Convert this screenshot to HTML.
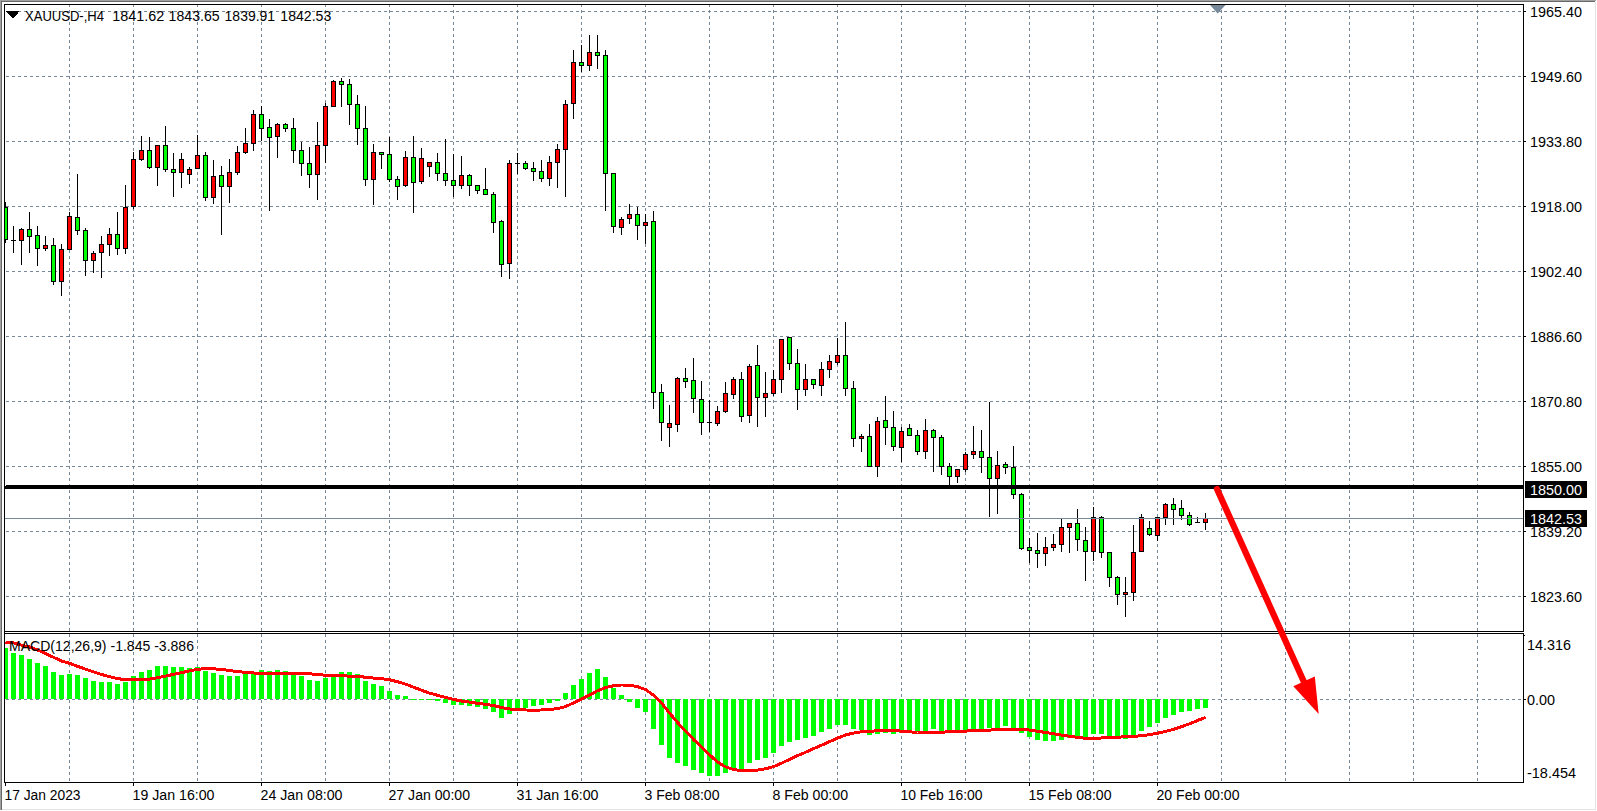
<!DOCTYPE html>
<html><head><meta charset="utf-8"><title>XAUUSD H4</title>
<style>html,body{margin:0;padding:0;background:#fff;width:1597px;height:811px;overflow:hidden}svg{display:block}text{shape-rendering:auto}</style>
</head><body><svg width="1597" height="811" viewBox="0 0 1597 811" shape-rendering="crispEdges"><rect x="0" y="0" width="1597" height="811" fill="#ffffff"/><rect x="0" y="0" width="1596" height="1" fill="#a0a0a0"/><rect x="0" y="1" width="1595" height="1" fill="#696969"/><rect x="0" y="0" width="1" height="810" fill="#a0a0a0"/><rect x="1" y="1" width="1" height="809" fill="#696969"/><rect x="1595" y="2" width="1" height="808" fill="#e3e3e3"/><rect x="2" y="809" width="1594" height="1" fill="#e3e3e3"/><path d="M6 11h3v1h-3zM12 11h3v1h-3zM18 11h3v1h-3zM24 11h3v1h-3zM30 11h3v1h-3zM36 11h3v1h-3zM42 11h3v1h-3zM48 11h3v1h-3zM54 11h3v1h-3zM60 11h3v1h-3zM66 11h3v1h-3zM72 11h3v1h-3zM78 11h3v1h-3zM84 11h3v1h-3zM90 11h3v1h-3zM96 11h3v1h-3zM102 11h3v1h-3zM108 11h3v1h-3zM114 11h3v1h-3zM120 11h3v1h-3zM126 11h3v1h-3zM132 11h3v1h-3zM138 11h3v1h-3zM144 11h3v1h-3zM150 11h3v1h-3zM156 11h3v1h-3zM162 11h3v1h-3zM168 11h3v1h-3zM174 11h3v1h-3zM180 11h3v1h-3zM186 11h3v1h-3zM192 11h3v1h-3zM198 11h3v1h-3zM204 11h3v1h-3zM210 11h3v1h-3zM216 11h3v1h-3zM222 11h3v1h-3zM228 11h3v1h-3zM234 11h3v1h-3zM240 11h3v1h-3zM246 11h3v1h-3zM252 11h3v1h-3zM258 11h3v1h-3zM264 11h3v1h-3zM270 11h3v1h-3zM276 11h3v1h-3zM282 11h3v1h-3zM288 11h3v1h-3zM294 11h3v1h-3zM300 11h3v1h-3zM306 11h3v1h-3zM312 11h3v1h-3zM318 11h3v1h-3zM324 11h3v1h-3zM330 11h3v1h-3zM336 11h3v1h-3zM342 11h3v1h-3zM348 11h3v1h-3zM354 11h3v1h-3zM360 11h3v1h-3zM366 11h3v1h-3zM372 11h3v1h-3zM378 11h3v1h-3zM384 11h3v1h-3zM390 11h3v1h-3zM396 11h3v1h-3zM402 11h3v1h-3zM408 11h3v1h-3zM414 11h3v1h-3zM420 11h3v1h-3zM426 11h3v1h-3zM432 11h3v1h-3zM438 11h3v1h-3zM444 11h3v1h-3zM450 11h3v1h-3zM456 11h3v1h-3zM462 11h3v1h-3zM468 11h3v1h-3zM474 11h3v1h-3zM480 11h3v1h-3zM486 11h3v1h-3zM492 11h3v1h-3zM498 11h3v1h-3zM504 11h3v1h-3zM510 11h3v1h-3zM516 11h3v1h-3zM522 11h3v1h-3zM528 11h3v1h-3zM534 11h3v1h-3zM540 11h3v1h-3zM546 11h3v1h-3zM552 11h3v1h-3zM558 11h3v1h-3zM564 11h3v1h-3zM570 11h3v1h-3zM576 11h3v1h-3zM582 11h3v1h-3zM588 11h3v1h-3zM594 11h3v1h-3zM600 11h3v1h-3zM606 11h3v1h-3zM612 11h3v1h-3zM618 11h3v1h-3zM624 11h3v1h-3zM630 11h3v1h-3zM636 11h3v1h-3zM642 11h3v1h-3zM648 11h3v1h-3zM654 11h3v1h-3zM660 11h3v1h-3zM666 11h3v1h-3zM672 11h3v1h-3zM678 11h3v1h-3zM684 11h3v1h-3zM690 11h3v1h-3zM696 11h3v1h-3zM702 11h3v1h-3zM708 11h3v1h-3zM714 11h3v1h-3zM720 11h3v1h-3zM726 11h3v1h-3zM732 11h3v1h-3zM738 11h3v1h-3zM744 11h3v1h-3zM750 11h3v1h-3zM756 11h3v1h-3zM762 11h3v1h-3zM768 11h3v1h-3zM774 11h3v1h-3zM780 11h3v1h-3zM786 11h3v1h-3zM792 11h3v1h-3zM798 11h3v1h-3zM804 11h3v1h-3zM810 11h3v1h-3zM816 11h3v1h-3zM822 11h3v1h-3zM828 11h3v1h-3zM834 11h3v1h-3zM840 11h3v1h-3zM846 11h3v1h-3zM852 11h3v1h-3zM858 11h3v1h-3zM864 11h3v1h-3zM870 11h3v1h-3zM876 11h3v1h-3zM882 11h3v1h-3zM888 11h3v1h-3zM894 11h3v1h-3zM900 11h3v1h-3zM906 11h3v1h-3zM912 11h3v1h-3zM918 11h3v1h-3zM924 11h3v1h-3zM930 11h3v1h-3zM936 11h3v1h-3zM942 11h3v1h-3zM948 11h3v1h-3zM954 11h3v1h-3zM960 11h3v1h-3zM966 11h3v1h-3zM972 11h3v1h-3zM978 11h3v1h-3zM984 11h3v1h-3zM990 11h3v1h-3zM996 11h3v1h-3zM1002 11h3v1h-3zM1008 11h3v1h-3zM1014 11h3v1h-3zM1020 11h3v1h-3zM1026 11h3v1h-3zM1032 11h3v1h-3zM1038 11h3v1h-3zM1044 11h3v1h-3zM1050 11h3v1h-3zM1056 11h3v1h-3zM1062 11h3v1h-3zM1068 11h3v1h-3zM1074 11h3v1h-3zM1080 11h3v1h-3zM1086 11h3v1h-3zM1092 11h3v1h-3zM1098 11h3v1h-3zM1104 11h3v1h-3zM1110 11h3v1h-3zM1116 11h3v1h-3zM1122 11h3v1h-3zM1128 11h3v1h-3zM1134 11h3v1h-3zM1140 11h3v1h-3zM1146 11h3v1h-3zM1152 11h3v1h-3zM1158 11h3v1h-3zM1164 11h3v1h-3zM1170 11h3v1h-3zM1176 11h3v1h-3zM1182 11h3v1h-3zM1188 11h3v1h-3zM1194 11h3v1h-3zM1200 11h3v1h-3zM1206 11h3v1h-3zM1212 11h3v1h-3zM1218 11h3v1h-3zM1224 11h3v1h-3zM1230 11h3v1h-3zM1236 11h3v1h-3zM1242 11h3v1h-3zM1248 11h3v1h-3zM1254 11h3v1h-3zM1260 11h3v1h-3zM1266 11h3v1h-3zM1272 11h3v1h-3zM1278 11h3v1h-3zM1284 11h3v1h-3zM1290 11h3v1h-3zM1296 11h3v1h-3zM1302 11h3v1h-3zM1308 11h3v1h-3zM1314 11h3v1h-3zM1320 11h3v1h-3zM1326 11h3v1h-3zM1332 11h3v1h-3zM1338 11h3v1h-3zM1344 11h3v1h-3zM1350 11h3v1h-3zM1356 11h3v1h-3zM1362 11h3v1h-3zM1368 11h3v1h-3zM1374 11h3v1h-3zM1380 11h3v1h-3zM1386 11h3v1h-3zM1392 11h3v1h-3zM1398 11h3v1h-3zM1404 11h3v1h-3zM1410 11h3v1h-3zM1416 11h3v1h-3zM1422 11h3v1h-3zM1428 11h3v1h-3zM1434 11h3v1h-3zM1440 11h3v1h-3zM1446 11h3v1h-3zM1452 11h3v1h-3zM1458 11h3v1h-3zM1464 11h3v1h-3zM1470 11h3v1h-3zM1476 11h3v1h-3zM1482 11h3v1h-3zM1488 11h3v1h-3zM1494 11h3v1h-3zM1500 11h3v1h-3zM1506 11h3v1h-3zM1512 11h3v1h-3zM1518 11h3v1h-3zM6 76h3v1h-3zM12 76h3v1h-3zM18 76h3v1h-3zM24 76h3v1h-3zM30 76h3v1h-3zM36 76h3v1h-3zM42 76h3v1h-3zM48 76h3v1h-3zM54 76h3v1h-3zM60 76h3v1h-3zM66 76h3v1h-3zM72 76h3v1h-3zM78 76h3v1h-3zM84 76h3v1h-3zM90 76h3v1h-3zM96 76h3v1h-3zM102 76h3v1h-3zM108 76h3v1h-3zM114 76h3v1h-3zM120 76h3v1h-3zM126 76h3v1h-3zM132 76h3v1h-3zM138 76h3v1h-3zM144 76h3v1h-3zM150 76h3v1h-3zM156 76h3v1h-3zM162 76h3v1h-3zM168 76h3v1h-3zM174 76h3v1h-3zM180 76h3v1h-3zM186 76h3v1h-3zM192 76h3v1h-3zM198 76h3v1h-3zM204 76h3v1h-3zM210 76h3v1h-3zM216 76h3v1h-3zM222 76h3v1h-3zM228 76h3v1h-3zM234 76h3v1h-3zM240 76h3v1h-3zM246 76h3v1h-3zM252 76h3v1h-3zM258 76h3v1h-3zM264 76h3v1h-3zM270 76h3v1h-3zM276 76h3v1h-3zM282 76h3v1h-3zM288 76h3v1h-3zM294 76h3v1h-3zM300 76h3v1h-3zM306 76h3v1h-3zM312 76h3v1h-3zM318 76h3v1h-3zM324 76h3v1h-3zM330 76h3v1h-3zM336 76h3v1h-3zM342 76h3v1h-3zM348 76h3v1h-3zM354 76h3v1h-3zM360 76h3v1h-3zM366 76h3v1h-3zM372 76h3v1h-3zM378 76h3v1h-3zM384 76h3v1h-3zM390 76h3v1h-3zM396 76h3v1h-3zM402 76h3v1h-3zM408 76h3v1h-3zM414 76h3v1h-3zM420 76h3v1h-3zM426 76h3v1h-3zM432 76h3v1h-3zM438 76h3v1h-3zM444 76h3v1h-3zM450 76h3v1h-3zM456 76h3v1h-3zM462 76h3v1h-3zM468 76h3v1h-3zM474 76h3v1h-3zM480 76h3v1h-3zM486 76h3v1h-3zM492 76h3v1h-3zM498 76h3v1h-3zM504 76h3v1h-3zM510 76h3v1h-3zM516 76h3v1h-3zM522 76h3v1h-3zM528 76h3v1h-3zM534 76h3v1h-3zM540 76h3v1h-3zM546 76h3v1h-3zM552 76h3v1h-3zM558 76h3v1h-3zM564 76h3v1h-3zM570 76h3v1h-3zM576 76h3v1h-3zM582 76h3v1h-3zM588 76h3v1h-3zM594 76h3v1h-3zM600 76h3v1h-3zM606 76h3v1h-3zM612 76h3v1h-3zM618 76h3v1h-3zM624 76h3v1h-3zM630 76h3v1h-3zM636 76h3v1h-3zM642 76h3v1h-3zM648 76h3v1h-3zM654 76h3v1h-3zM660 76h3v1h-3zM666 76h3v1h-3zM672 76h3v1h-3zM678 76h3v1h-3zM684 76h3v1h-3zM690 76h3v1h-3zM696 76h3v1h-3zM702 76h3v1h-3zM708 76h3v1h-3zM714 76h3v1h-3zM720 76h3v1h-3zM726 76h3v1h-3zM732 76h3v1h-3zM738 76h3v1h-3zM744 76h3v1h-3zM750 76h3v1h-3zM756 76h3v1h-3zM762 76h3v1h-3zM768 76h3v1h-3zM774 76h3v1h-3zM780 76h3v1h-3zM786 76h3v1h-3zM792 76h3v1h-3zM798 76h3v1h-3zM804 76h3v1h-3zM810 76h3v1h-3zM816 76h3v1h-3zM822 76h3v1h-3zM828 76h3v1h-3zM834 76h3v1h-3zM840 76h3v1h-3zM846 76h3v1h-3zM852 76h3v1h-3zM858 76h3v1h-3zM864 76h3v1h-3zM870 76h3v1h-3zM876 76h3v1h-3zM882 76h3v1h-3zM888 76h3v1h-3zM894 76h3v1h-3zM900 76h3v1h-3zM906 76h3v1h-3zM912 76h3v1h-3zM918 76h3v1h-3zM924 76h3v1h-3zM930 76h3v1h-3zM936 76h3v1h-3zM942 76h3v1h-3zM948 76h3v1h-3zM954 76h3v1h-3zM960 76h3v1h-3zM966 76h3v1h-3zM972 76h3v1h-3zM978 76h3v1h-3zM984 76h3v1h-3zM990 76h3v1h-3zM996 76h3v1h-3zM1002 76h3v1h-3zM1008 76h3v1h-3zM1014 76h3v1h-3zM1020 76h3v1h-3zM1026 76h3v1h-3zM1032 76h3v1h-3zM1038 76h3v1h-3zM1044 76h3v1h-3zM1050 76h3v1h-3zM1056 76h3v1h-3zM1062 76h3v1h-3zM1068 76h3v1h-3zM1074 76h3v1h-3zM1080 76h3v1h-3zM1086 76h3v1h-3zM1092 76h3v1h-3zM1098 76h3v1h-3zM1104 76h3v1h-3zM1110 76h3v1h-3zM1116 76h3v1h-3zM1122 76h3v1h-3zM1128 76h3v1h-3zM1134 76h3v1h-3zM1140 76h3v1h-3zM1146 76h3v1h-3zM1152 76h3v1h-3zM1158 76h3v1h-3zM1164 76h3v1h-3zM1170 76h3v1h-3zM1176 76h3v1h-3zM1182 76h3v1h-3zM1188 76h3v1h-3zM1194 76h3v1h-3zM1200 76h3v1h-3zM1206 76h3v1h-3zM1212 76h3v1h-3zM1218 76h3v1h-3zM1224 76h3v1h-3zM1230 76h3v1h-3zM1236 76h3v1h-3zM1242 76h3v1h-3zM1248 76h3v1h-3zM1254 76h3v1h-3zM1260 76h3v1h-3zM1266 76h3v1h-3zM1272 76h3v1h-3zM1278 76h3v1h-3zM1284 76h3v1h-3zM1290 76h3v1h-3zM1296 76h3v1h-3zM1302 76h3v1h-3zM1308 76h3v1h-3zM1314 76h3v1h-3zM1320 76h3v1h-3zM1326 76h3v1h-3zM1332 76h3v1h-3zM1338 76h3v1h-3zM1344 76h3v1h-3zM1350 76h3v1h-3zM1356 76h3v1h-3zM1362 76h3v1h-3zM1368 76h3v1h-3zM1374 76h3v1h-3zM1380 76h3v1h-3zM1386 76h3v1h-3zM1392 76h3v1h-3zM1398 76h3v1h-3zM1404 76h3v1h-3zM1410 76h3v1h-3zM1416 76h3v1h-3zM1422 76h3v1h-3zM1428 76h3v1h-3zM1434 76h3v1h-3zM1440 76h3v1h-3zM1446 76h3v1h-3zM1452 76h3v1h-3zM1458 76h3v1h-3zM1464 76h3v1h-3zM1470 76h3v1h-3zM1476 76h3v1h-3zM1482 76h3v1h-3zM1488 76h3v1h-3zM1494 76h3v1h-3zM1500 76h3v1h-3zM1506 76h3v1h-3zM1512 76h3v1h-3zM1518 76h3v1h-3zM6 141h3v1h-3zM12 141h3v1h-3zM18 141h3v1h-3zM24 141h3v1h-3zM30 141h3v1h-3zM36 141h3v1h-3zM42 141h3v1h-3zM48 141h3v1h-3zM54 141h3v1h-3zM60 141h3v1h-3zM66 141h3v1h-3zM72 141h3v1h-3zM78 141h3v1h-3zM84 141h3v1h-3zM90 141h3v1h-3zM96 141h3v1h-3zM102 141h3v1h-3zM108 141h3v1h-3zM114 141h3v1h-3zM120 141h3v1h-3zM126 141h3v1h-3zM132 141h3v1h-3zM138 141h3v1h-3zM144 141h3v1h-3zM150 141h3v1h-3zM156 141h3v1h-3zM162 141h3v1h-3zM168 141h3v1h-3zM174 141h3v1h-3zM180 141h3v1h-3zM186 141h3v1h-3zM192 141h3v1h-3zM198 141h3v1h-3zM204 141h3v1h-3zM210 141h3v1h-3zM216 141h3v1h-3zM222 141h3v1h-3zM228 141h3v1h-3zM234 141h3v1h-3zM240 141h3v1h-3zM246 141h3v1h-3zM252 141h3v1h-3zM258 141h3v1h-3zM264 141h3v1h-3zM270 141h3v1h-3zM276 141h3v1h-3zM282 141h3v1h-3zM288 141h3v1h-3zM294 141h3v1h-3zM300 141h3v1h-3zM306 141h3v1h-3zM312 141h3v1h-3zM318 141h3v1h-3zM324 141h3v1h-3zM330 141h3v1h-3zM336 141h3v1h-3zM342 141h3v1h-3zM348 141h3v1h-3zM354 141h3v1h-3zM360 141h3v1h-3zM366 141h3v1h-3zM372 141h3v1h-3zM378 141h3v1h-3zM384 141h3v1h-3zM390 141h3v1h-3zM396 141h3v1h-3zM402 141h3v1h-3zM408 141h3v1h-3zM414 141h3v1h-3zM420 141h3v1h-3zM426 141h3v1h-3zM432 141h3v1h-3zM438 141h3v1h-3zM444 141h3v1h-3zM450 141h3v1h-3zM456 141h3v1h-3zM462 141h3v1h-3zM468 141h3v1h-3zM474 141h3v1h-3zM480 141h3v1h-3zM486 141h3v1h-3zM492 141h3v1h-3zM498 141h3v1h-3zM504 141h3v1h-3zM510 141h3v1h-3zM516 141h3v1h-3zM522 141h3v1h-3zM528 141h3v1h-3zM534 141h3v1h-3zM540 141h3v1h-3zM546 141h3v1h-3zM552 141h3v1h-3zM558 141h3v1h-3zM564 141h3v1h-3zM570 141h3v1h-3zM576 141h3v1h-3zM582 141h3v1h-3zM588 141h3v1h-3zM594 141h3v1h-3zM600 141h3v1h-3zM606 141h3v1h-3zM612 141h3v1h-3zM618 141h3v1h-3zM624 141h3v1h-3zM630 141h3v1h-3zM636 141h3v1h-3zM642 141h3v1h-3zM648 141h3v1h-3zM654 141h3v1h-3zM660 141h3v1h-3zM666 141h3v1h-3zM672 141h3v1h-3zM678 141h3v1h-3zM684 141h3v1h-3zM690 141h3v1h-3zM696 141h3v1h-3zM702 141h3v1h-3zM708 141h3v1h-3zM714 141h3v1h-3zM720 141h3v1h-3zM726 141h3v1h-3zM732 141h3v1h-3zM738 141h3v1h-3zM744 141h3v1h-3zM750 141h3v1h-3zM756 141h3v1h-3zM762 141h3v1h-3zM768 141h3v1h-3zM774 141h3v1h-3zM780 141h3v1h-3zM786 141h3v1h-3zM792 141h3v1h-3zM798 141h3v1h-3zM804 141h3v1h-3zM810 141h3v1h-3zM816 141h3v1h-3zM822 141h3v1h-3zM828 141h3v1h-3zM834 141h3v1h-3zM840 141h3v1h-3zM846 141h3v1h-3zM852 141h3v1h-3zM858 141h3v1h-3zM864 141h3v1h-3zM870 141h3v1h-3zM876 141h3v1h-3zM882 141h3v1h-3zM888 141h3v1h-3zM894 141h3v1h-3zM900 141h3v1h-3zM906 141h3v1h-3zM912 141h3v1h-3zM918 141h3v1h-3zM924 141h3v1h-3zM930 141h3v1h-3zM936 141h3v1h-3zM942 141h3v1h-3zM948 141h3v1h-3zM954 141h3v1h-3zM960 141h3v1h-3zM966 141h3v1h-3zM972 141h3v1h-3zM978 141h3v1h-3zM984 141h3v1h-3zM990 141h3v1h-3zM996 141h3v1h-3zM1002 141h3v1h-3zM1008 141h3v1h-3zM1014 141h3v1h-3zM1020 141h3v1h-3zM1026 141h3v1h-3zM1032 141h3v1h-3zM1038 141h3v1h-3zM1044 141h3v1h-3zM1050 141h3v1h-3zM1056 141h3v1h-3zM1062 141h3v1h-3zM1068 141h3v1h-3zM1074 141h3v1h-3zM1080 141h3v1h-3zM1086 141h3v1h-3zM1092 141h3v1h-3zM1098 141h3v1h-3zM1104 141h3v1h-3zM1110 141h3v1h-3zM1116 141h3v1h-3zM1122 141h3v1h-3zM1128 141h3v1h-3zM1134 141h3v1h-3zM1140 141h3v1h-3zM1146 141h3v1h-3zM1152 141h3v1h-3zM1158 141h3v1h-3zM1164 141h3v1h-3zM1170 141h3v1h-3zM1176 141h3v1h-3zM1182 141h3v1h-3zM1188 141h3v1h-3zM1194 141h3v1h-3zM1200 141h3v1h-3zM1206 141h3v1h-3zM1212 141h3v1h-3zM1218 141h3v1h-3zM1224 141h3v1h-3zM1230 141h3v1h-3zM1236 141h3v1h-3zM1242 141h3v1h-3zM1248 141h3v1h-3zM1254 141h3v1h-3zM1260 141h3v1h-3zM1266 141h3v1h-3zM1272 141h3v1h-3zM1278 141h3v1h-3zM1284 141h3v1h-3zM1290 141h3v1h-3zM1296 141h3v1h-3zM1302 141h3v1h-3zM1308 141h3v1h-3zM1314 141h3v1h-3zM1320 141h3v1h-3zM1326 141h3v1h-3zM1332 141h3v1h-3zM1338 141h3v1h-3zM1344 141h3v1h-3zM1350 141h3v1h-3zM1356 141h3v1h-3zM1362 141h3v1h-3zM1368 141h3v1h-3zM1374 141h3v1h-3zM1380 141h3v1h-3zM1386 141h3v1h-3zM1392 141h3v1h-3zM1398 141h3v1h-3zM1404 141h3v1h-3zM1410 141h3v1h-3zM1416 141h3v1h-3zM1422 141h3v1h-3zM1428 141h3v1h-3zM1434 141h3v1h-3zM1440 141h3v1h-3zM1446 141h3v1h-3zM1452 141h3v1h-3zM1458 141h3v1h-3zM1464 141h3v1h-3zM1470 141h3v1h-3zM1476 141h3v1h-3zM1482 141h3v1h-3zM1488 141h3v1h-3zM1494 141h3v1h-3zM1500 141h3v1h-3zM1506 141h3v1h-3zM1512 141h3v1h-3zM1518 141h3v1h-3zM6 206h3v1h-3zM12 206h3v1h-3zM18 206h3v1h-3zM24 206h3v1h-3zM30 206h3v1h-3zM36 206h3v1h-3zM42 206h3v1h-3zM48 206h3v1h-3zM54 206h3v1h-3zM60 206h3v1h-3zM66 206h3v1h-3zM72 206h3v1h-3zM78 206h3v1h-3zM84 206h3v1h-3zM90 206h3v1h-3zM96 206h3v1h-3zM102 206h3v1h-3zM108 206h3v1h-3zM114 206h3v1h-3zM120 206h3v1h-3zM126 206h3v1h-3zM132 206h3v1h-3zM138 206h3v1h-3zM144 206h3v1h-3zM150 206h3v1h-3zM156 206h3v1h-3zM162 206h3v1h-3zM168 206h3v1h-3zM174 206h3v1h-3zM180 206h3v1h-3zM186 206h3v1h-3zM192 206h3v1h-3zM198 206h3v1h-3zM204 206h3v1h-3zM210 206h3v1h-3zM216 206h3v1h-3zM222 206h3v1h-3zM228 206h3v1h-3zM234 206h3v1h-3zM240 206h3v1h-3zM246 206h3v1h-3zM252 206h3v1h-3zM258 206h3v1h-3zM264 206h3v1h-3zM270 206h3v1h-3zM276 206h3v1h-3zM282 206h3v1h-3zM288 206h3v1h-3zM294 206h3v1h-3zM300 206h3v1h-3zM306 206h3v1h-3zM312 206h3v1h-3zM318 206h3v1h-3zM324 206h3v1h-3zM330 206h3v1h-3zM336 206h3v1h-3zM342 206h3v1h-3zM348 206h3v1h-3zM354 206h3v1h-3zM360 206h3v1h-3zM366 206h3v1h-3zM372 206h3v1h-3zM378 206h3v1h-3zM384 206h3v1h-3zM390 206h3v1h-3zM396 206h3v1h-3zM402 206h3v1h-3zM408 206h3v1h-3zM414 206h3v1h-3zM420 206h3v1h-3zM426 206h3v1h-3zM432 206h3v1h-3zM438 206h3v1h-3zM444 206h3v1h-3zM450 206h3v1h-3zM456 206h3v1h-3zM462 206h3v1h-3zM468 206h3v1h-3zM474 206h3v1h-3zM480 206h3v1h-3zM486 206h3v1h-3zM492 206h3v1h-3zM498 206h3v1h-3zM504 206h3v1h-3zM510 206h3v1h-3zM516 206h3v1h-3zM522 206h3v1h-3zM528 206h3v1h-3zM534 206h3v1h-3zM540 206h3v1h-3zM546 206h3v1h-3zM552 206h3v1h-3zM558 206h3v1h-3zM564 206h3v1h-3zM570 206h3v1h-3zM576 206h3v1h-3zM582 206h3v1h-3zM588 206h3v1h-3zM594 206h3v1h-3zM600 206h3v1h-3zM606 206h3v1h-3zM612 206h3v1h-3zM618 206h3v1h-3zM624 206h3v1h-3zM630 206h3v1h-3zM636 206h3v1h-3zM642 206h3v1h-3zM648 206h3v1h-3zM654 206h3v1h-3zM660 206h3v1h-3zM666 206h3v1h-3zM672 206h3v1h-3zM678 206h3v1h-3zM684 206h3v1h-3zM690 206h3v1h-3zM696 206h3v1h-3zM702 206h3v1h-3zM708 206h3v1h-3zM714 206h3v1h-3zM720 206h3v1h-3zM726 206h3v1h-3zM732 206h3v1h-3zM738 206h3v1h-3zM744 206h3v1h-3zM750 206h3v1h-3zM756 206h3v1h-3zM762 206h3v1h-3zM768 206h3v1h-3zM774 206h3v1h-3zM780 206h3v1h-3zM786 206h3v1h-3zM792 206h3v1h-3zM798 206h3v1h-3zM804 206h3v1h-3zM810 206h3v1h-3zM816 206h3v1h-3zM822 206h3v1h-3zM828 206h3v1h-3zM834 206h3v1h-3zM840 206h3v1h-3zM846 206h3v1h-3zM852 206h3v1h-3zM858 206h3v1h-3zM864 206h3v1h-3zM870 206h3v1h-3zM876 206h3v1h-3zM882 206h3v1h-3zM888 206h3v1h-3zM894 206h3v1h-3zM900 206h3v1h-3zM906 206h3v1h-3zM912 206h3v1h-3zM918 206h3v1h-3zM924 206h3v1h-3zM930 206h3v1h-3zM936 206h3v1h-3zM942 206h3v1h-3zM948 206h3v1h-3zM954 206h3v1h-3zM960 206h3v1h-3zM966 206h3v1h-3zM972 206h3v1h-3zM978 206h3v1h-3zM984 206h3v1h-3zM990 206h3v1h-3zM996 206h3v1h-3zM1002 206h3v1h-3zM1008 206h3v1h-3zM1014 206h3v1h-3zM1020 206h3v1h-3zM1026 206h3v1h-3zM1032 206h3v1h-3zM1038 206h3v1h-3zM1044 206h3v1h-3zM1050 206h3v1h-3zM1056 206h3v1h-3zM1062 206h3v1h-3zM1068 206h3v1h-3zM1074 206h3v1h-3zM1080 206h3v1h-3zM1086 206h3v1h-3zM1092 206h3v1h-3zM1098 206h3v1h-3zM1104 206h3v1h-3zM1110 206h3v1h-3zM1116 206h3v1h-3zM1122 206h3v1h-3zM1128 206h3v1h-3zM1134 206h3v1h-3zM1140 206h3v1h-3zM1146 206h3v1h-3zM1152 206h3v1h-3zM1158 206h3v1h-3zM1164 206h3v1h-3zM1170 206h3v1h-3zM1176 206h3v1h-3zM1182 206h3v1h-3zM1188 206h3v1h-3zM1194 206h3v1h-3zM1200 206h3v1h-3zM1206 206h3v1h-3zM1212 206h3v1h-3zM1218 206h3v1h-3zM1224 206h3v1h-3zM1230 206h3v1h-3zM1236 206h3v1h-3zM1242 206h3v1h-3zM1248 206h3v1h-3zM1254 206h3v1h-3zM1260 206h3v1h-3zM1266 206h3v1h-3zM1272 206h3v1h-3zM1278 206h3v1h-3zM1284 206h3v1h-3zM1290 206h3v1h-3zM1296 206h3v1h-3zM1302 206h3v1h-3zM1308 206h3v1h-3zM1314 206h3v1h-3zM1320 206h3v1h-3zM1326 206h3v1h-3zM1332 206h3v1h-3zM1338 206h3v1h-3zM1344 206h3v1h-3zM1350 206h3v1h-3zM1356 206h3v1h-3zM1362 206h3v1h-3zM1368 206h3v1h-3zM1374 206h3v1h-3zM1380 206h3v1h-3zM1386 206h3v1h-3zM1392 206h3v1h-3zM1398 206h3v1h-3zM1404 206h3v1h-3zM1410 206h3v1h-3zM1416 206h3v1h-3zM1422 206h3v1h-3zM1428 206h3v1h-3zM1434 206h3v1h-3zM1440 206h3v1h-3zM1446 206h3v1h-3zM1452 206h3v1h-3zM1458 206h3v1h-3zM1464 206h3v1h-3zM1470 206h3v1h-3zM1476 206h3v1h-3zM1482 206h3v1h-3zM1488 206h3v1h-3zM1494 206h3v1h-3zM1500 206h3v1h-3zM1506 206h3v1h-3zM1512 206h3v1h-3zM1518 206h3v1h-3zM6 271h3v1h-3zM12 271h3v1h-3zM18 271h3v1h-3zM24 271h3v1h-3zM30 271h3v1h-3zM36 271h3v1h-3zM42 271h3v1h-3zM48 271h3v1h-3zM54 271h3v1h-3zM60 271h3v1h-3zM66 271h3v1h-3zM72 271h3v1h-3zM78 271h3v1h-3zM84 271h3v1h-3zM90 271h3v1h-3zM96 271h3v1h-3zM102 271h3v1h-3zM108 271h3v1h-3zM114 271h3v1h-3zM120 271h3v1h-3zM126 271h3v1h-3zM132 271h3v1h-3zM138 271h3v1h-3zM144 271h3v1h-3zM150 271h3v1h-3zM156 271h3v1h-3zM162 271h3v1h-3zM168 271h3v1h-3zM174 271h3v1h-3zM180 271h3v1h-3zM186 271h3v1h-3zM192 271h3v1h-3zM198 271h3v1h-3zM204 271h3v1h-3zM210 271h3v1h-3zM216 271h3v1h-3zM222 271h3v1h-3zM228 271h3v1h-3zM234 271h3v1h-3zM240 271h3v1h-3zM246 271h3v1h-3zM252 271h3v1h-3zM258 271h3v1h-3zM264 271h3v1h-3zM270 271h3v1h-3zM276 271h3v1h-3zM282 271h3v1h-3zM288 271h3v1h-3zM294 271h3v1h-3zM300 271h3v1h-3zM306 271h3v1h-3zM312 271h3v1h-3zM318 271h3v1h-3zM324 271h3v1h-3zM330 271h3v1h-3zM336 271h3v1h-3zM342 271h3v1h-3zM348 271h3v1h-3zM354 271h3v1h-3zM360 271h3v1h-3zM366 271h3v1h-3zM372 271h3v1h-3zM378 271h3v1h-3zM384 271h3v1h-3zM390 271h3v1h-3zM396 271h3v1h-3zM402 271h3v1h-3zM408 271h3v1h-3zM414 271h3v1h-3zM420 271h3v1h-3zM426 271h3v1h-3zM432 271h3v1h-3zM438 271h3v1h-3zM444 271h3v1h-3zM450 271h3v1h-3zM456 271h3v1h-3zM462 271h3v1h-3zM468 271h3v1h-3zM474 271h3v1h-3zM480 271h3v1h-3zM486 271h3v1h-3zM492 271h3v1h-3zM498 271h3v1h-3zM504 271h3v1h-3zM510 271h3v1h-3zM516 271h3v1h-3zM522 271h3v1h-3zM528 271h3v1h-3zM534 271h3v1h-3zM540 271h3v1h-3zM546 271h3v1h-3zM552 271h3v1h-3zM558 271h3v1h-3zM564 271h3v1h-3zM570 271h3v1h-3zM576 271h3v1h-3zM582 271h3v1h-3zM588 271h3v1h-3zM594 271h3v1h-3zM600 271h3v1h-3zM606 271h3v1h-3zM612 271h3v1h-3zM618 271h3v1h-3zM624 271h3v1h-3zM630 271h3v1h-3zM636 271h3v1h-3zM642 271h3v1h-3zM648 271h3v1h-3zM654 271h3v1h-3zM660 271h3v1h-3zM666 271h3v1h-3zM672 271h3v1h-3zM678 271h3v1h-3zM684 271h3v1h-3zM690 271h3v1h-3zM696 271h3v1h-3zM702 271h3v1h-3zM708 271h3v1h-3zM714 271h3v1h-3zM720 271h3v1h-3zM726 271h3v1h-3zM732 271h3v1h-3zM738 271h3v1h-3zM744 271h3v1h-3zM750 271h3v1h-3zM756 271h3v1h-3zM762 271h3v1h-3zM768 271h3v1h-3zM774 271h3v1h-3zM780 271h3v1h-3zM786 271h3v1h-3zM792 271h3v1h-3zM798 271h3v1h-3zM804 271h3v1h-3zM810 271h3v1h-3zM816 271h3v1h-3zM822 271h3v1h-3zM828 271h3v1h-3zM834 271h3v1h-3zM840 271h3v1h-3zM846 271h3v1h-3zM852 271h3v1h-3zM858 271h3v1h-3zM864 271h3v1h-3zM870 271h3v1h-3zM876 271h3v1h-3zM882 271h3v1h-3zM888 271h3v1h-3zM894 271h3v1h-3zM900 271h3v1h-3zM906 271h3v1h-3zM912 271h3v1h-3zM918 271h3v1h-3zM924 271h3v1h-3zM930 271h3v1h-3zM936 271h3v1h-3zM942 271h3v1h-3zM948 271h3v1h-3zM954 271h3v1h-3zM960 271h3v1h-3zM966 271h3v1h-3zM972 271h3v1h-3zM978 271h3v1h-3zM984 271h3v1h-3zM990 271h3v1h-3zM996 271h3v1h-3zM1002 271h3v1h-3zM1008 271h3v1h-3zM1014 271h3v1h-3zM1020 271h3v1h-3zM1026 271h3v1h-3zM1032 271h3v1h-3zM1038 271h3v1h-3zM1044 271h3v1h-3zM1050 271h3v1h-3zM1056 271h3v1h-3zM1062 271h3v1h-3zM1068 271h3v1h-3zM1074 271h3v1h-3zM1080 271h3v1h-3zM1086 271h3v1h-3zM1092 271h3v1h-3zM1098 271h3v1h-3zM1104 271h3v1h-3zM1110 271h3v1h-3zM1116 271h3v1h-3zM1122 271h3v1h-3zM1128 271h3v1h-3zM1134 271h3v1h-3zM1140 271h3v1h-3zM1146 271h3v1h-3zM1152 271h3v1h-3zM1158 271h3v1h-3zM1164 271h3v1h-3zM1170 271h3v1h-3zM1176 271h3v1h-3zM1182 271h3v1h-3zM1188 271h3v1h-3zM1194 271h3v1h-3zM1200 271h3v1h-3zM1206 271h3v1h-3zM1212 271h3v1h-3zM1218 271h3v1h-3zM1224 271h3v1h-3zM1230 271h3v1h-3zM1236 271h3v1h-3zM1242 271h3v1h-3zM1248 271h3v1h-3zM1254 271h3v1h-3zM1260 271h3v1h-3zM1266 271h3v1h-3zM1272 271h3v1h-3zM1278 271h3v1h-3zM1284 271h3v1h-3zM1290 271h3v1h-3zM1296 271h3v1h-3zM1302 271h3v1h-3zM1308 271h3v1h-3zM1314 271h3v1h-3zM1320 271h3v1h-3zM1326 271h3v1h-3zM1332 271h3v1h-3zM1338 271h3v1h-3zM1344 271h3v1h-3zM1350 271h3v1h-3zM1356 271h3v1h-3zM1362 271h3v1h-3zM1368 271h3v1h-3zM1374 271h3v1h-3zM1380 271h3v1h-3zM1386 271h3v1h-3zM1392 271h3v1h-3zM1398 271h3v1h-3zM1404 271h3v1h-3zM1410 271h3v1h-3zM1416 271h3v1h-3zM1422 271h3v1h-3zM1428 271h3v1h-3zM1434 271h3v1h-3zM1440 271h3v1h-3zM1446 271h3v1h-3zM1452 271h3v1h-3zM1458 271h3v1h-3zM1464 271h3v1h-3zM1470 271h3v1h-3zM1476 271h3v1h-3zM1482 271h3v1h-3zM1488 271h3v1h-3zM1494 271h3v1h-3zM1500 271h3v1h-3zM1506 271h3v1h-3zM1512 271h3v1h-3zM1518 271h3v1h-3zM6 336h3v1h-3zM12 336h3v1h-3zM18 336h3v1h-3zM24 336h3v1h-3zM30 336h3v1h-3zM36 336h3v1h-3zM42 336h3v1h-3zM48 336h3v1h-3zM54 336h3v1h-3zM60 336h3v1h-3zM66 336h3v1h-3zM72 336h3v1h-3zM78 336h3v1h-3zM84 336h3v1h-3zM90 336h3v1h-3zM96 336h3v1h-3zM102 336h3v1h-3zM108 336h3v1h-3zM114 336h3v1h-3zM120 336h3v1h-3zM126 336h3v1h-3zM132 336h3v1h-3zM138 336h3v1h-3zM144 336h3v1h-3zM150 336h3v1h-3zM156 336h3v1h-3zM162 336h3v1h-3zM168 336h3v1h-3zM174 336h3v1h-3zM180 336h3v1h-3zM186 336h3v1h-3zM192 336h3v1h-3zM198 336h3v1h-3zM204 336h3v1h-3zM210 336h3v1h-3zM216 336h3v1h-3zM222 336h3v1h-3zM228 336h3v1h-3zM234 336h3v1h-3zM240 336h3v1h-3zM246 336h3v1h-3zM252 336h3v1h-3zM258 336h3v1h-3zM264 336h3v1h-3zM270 336h3v1h-3zM276 336h3v1h-3zM282 336h3v1h-3zM288 336h3v1h-3zM294 336h3v1h-3zM300 336h3v1h-3zM306 336h3v1h-3zM312 336h3v1h-3zM318 336h3v1h-3zM324 336h3v1h-3zM330 336h3v1h-3zM336 336h3v1h-3zM342 336h3v1h-3zM348 336h3v1h-3zM354 336h3v1h-3zM360 336h3v1h-3zM366 336h3v1h-3zM372 336h3v1h-3zM378 336h3v1h-3zM384 336h3v1h-3zM390 336h3v1h-3zM396 336h3v1h-3zM402 336h3v1h-3zM408 336h3v1h-3zM414 336h3v1h-3zM420 336h3v1h-3zM426 336h3v1h-3zM432 336h3v1h-3zM438 336h3v1h-3zM444 336h3v1h-3zM450 336h3v1h-3zM456 336h3v1h-3zM462 336h3v1h-3zM468 336h3v1h-3zM474 336h3v1h-3zM480 336h3v1h-3zM486 336h3v1h-3zM492 336h3v1h-3zM498 336h3v1h-3zM504 336h3v1h-3zM510 336h3v1h-3zM516 336h3v1h-3zM522 336h3v1h-3zM528 336h3v1h-3zM534 336h3v1h-3zM540 336h3v1h-3zM546 336h3v1h-3zM552 336h3v1h-3zM558 336h3v1h-3zM564 336h3v1h-3zM570 336h3v1h-3zM576 336h3v1h-3zM582 336h3v1h-3zM588 336h3v1h-3zM594 336h3v1h-3zM600 336h3v1h-3zM606 336h3v1h-3zM612 336h3v1h-3zM618 336h3v1h-3zM624 336h3v1h-3zM630 336h3v1h-3zM636 336h3v1h-3zM642 336h3v1h-3zM648 336h3v1h-3zM654 336h3v1h-3zM660 336h3v1h-3zM666 336h3v1h-3zM672 336h3v1h-3zM678 336h3v1h-3zM684 336h3v1h-3zM690 336h3v1h-3zM696 336h3v1h-3zM702 336h3v1h-3zM708 336h3v1h-3zM714 336h3v1h-3zM720 336h3v1h-3zM726 336h3v1h-3zM732 336h3v1h-3zM738 336h3v1h-3zM744 336h3v1h-3zM750 336h3v1h-3zM756 336h3v1h-3zM762 336h3v1h-3zM768 336h3v1h-3zM774 336h3v1h-3zM780 336h3v1h-3zM786 336h3v1h-3zM792 336h3v1h-3zM798 336h3v1h-3zM804 336h3v1h-3zM810 336h3v1h-3zM816 336h3v1h-3zM822 336h3v1h-3zM828 336h3v1h-3zM834 336h3v1h-3zM840 336h3v1h-3zM846 336h3v1h-3zM852 336h3v1h-3zM858 336h3v1h-3zM864 336h3v1h-3zM870 336h3v1h-3zM876 336h3v1h-3zM882 336h3v1h-3zM888 336h3v1h-3zM894 336h3v1h-3zM900 336h3v1h-3zM906 336h3v1h-3zM912 336h3v1h-3zM918 336h3v1h-3zM924 336h3v1h-3zM930 336h3v1h-3zM936 336h3v1h-3zM942 336h3v1h-3zM948 336h3v1h-3zM954 336h3v1h-3zM960 336h3v1h-3zM966 336h3v1h-3zM972 336h3v1h-3zM978 336h3v1h-3zM984 336h3v1h-3zM990 336h3v1h-3zM996 336h3v1h-3zM1002 336h3v1h-3zM1008 336h3v1h-3zM1014 336h3v1h-3zM1020 336h3v1h-3zM1026 336h3v1h-3zM1032 336h3v1h-3zM1038 336h3v1h-3zM1044 336h3v1h-3zM1050 336h3v1h-3zM1056 336h3v1h-3zM1062 336h3v1h-3zM1068 336h3v1h-3zM1074 336h3v1h-3zM1080 336h3v1h-3zM1086 336h3v1h-3zM1092 336h3v1h-3zM1098 336h3v1h-3zM1104 336h3v1h-3zM1110 336h3v1h-3zM1116 336h3v1h-3zM1122 336h3v1h-3zM1128 336h3v1h-3zM1134 336h3v1h-3zM1140 336h3v1h-3zM1146 336h3v1h-3zM1152 336h3v1h-3zM1158 336h3v1h-3zM1164 336h3v1h-3zM1170 336h3v1h-3zM1176 336h3v1h-3zM1182 336h3v1h-3zM1188 336h3v1h-3zM1194 336h3v1h-3zM1200 336h3v1h-3zM1206 336h3v1h-3zM1212 336h3v1h-3zM1218 336h3v1h-3zM1224 336h3v1h-3zM1230 336h3v1h-3zM1236 336h3v1h-3zM1242 336h3v1h-3zM1248 336h3v1h-3zM1254 336h3v1h-3zM1260 336h3v1h-3zM1266 336h3v1h-3zM1272 336h3v1h-3zM1278 336h3v1h-3zM1284 336h3v1h-3zM1290 336h3v1h-3zM1296 336h3v1h-3zM1302 336h3v1h-3zM1308 336h3v1h-3zM1314 336h3v1h-3zM1320 336h3v1h-3zM1326 336h3v1h-3zM1332 336h3v1h-3zM1338 336h3v1h-3zM1344 336h3v1h-3zM1350 336h3v1h-3zM1356 336h3v1h-3zM1362 336h3v1h-3zM1368 336h3v1h-3zM1374 336h3v1h-3zM1380 336h3v1h-3zM1386 336h3v1h-3zM1392 336h3v1h-3zM1398 336h3v1h-3zM1404 336h3v1h-3zM1410 336h3v1h-3zM1416 336h3v1h-3zM1422 336h3v1h-3zM1428 336h3v1h-3zM1434 336h3v1h-3zM1440 336h3v1h-3zM1446 336h3v1h-3zM1452 336h3v1h-3zM1458 336h3v1h-3zM1464 336h3v1h-3zM1470 336h3v1h-3zM1476 336h3v1h-3zM1482 336h3v1h-3zM1488 336h3v1h-3zM1494 336h3v1h-3zM1500 336h3v1h-3zM1506 336h3v1h-3zM1512 336h3v1h-3zM1518 336h3v1h-3zM6 401h3v1h-3zM12 401h3v1h-3zM18 401h3v1h-3zM24 401h3v1h-3zM30 401h3v1h-3zM36 401h3v1h-3zM42 401h3v1h-3zM48 401h3v1h-3zM54 401h3v1h-3zM60 401h3v1h-3zM66 401h3v1h-3zM72 401h3v1h-3zM78 401h3v1h-3zM84 401h3v1h-3zM90 401h3v1h-3zM96 401h3v1h-3zM102 401h3v1h-3zM108 401h3v1h-3zM114 401h3v1h-3zM120 401h3v1h-3zM126 401h3v1h-3zM132 401h3v1h-3zM138 401h3v1h-3zM144 401h3v1h-3zM150 401h3v1h-3zM156 401h3v1h-3zM162 401h3v1h-3zM168 401h3v1h-3zM174 401h3v1h-3zM180 401h3v1h-3zM186 401h3v1h-3zM192 401h3v1h-3zM198 401h3v1h-3zM204 401h3v1h-3zM210 401h3v1h-3zM216 401h3v1h-3zM222 401h3v1h-3zM228 401h3v1h-3zM234 401h3v1h-3zM240 401h3v1h-3zM246 401h3v1h-3zM252 401h3v1h-3zM258 401h3v1h-3zM264 401h3v1h-3zM270 401h3v1h-3zM276 401h3v1h-3zM282 401h3v1h-3zM288 401h3v1h-3zM294 401h3v1h-3zM300 401h3v1h-3zM306 401h3v1h-3zM312 401h3v1h-3zM318 401h3v1h-3zM324 401h3v1h-3zM330 401h3v1h-3zM336 401h3v1h-3zM342 401h3v1h-3zM348 401h3v1h-3zM354 401h3v1h-3zM360 401h3v1h-3zM366 401h3v1h-3zM372 401h3v1h-3zM378 401h3v1h-3zM384 401h3v1h-3zM390 401h3v1h-3zM396 401h3v1h-3zM402 401h3v1h-3zM408 401h3v1h-3zM414 401h3v1h-3zM420 401h3v1h-3zM426 401h3v1h-3zM432 401h3v1h-3zM438 401h3v1h-3zM444 401h3v1h-3zM450 401h3v1h-3zM456 401h3v1h-3zM462 401h3v1h-3zM468 401h3v1h-3zM474 401h3v1h-3zM480 401h3v1h-3zM486 401h3v1h-3zM492 401h3v1h-3zM498 401h3v1h-3zM504 401h3v1h-3zM510 401h3v1h-3zM516 401h3v1h-3zM522 401h3v1h-3zM528 401h3v1h-3zM534 401h3v1h-3zM540 401h3v1h-3zM546 401h3v1h-3zM552 401h3v1h-3zM558 401h3v1h-3zM564 401h3v1h-3zM570 401h3v1h-3zM576 401h3v1h-3zM582 401h3v1h-3zM588 401h3v1h-3zM594 401h3v1h-3zM600 401h3v1h-3zM606 401h3v1h-3zM612 401h3v1h-3zM618 401h3v1h-3zM624 401h3v1h-3zM630 401h3v1h-3zM636 401h3v1h-3zM642 401h3v1h-3zM648 401h3v1h-3zM654 401h3v1h-3zM660 401h3v1h-3zM666 401h3v1h-3zM672 401h3v1h-3zM678 401h3v1h-3zM684 401h3v1h-3zM690 401h3v1h-3zM696 401h3v1h-3zM702 401h3v1h-3zM708 401h3v1h-3zM714 401h3v1h-3zM720 401h3v1h-3zM726 401h3v1h-3zM732 401h3v1h-3zM738 401h3v1h-3zM744 401h3v1h-3zM750 401h3v1h-3zM756 401h3v1h-3zM762 401h3v1h-3zM768 401h3v1h-3zM774 401h3v1h-3zM780 401h3v1h-3zM786 401h3v1h-3zM792 401h3v1h-3zM798 401h3v1h-3zM804 401h3v1h-3zM810 401h3v1h-3zM816 401h3v1h-3zM822 401h3v1h-3zM828 401h3v1h-3zM834 401h3v1h-3zM840 401h3v1h-3zM846 401h3v1h-3zM852 401h3v1h-3zM858 401h3v1h-3zM864 401h3v1h-3zM870 401h3v1h-3zM876 401h3v1h-3zM882 401h3v1h-3zM888 401h3v1h-3zM894 401h3v1h-3zM900 401h3v1h-3zM906 401h3v1h-3zM912 401h3v1h-3zM918 401h3v1h-3zM924 401h3v1h-3zM930 401h3v1h-3zM936 401h3v1h-3zM942 401h3v1h-3zM948 401h3v1h-3zM954 401h3v1h-3zM960 401h3v1h-3zM966 401h3v1h-3zM972 401h3v1h-3zM978 401h3v1h-3zM984 401h3v1h-3zM990 401h3v1h-3zM996 401h3v1h-3zM1002 401h3v1h-3zM1008 401h3v1h-3zM1014 401h3v1h-3zM1020 401h3v1h-3zM1026 401h3v1h-3zM1032 401h3v1h-3zM1038 401h3v1h-3zM1044 401h3v1h-3zM1050 401h3v1h-3zM1056 401h3v1h-3zM1062 401h3v1h-3zM1068 401h3v1h-3zM1074 401h3v1h-3zM1080 401h3v1h-3zM1086 401h3v1h-3zM1092 401h3v1h-3zM1098 401h3v1h-3zM1104 401h3v1h-3zM1110 401h3v1h-3zM1116 401h3v1h-3zM1122 401h3v1h-3zM1128 401h3v1h-3zM1134 401h3v1h-3zM1140 401h3v1h-3zM1146 401h3v1h-3zM1152 401h3v1h-3zM1158 401h3v1h-3zM1164 401h3v1h-3zM1170 401h3v1h-3zM1176 401h3v1h-3zM1182 401h3v1h-3zM1188 401h3v1h-3zM1194 401h3v1h-3zM1200 401h3v1h-3zM1206 401h3v1h-3zM1212 401h3v1h-3zM1218 401h3v1h-3zM1224 401h3v1h-3zM1230 401h3v1h-3zM1236 401h3v1h-3zM1242 401h3v1h-3zM1248 401h3v1h-3zM1254 401h3v1h-3zM1260 401h3v1h-3zM1266 401h3v1h-3zM1272 401h3v1h-3zM1278 401h3v1h-3zM1284 401h3v1h-3zM1290 401h3v1h-3zM1296 401h3v1h-3zM1302 401h3v1h-3zM1308 401h3v1h-3zM1314 401h3v1h-3zM1320 401h3v1h-3zM1326 401h3v1h-3zM1332 401h3v1h-3zM1338 401h3v1h-3zM1344 401h3v1h-3zM1350 401h3v1h-3zM1356 401h3v1h-3zM1362 401h3v1h-3zM1368 401h3v1h-3zM1374 401h3v1h-3zM1380 401h3v1h-3zM1386 401h3v1h-3zM1392 401h3v1h-3zM1398 401h3v1h-3zM1404 401h3v1h-3zM1410 401h3v1h-3zM1416 401h3v1h-3zM1422 401h3v1h-3zM1428 401h3v1h-3zM1434 401h3v1h-3zM1440 401h3v1h-3zM1446 401h3v1h-3zM1452 401h3v1h-3zM1458 401h3v1h-3zM1464 401h3v1h-3zM1470 401h3v1h-3zM1476 401h3v1h-3zM1482 401h3v1h-3zM1488 401h3v1h-3zM1494 401h3v1h-3zM1500 401h3v1h-3zM1506 401h3v1h-3zM1512 401h3v1h-3zM1518 401h3v1h-3zM6 466h3v1h-3zM12 466h3v1h-3zM18 466h3v1h-3zM24 466h3v1h-3zM30 466h3v1h-3zM36 466h3v1h-3zM42 466h3v1h-3zM48 466h3v1h-3zM54 466h3v1h-3zM60 466h3v1h-3zM66 466h3v1h-3zM72 466h3v1h-3zM78 466h3v1h-3zM84 466h3v1h-3zM90 466h3v1h-3zM96 466h3v1h-3zM102 466h3v1h-3zM108 466h3v1h-3zM114 466h3v1h-3zM120 466h3v1h-3zM126 466h3v1h-3zM132 466h3v1h-3zM138 466h3v1h-3zM144 466h3v1h-3zM150 466h3v1h-3zM156 466h3v1h-3zM162 466h3v1h-3zM168 466h3v1h-3zM174 466h3v1h-3zM180 466h3v1h-3zM186 466h3v1h-3zM192 466h3v1h-3zM198 466h3v1h-3zM204 466h3v1h-3zM210 466h3v1h-3zM216 466h3v1h-3zM222 466h3v1h-3zM228 466h3v1h-3zM234 466h3v1h-3zM240 466h3v1h-3zM246 466h3v1h-3zM252 466h3v1h-3zM258 466h3v1h-3zM264 466h3v1h-3zM270 466h3v1h-3zM276 466h3v1h-3zM282 466h3v1h-3zM288 466h3v1h-3zM294 466h3v1h-3zM300 466h3v1h-3zM306 466h3v1h-3zM312 466h3v1h-3zM318 466h3v1h-3zM324 466h3v1h-3zM330 466h3v1h-3zM336 466h3v1h-3zM342 466h3v1h-3zM348 466h3v1h-3zM354 466h3v1h-3zM360 466h3v1h-3zM366 466h3v1h-3zM372 466h3v1h-3zM378 466h3v1h-3zM384 466h3v1h-3zM390 466h3v1h-3zM396 466h3v1h-3zM402 466h3v1h-3zM408 466h3v1h-3zM414 466h3v1h-3zM420 466h3v1h-3zM426 466h3v1h-3zM432 466h3v1h-3zM438 466h3v1h-3zM444 466h3v1h-3zM450 466h3v1h-3zM456 466h3v1h-3zM462 466h3v1h-3zM468 466h3v1h-3zM474 466h3v1h-3zM480 466h3v1h-3zM486 466h3v1h-3zM492 466h3v1h-3zM498 466h3v1h-3zM504 466h3v1h-3zM510 466h3v1h-3zM516 466h3v1h-3zM522 466h3v1h-3zM528 466h3v1h-3zM534 466h3v1h-3zM540 466h3v1h-3zM546 466h3v1h-3zM552 466h3v1h-3zM558 466h3v1h-3zM564 466h3v1h-3zM570 466h3v1h-3zM576 466h3v1h-3zM582 466h3v1h-3zM588 466h3v1h-3zM594 466h3v1h-3zM600 466h3v1h-3zM606 466h3v1h-3zM612 466h3v1h-3zM618 466h3v1h-3zM624 466h3v1h-3zM630 466h3v1h-3zM636 466h3v1h-3zM642 466h3v1h-3zM648 466h3v1h-3zM654 466h3v1h-3zM660 466h3v1h-3zM666 466h3v1h-3zM672 466h3v1h-3zM678 466h3v1h-3zM684 466h3v1h-3zM690 466h3v1h-3zM696 466h3v1h-3zM702 466h3v1h-3zM708 466h3v1h-3zM714 466h3v1h-3zM720 466h3v1h-3zM726 466h3v1h-3zM732 466h3v1h-3zM738 466h3v1h-3zM744 466h3v1h-3zM750 466h3v1h-3zM756 466h3v1h-3zM762 466h3v1h-3zM768 466h3v1h-3zM774 466h3v1h-3zM780 466h3v1h-3zM786 466h3v1h-3zM792 466h3v1h-3zM798 466h3v1h-3zM804 466h3v1h-3zM810 466h3v1h-3zM816 466h3v1h-3zM822 466h3v1h-3zM828 466h3v1h-3zM834 466h3v1h-3zM840 466h3v1h-3zM846 466h3v1h-3zM852 466h3v1h-3zM858 466h3v1h-3zM864 466h3v1h-3zM870 466h3v1h-3zM876 466h3v1h-3zM882 466h3v1h-3zM888 466h3v1h-3zM894 466h3v1h-3zM900 466h3v1h-3zM906 466h3v1h-3zM912 466h3v1h-3zM918 466h3v1h-3zM924 466h3v1h-3zM930 466h3v1h-3zM936 466h3v1h-3zM942 466h3v1h-3zM948 466h3v1h-3zM954 466h3v1h-3zM960 466h3v1h-3zM966 466h3v1h-3zM972 466h3v1h-3zM978 466h3v1h-3zM984 466h3v1h-3zM990 466h3v1h-3zM996 466h3v1h-3zM1002 466h3v1h-3zM1008 466h3v1h-3zM1014 466h3v1h-3zM1020 466h3v1h-3zM1026 466h3v1h-3zM1032 466h3v1h-3zM1038 466h3v1h-3zM1044 466h3v1h-3zM1050 466h3v1h-3zM1056 466h3v1h-3zM1062 466h3v1h-3zM1068 466h3v1h-3zM1074 466h3v1h-3zM1080 466h3v1h-3zM1086 466h3v1h-3zM1092 466h3v1h-3zM1098 466h3v1h-3zM1104 466h3v1h-3zM1110 466h3v1h-3zM1116 466h3v1h-3zM1122 466h3v1h-3zM1128 466h3v1h-3zM1134 466h3v1h-3zM1140 466h3v1h-3zM1146 466h3v1h-3zM1152 466h3v1h-3zM1158 466h3v1h-3zM1164 466h3v1h-3zM1170 466h3v1h-3zM1176 466h3v1h-3zM1182 466h3v1h-3zM1188 466h3v1h-3zM1194 466h3v1h-3zM1200 466h3v1h-3zM1206 466h3v1h-3zM1212 466h3v1h-3zM1218 466h3v1h-3zM1224 466h3v1h-3zM1230 466h3v1h-3zM1236 466h3v1h-3zM1242 466h3v1h-3zM1248 466h3v1h-3zM1254 466h3v1h-3zM1260 466h3v1h-3zM1266 466h3v1h-3zM1272 466h3v1h-3zM1278 466h3v1h-3zM1284 466h3v1h-3zM1290 466h3v1h-3zM1296 466h3v1h-3zM1302 466h3v1h-3zM1308 466h3v1h-3zM1314 466h3v1h-3zM1320 466h3v1h-3zM1326 466h3v1h-3zM1332 466h3v1h-3zM1338 466h3v1h-3zM1344 466h3v1h-3zM1350 466h3v1h-3zM1356 466h3v1h-3zM1362 466h3v1h-3zM1368 466h3v1h-3zM1374 466h3v1h-3zM1380 466h3v1h-3zM1386 466h3v1h-3zM1392 466h3v1h-3zM1398 466h3v1h-3zM1404 466h3v1h-3zM1410 466h3v1h-3zM1416 466h3v1h-3zM1422 466h3v1h-3zM1428 466h3v1h-3zM1434 466h3v1h-3zM1440 466h3v1h-3zM1446 466h3v1h-3zM1452 466h3v1h-3zM1458 466h3v1h-3zM1464 466h3v1h-3zM1470 466h3v1h-3zM1476 466h3v1h-3zM1482 466h3v1h-3zM1488 466h3v1h-3zM1494 466h3v1h-3zM1500 466h3v1h-3zM1506 466h3v1h-3zM1512 466h3v1h-3zM1518 466h3v1h-3zM6 531h3v1h-3zM12 531h3v1h-3zM18 531h3v1h-3zM24 531h3v1h-3zM30 531h3v1h-3zM36 531h3v1h-3zM42 531h3v1h-3zM48 531h3v1h-3zM54 531h3v1h-3zM60 531h3v1h-3zM66 531h3v1h-3zM72 531h3v1h-3zM78 531h3v1h-3zM84 531h3v1h-3zM90 531h3v1h-3zM96 531h3v1h-3zM102 531h3v1h-3zM108 531h3v1h-3zM114 531h3v1h-3zM120 531h3v1h-3zM126 531h3v1h-3zM132 531h3v1h-3zM138 531h3v1h-3zM144 531h3v1h-3zM150 531h3v1h-3zM156 531h3v1h-3zM162 531h3v1h-3zM168 531h3v1h-3zM174 531h3v1h-3zM180 531h3v1h-3zM186 531h3v1h-3zM192 531h3v1h-3zM198 531h3v1h-3zM204 531h3v1h-3zM210 531h3v1h-3zM216 531h3v1h-3zM222 531h3v1h-3zM228 531h3v1h-3zM234 531h3v1h-3zM240 531h3v1h-3zM246 531h3v1h-3zM252 531h3v1h-3zM258 531h3v1h-3zM264 531h3v1h-3zM270 531h3v1h-3zM276 531h3v1h-3zM282 531h3v1h-3zM288 531h3v1h-3zM294 531h3v1h-3zM300 531h3v1h-3zM306 531h3v1h-3zM312 531h3v1h-3zM318 531h3v1h-3zM324 531h3v1h-3zM330 531h3v1h-3zM336 531h3v1h-3zM342 531h3v1h-3zM348 531h3v1h-3zM354 531h3v1h-3zM360 531h3v1h-3zM366 531h3v1h-3zM372 531h3v1h-3zM378 531h3v1h-3zM384 531h3v1h-3zM390 531h3v1h-3zM396 531h3v1h-3zM402 531h3v1h-3zM408 531h3v1h-3zM414 531h3v1h-3zM420 531h3v1h-3zM426 531h3v1h-3zM432 531h3v1h-3zM438 531h3v1h-3zM444 531h3v1h-3zM450 531h3v1h-3zM456 531h3v1h-3zM462 531h3v1h-3zM468 531h3v1h-3zM474 531h3v1h-3zM480 531h3v1h-3zM486 531h3v1h-3zM492 531h3v1h-3zM498 531h3v1h-3zM504 531h3v1h-3zM510 531h3v1h-3zM516 531h3v1h-3zM522 531h3v1h-3zM528 531h3v1h-3zM534 531h3v1h-3zM540 531h3v1h-3zM546 531h3v1h-3zM552 531h3v1h-3zM558 531h3v1h-3zM564 531h3v1h-3zM570 531h3v1h-3zM576 531h3v1h-3zM582 531h3v1h-3zM588 531h3v1h-3zM594 531h3v1h-3zM600 531h3v1h-3zM606 531h3v1h-3zM612 531h3v1h-3zM618 531h3v1h-3zM624 531h3v1h-3zM630 531h3v1h-3zM636 531h3v1h-3zM642 531h3v1h-3zM648 531h3v1h-3zM654 531h3v1h-3zM660 531h3v1h-3zM666 531h3v1h-3zM672 531h3v1h-3zM678 531h3v1h-3zM684 531h3v1h-3zM690 531h3v1h-3zM696 531h3v1h-3zM702 531h3v1h-3zM708 531h3v1h-3zM714 531h3v1h-3zM720 531h3v1h-3zM726 531h3v1h-3zM732 531h3v1h-3zM738 531h3v1h-3zM744 531h3v1h-3zM750 531h3v1h-3zM756 531h3v1h-3zM762 531h3v1h-3zM768 531h3v1h-3zM774 531h3v1h-3zM780 531h3v1h-3zM786 531h3v1h-3zM792 531h3v1h-3zM798 531h3v1h-3zM804 531h3v1h-3zM810 531h3v1h-3zM816 531h3v1h-3zM822 531h3v1h-3zM828 531h3v1h-3zM834 531h3v1h-3zM840 531h3v1h-3zM846 531h3v1h-3zM852 531h3v1h-3zM858 531h3v1h-3zM864 531h3v1h-3zM870 531h3v1h-3zM876 531h3v1h-3zM882 531h3v1h-3zM888 531h3v1h-3zM894 531h3v1h-3zM900 531h3v1h-3zM906 531h3v1h-3zM912 531h3v1h-3zM918 531h3v1h-3zM924 531h3v1h-3zM930 531h3v1h-3zM936 531h3v1h-3zM942 531h3v1h-3zM948 531h3v1h-3zM954 531h3v1h-3zM960 531h3v1h-3zM966 531h3v1h-3zM972 531h3v1h-3zM978 531h3v1h-3zM984 531h3v1h-3zM990 531h3v1h-3zM996 531h3v1h-3zM1002 531h3v1h-3zM1008 531h3v1h-3zM1014 531h3v1h-3zM1020 531h3v1h-3zM1026 531h3v1h-3zM1032 531h3v1h-3zM1038 531h3v1h-3zM1044 531h3v1h-3zM1050 531h3v1h-3zM1056 531h3v1h-3zM1062 531h3v1h-3zM1068 531h3v1h-3zM1074 531h3v1h-3zM1080 531h3v1h-3zM1086 531h3v1h-3zM1092 531h3v1h-3zM1098 531h3v1h-3zM1104 531h3v1h-3zM1110 531h3v1h-3zM1116 531h3v1h-3zM1122 531h3v1h-3zM1128 531h3v1h-3zM1134 531h3v1h-3zM1140 531h3v1h-3zM1146 531h3v1h-3zM1152 531h3v1h-3zM1158 531h3v1h-3zM1164 531h3v1h-3zM1170 531h3v1h-3zM1176 531h3v1h-3zM1182 531h3v1h-3zM1188 531h3v1h-3zM1194 531h3v1h-3zM1200 531h3v1h-3zM1206 531h3v1h-3zM1212 531h3v1h-3zM1218 531h3v1h-3zM1224 531h3v1h-3zM1230 531h3v1h-3zM1236 531h3v1h-3zM1242 531h3v1h-3zM1248 531h3v1h-3zM1254 531h3v1h-3zM1260 531h3v1h-3zM1266 531h3v1h-3zM1272 531h3v1h-3zM1278 531h3v1h-3zM1284 531h3v1h-3zM1290 531h3v1h-3zM1296 531h3v1h-3zM1302 531h3v1h-3zM1308 531h3v1h-3zM1314 531h3v1h-3zM1320 531h3v1h-3zM1326 531h3v1h-3zM1332 531h3v1h-3zM1338 531h3v1h-3zM1344 531h3v1h-3zM1350 531h3v1h-3zM1356 531h3v1h-3zM1362 531h3v1h-3zM1368 531h3v1h-3zM1374 531h3v1h-3zM1380 531h3v1h-3zM1386 531h3v1h-3zM1392 531h3v1h-3zM1398 531h3v1h-3zM1404 531h3v1h-3zM1410 531h3v1h-3zM1416 531h3v1h-3zM1422 531h3v1h-3zM1428 531h3v1h-3zM1434 531h3v1h-3zM1440 531h3v1h-3zM1446 531h3v1h-3zM1452 531h3v1h-3zM1458 531h3v1h-3zM1464 531h3v1h-3zM1470 531h3v1h-3zM1476 531h3v1h-3zM1482 531h3v1h-3zM1488 531h3v1h-3zM1494 531h3v1h-3zM1500 531h3v1h-3zM1506 531h3v1h-3zM1512 531h3v1h-3zM1518 531h3v1h-3zM6 596h3v1h-3zM12 596h3v1h-3zM18 596h3v1h-3zM24 596h3v1h-3zM30 596h3v1h-3zM36 596h3v1h-3zM42 596h3v1h-3zM48 596h3v1h-3zM54 596h3v1h-3zM60 596h3v1h-3zM66 596h3v1h-3zM72 596h3v1h-3zM78 596h3v1h-3zM84 596h3v1h-3zM90 596h3v1h-3zM96 596h3v1h-3zM102 596h3v1h-3zM108 596h3v1h-3zM114 596h3v1h-3zM120 596h3v1h-3zM126 596h3v1h-3zM132 596h3v1h-3zM138 596h3v1h-3zM144 596h3v1h-3zM150 596h3v1h-3zM156 596h3v1h-3zM162 596h3v1h-3zM168 596h3v1h-3zM174 596h3v1h-3zM180 596h3v1h-3zM186 596h3v1h-3zM192 596h3v1h-3zM198 596h3v1h-3zM204 596h3v1h-3zM210 596h3v1h-3zM216 596h3v1h-3zM222 596h3v1h-3zM228 596h3v1h-3zM234 596h3v1h-3zM240 596h3v1h-3zM246 596h3v1h-3zM252 596h3v1h-3zM258 596h3v1h-3zM264 596h3v1h-3zM270 596h3v1h-3zM276 596h3v1h-3zM282 596h3v1h-3zM288 596h3v1h-3zM294 596h3v1h-3zM300 596h3v1h-3zM306 596h3v1h-3zM312 596h3v1h-3zM318 596h3v1h-3zM324 596h3v1h-3zM330 596h3v1h-3zM336 596h3v1h-3zM342 596h3v1h-3zM348 596h3v1h-3zM354 596h3v1h-3zM360 596h3v1h-3zM366 596h3v1h-3zM372 596h3v1h-3zM378 596h3v1h-3zM384 596h3v1h-3zM390 596h3v1h-3zM396 596h3v1h-3zM402 596h3v1h-3zM408 596h3v1h-3zM414 596h3v1h-3zM420 596h3v1h-3zM426 596h3v1h-3zM432 596h3v1h-3zM438 596h3v1h-3zM444 596h3v1h-3zM450 596h3v1h-3zM456 596h3v1h-3zM462 596h3v1h-3zM468 596h3v1h-3zM474 596h3v1h-3zM480 596h3v1h-3zM486 596h3v1h-3zM492 596h3v1h-3zM498 596h3v1h-3zM504 596h3v1h-3zM510 596h3v1h-3zM516 596h3v1h-3zM522 596h3v1h-3zM528 596h3v1h-3zM534 596h3v1h-3zM540 596h3v1h-3zM546 596h3v1h-3zM552 596h3v1h-3zM558 596h3v1h-3zM564 596h3v1h-3zM570 596h3v1h-3zM576 596h3v1h-3zM582 596h3v1h-3zM588 596h3v1h-3zM594 596h3v1h-3zM600 596h3v1h-3zM606 596h3v1h-3zM612 596h3v1h-3zM618 596h3v1h-3zM624 596h3v1h-3zM630 596h3v1h-3zM636 596h3v1h-3zM642 596h3v1h-3zM648 596h3v1h-3zM654 596h3v1h-3zM660 596h3v1h-3zM666 596h3v1h-3zM672 596h3v1h-3zM678 596h3v1h-3zM684 596h3v1h-3zM690 596h3v1h-3zM696 596h3v1h-3zM702 596h3v1h-3zM708 596h3v1h-3zM714 596h3v1h-3zM720 596h3v1h-3zM726 596h3v1h-3zM732 596h3v1h-3zM738 596h3v1h-3zM744 596h3v1h-3zM750 596h3v1h-3zM756 596h3v1h-3zM762 596h3v1h-3zM768 596h3v1h-3zM774 596h3v1h-3zM780 596h3v1h-3zM786 596h3v1h-3zM792 596h3v1h-3zM798 596h3v1h-3zM804 596h3v1h-3zM810 596h3v1h-3zM816 596h3v1h-3zM822 596h3v1h-3zM828 596h3v1h-3zM834 596h3v1h-3zM840 596h3v1h-3zM846 596h3v1h-3zM852 596h3v1h-3zM858 596h3v1h-3zM864 596h3v1h-3zM870 596h3v1h-3zM876 596h3v1h-3zM882 596h3v1h-3zM888 596h3v1h-3zM894 596h3v1h-3zM900 596h3v1h-3zM906 596h3v1h-3zM912 596h3v1h-3zM918 596h3v1h-3zM924 596h3v1h-3zM930 596h3v1h-3zM936 596h3v1h-3zM942 596h3v1h-3zM948 596h3v1h-3zM954 596h3v1h-3zM960 596h3v1h-3zM966 596h3v1h-3zM972 596h3v1h-3zM978 596h3v1h-3zM984 596h3v1h-3zM990 596h3v1h-3zM996 596h3v1h-3zM1002 596h3v1h-3zM1008 596h3v1h-3zM1014 596h3v1h-3zM1020 596h3v1h-3zM1026 596h3v1h-3zM1032 596h3v1h-3zM1038 596h3v1h-3zM1044 596h3v1h-3zM1050 596h3v1h-3zM1056 596h3v1h-3zM1062 596h3v1h-3zM1068 596h3v1h-3zM1074 596h3v1h-3zM1080 596h3v1h-3zM1086 596h3v1h-3zM1092 596h3v1h-3zM1098 596h3v1h-3zM1104 596h3v1h-3zM1110 596h3v1h-3zM1116 596h3v1h-3zM1122 596h3v1h-3zM1128 596h3v1h-3zM1134 596h3v1h-3zM1140 596h3v1h-3zM1146 596h3v1h-3zM1152 596h3v1h-3zM1158 596h3v1h-3zM1164 596h3v1h-3zM1170 596h3v1h-3zM1176 596h3v1h-3zM1182 596h3v1h-3zM1188 596h3v1h-3zM1194 596h3v1h-3zM1200 596h3v1h-3zM1206 596h3v1h-3zM1212 596h3v1h-3zM1218 596h3v1h-3zM1224 596h3v1h-3zM1230 596h3v1h-3zM1236 596h3v1h-3zM1242 596h3v1h-3zM1248 596h3v1h-3zM1254 596h3v1h-3zM1260 596h3v1h-3zM1266 596h3v1h-3zM1272 596h3v1h-3zM1278 596h3v1h-3zM1284 596h3v1h-3zM1290 596h3v1h-3zM1296 596h3v1h-3zM1302 596h3v1h-3zM1308 596h3v1h-3zM1314 596h3v1h-3zM1320 596h3v1h-3zM1326 596h3v1h-3zM1332 596h3v1h-3zM1338 596h3v1h-3zM1344 596h3v1h-3zM1350 596h3v1h-3zM1356 596h3v1h-3zM1362 596h3v1h-3zM1368 596h3v1h-3zM1374 596h3v1h-3zM1380 596h3v1h-3zM1386 596h3v1h-3zM1392 596h3v1h-3zM1398 596h3v1h-3zM1404 596h3v1h-3zM1410 596h3v1h-3zM1416 596h3v1h-3zM1422 596h3v1h-3zM1428 596h3v1h-3zM1434 596h3v1h-3zM1440 596h3v1h-3zM1446 596h3v1h-3zM1452 596h3v1h-3zM1458 596h3v1h-3zM1464 596h3v1h-3zM1470 596h3v1h-3zM1476 596h3v1h-3zM1482 596h3v1h-3zM1488 596h3v1h-3zM1494 596h3v1h-3zM1500 596h3v1h-3zM1506 596h3v1h-3zM1512 596h3v1h-3zM1518 596h3v1h-3zM6 699h3v1h-3zM12 699h3v1h-3zM18 699h3v1h-3zM24 699h3v1h-3zM30 699h3v1h-3zM36 699h3v1h-3zM42 699h3v1h-3zM48 699h3v1h-3zM54 699h3v1h-3zM60 699h3v1h-3zM66 699h3v1h-3zM72 699h3v1h-3zM78 699h3v1h-3zM84 699h3v1h-3zM90 699h3v1h-3zM96 699h3v1h-3zM102 699h3v1h-3zM108 699h3v1h-3zM114 699h3v1h-3zM120 699h3v1h-3zM126 699h3v1h-3zM132 699h3v1h-3zM138 699h3v1h-3zM144 699h3v1h-3zM150 699h3v1h-3zM156 699h3v1h-3zM162 699h3v1h-3zM168 699h3v1h-3zM174 699h3v1h-3zM180 699h3v1h-3zM186 699h3v1h-3zM192 699h3v1h-3zM198 699h3v1h-3zM204 699h3v1h-3zM210 699h3v1h-3zM216 699h3v1h-3zM222 699h3v1h-3zM228 699h3v1h-3zM234 699h3v1h-3zM240 699h3v1h-3zM246 699h3v1h-3zM252 699h3v1h-3zM258 699h3v1h-3zM264 699h3v1h-3zM270 699h3v1h-3zM276 699h3v1h-3zM282 699h3v1h-3zM288 699h3v1h-3zM294 699h3v1h-3zM300 699h3v1h-3zM306 699h3v1h-3zM312 699h3v1h-3zM318 699h3v1h-3zM324 699h3v1h-3zM330 699h3v1h-3zM336 699h3v1h-3zM342 699h3v1h-3zM348 699h3v1h-3zM354 699h3v1h-3zM360 699h3v1h-3zM366 699h3v1h-3zM372 699h3v1h-3zM378 699h3v1h-3zM384 699h3v1h-3zM390 699h3v1h-3zM396 699h3v1h-3zM402 699h3v1h-3zM408 699h3v1h-3zM414 699h3v1h-3zM420 699h3v1h-3zM426 699h3v1h-3zM432 699h3v1h-3zM438 699h3v1h-3zM444 699h3v1h-3zM450 699h3v1h-3zM456 699h3v1h-3zM462 699h3v1h-3zM468 699h3v1h-3zM474 699h3v1h-3zM480 699h3v1h-3zM486 699h3v1h-3zM492 699h3v1h-3zM498 699h3v1h-3zM504 699h3v1h-3zM510 699h3v1h-3zM516 699h3v1h-3zM522 699h3v1h-3zM528 699h3v1h-3zM534 699h3v1h-3zM540 699h3v1h-3zM546 699h3v1h-3zM552 699h3v1h-3zM558 699h3v1h-3zM564 699h3v1h-3zM570 699h3v1h-3zM576 699h3v1h-3zM582 699h3v1h-3zM588 699h3v1h-3zM594 699h3v1h-3zM600 699h3v1h-3zM606 699h3v1h-3zM612 699h3v1h-3zM618 699h3v1h-3zM624 699h3v1h-3zM630 699h3v1h-3zM636 699h3v1h-3zM642 699h3v1h-3zM648 699h3v1h-3zM654 699h3v1h-3zM660 699h3v1h-3zM666 699h3v1h-3zM672 699h3v1h-3zM678 699h3v1h-3zM684 699h3v1h-3zM690 699h3v1h-3zM696 699h3v1h-3zM702 699h3v1h-3zM708 699h3v1h-3zM714 699h3v1h-3zM720 699h3v1h-3zM726 699h3v1h-3zM732 699h3v1h-3zM738 699h3v1h-3zM744 699h3v1h-3zM750 699h3v1h-3zM756 699h3v1h-3zM762 699h3v1h-3zM768 699h3v1h-3zM774 699h3v1h-3zM780 699h3v1h-3zM786 699h3v1h-3zM792 699h3v1h-3zM798 699h3v1h-3zM804 699h3v1h-3zM810 699h3v1h-3zM816 699h3v1h-3zM822 699h3v1h-3zM828 699h3v1h-3zM834 699h3v1h-3zM840 699h3v1h-3zM846 699h3v1h-3zM852 699h3v1h-3zM858 699h3v1h-3zM864 699h3v1h-3zM870 699h3v1h-3zM876 699h3v1h-3zM882 699h3v1h-3zM888 699h3v1h-3zM894 699h3v1h-3zM900 699h3v1h-3zM906 699h3v1h-3zM912 699h3v1h-3zM918 699h3v1h-3zM924 699h3v1h-3zM930 699h3v1h-3zM936 699h3v1h-3zM942 699h3v1h-3zM948 699h3v1h-3zM954 699h3v1h-3zM960 699h3v1h-3zM966 699h3v1h-3zM972 699h3v1h-3zM978 699h3v1h-3zM984 699h3v1h-3zM990 699h3v1h-3zM996 699h3v1h-3zM1002 699h3v1h-3zM1008 699h3v1h-3zM1014 699h3v1h-3zM1020 699h3v1h-3zM1026 699h3v1h-3zM1032 699h3v1h-3zM1038 699h3v1h-3zM1044 699h3v1h-3zM1050 699h3v1h-3zM1056 699h3v1h-3zM1062 699h3v1h-3zM1068 699h3v1h-3zM1074 699h3v1h-3zM1080 699h3v1h-3zM1086 699h3v1h-3zM1092 699h3v1h-3zM1098 699h3v1h-3zM1104 699h3v1h-3zM1110 699h3v1h-3zM1116 699h3v1h-3zM1122 699h3v1h-3zM1128 699h3v1h-3zM1134 699h3v1h-3zM1140 699h3v1h-3zM1146 699h3v1h-3zM1152 699h3v1h-3zM1158 699h3v1h-3zM1164 699h3v1h-3zM1170 699h3v1h-3zM1176 699h3v1h-3zM1182 699h3v1h-3zM1188 699h3v1h-3zM1194 699h3v1h-3zM1200 699h3v1h-3zM1206 699h3v1h-3zM1212 699h3v1h-3zM1218 699h3v1h-3zM1224 699h3v1h-3zM1230 699h3v1h-3zM1236 699h3v1h-3zM1242 699h3v1h-3zM1248 699h3v1h-3zM1254 699h3v1h-3zM1260 699h3v1h-3zM1266 699h3v1h-3zM1272 699h3v1h-3zM1278 699h3v1h-3zM1284 699h3v1h-3zM1290 699h3v1h-3zM1296 699h3v1h-3zM1302 699h3v1h-3zM1308 699h3v1h-3zM1314 699h3v1h-3zM1320 699h3v1h-3zM1326 699h3v1h-3zM1332 699h3v1h-3zM1338 699h3v1h-3zM1344 699h3v1h-3zM1350 699h3v1h-3zM1356 699h3v1h-3zM1362 699h3v1h-3zM1368 699h3v1h-3zM1374 699h3v1h-3zM1380 699h3v1h-3zM1386 699h3v1h-3zM1392 699h3v1h-3zM1398 699h3v1h-3zM1404 699h3v1h-3zM1410 699h3v1h-3zM1416 699h3v1h-3zM1422 699h3v1h-3zM1428 699h3v1h-3zM1434 699h3v1h-3zM1440 699h3v1h-3zM1446 699h3v1h-3zM1452 699h3v1h-3zM1458 699h3v1h-3zM1464 699h3v1h-3zM1470 699h3v1h-3zM1476 699h3v1h-3zM1482 699h3v1h-3zM1488 699h3v1h-3zM1494 699h3v1h-3zM1500 699h3v1h-3zM1506 699h3v1h-3zM1512 699h3v1h-3zM1518 699h3v1h-3zM69 5h1v2h-1zM69 10h1v3h-1zM69 16h1v3h-1zM69 22h1v3h-1zM69 28h1v3h-1zM69 34h1v3h-1zM69 40h1v3h-1zM69 46h1v3h-1zM69 52h1v3h-1zM69 58h1v3h-1zM69 64h1v3h-1zM69 70h1v3h-1zM69 76h1v3h-1zM69 82h1v3h-1zM69 88h1v3h-1zM69 94h1v3h-1zM69 100h1v3h-1zM69 106h1v3h-1zM69 112h1v3h-1zM69 118h1v3h-1zM69 124h1v3h-1zM69 130h1v3h-1zM69 136h1v3h-1zM69 142h1v3h-1zM69 148h1v3h-1zM69 154h1v3h-1zM69 160h1v3h-1zM69 166h1v3h-1zM69 172h1v3h-1zM69 178h1v3h-1zM69 184h1v3h-1zM69 190h1v3h-1zM69 196h1v3h-1zM69 202h1v3h-1zM69 208h1v3h-1zM69 214h1v3h-1zM69 220h1v3h-1zM69 226h1v3h-1zM69 232h1v3h-1zM69 238h1v3h-1zM69 244h1v3h-1zM69 250h1v3h-1zM69 256h1v3h-1zM69 262h1v3h-1zM69 268h1v3h-1zM69 274h1v3h-1zM69 280h1v3h-1zM69 286h1v3h-1zM69 292h1v3h-1zM69 298h1v3h-1zM69 304h1v3h-1zM69 310h1v3h-1zM69 316h1v3h-1zM69 322h1v3h-1zM69 328h1v3h-1zM69 334h1v3h-1zM69 340h1v3h-1zM69 346h1v3h-1zM69 352h1v3h-1zM69 358h1v3h-1zM69 364h1v3h-1zM69 370h1v3h-1zM69 376h1v3h-1zM69 382h1v3h-1zM69 388h1v3h-1zM69 394h1v3h-1zM69 400h1v3h-1zM69 406h1v3h-1zM69 412h1v3h-1zM69 418h1v3h-1zM69 424h1v3h-1zM69 430h1v3h-1zM69 436h1v3h-1zM69 442h1v3h-1zM69 448h1v3h-1zM69 454h1v3h-1zM69 460h1v3h-1zM69 466h1v3h-1zM69 472h1v3h-1zM69 478h1v3h-1zM69 484h1v3h-1zM69 490h1v3h-1zM69 496h1v3h-1zM69 502h1v3h-1zM69 508h1v3h-1zM69 514h1v3h-1zM69 520h1v3h-1zM69 526h1v3h-1zM69 532h1v3h-1zM69 538h1v3h-1zM69 544h1v3h-1zM69 550h1v3h-1zM69 556h1v3h-1zM69 562h1v3h-1zM69 568h1v3h-1zM69 574h1v3h-1zM69 580h1v3h-1zM69 586h1v3h-1zM69 592h1v3h-1zM69 598h1v3h-1zM69 604h1v3h-1zM69 610h1v3h-1zM69 616h1v3h-1zM69 622h1v3h-1zM69 628h1v3h-1zM69 634h1v3h-1zM69 640h1v3h-1zM69 646h1v3h-1zM69 652h1v3h-1zM69 658h1v3h-1zM69 664h1v3h-1zM69 670h1v3h-1zM69 676h1v3h-1zM69 682h1v3h-1zM69 688h1v3h-1zM69 694h1v3h-1zM69 700h1v3h-1zM69 706h1v3h-1zM69 712h1v3h-1zM69 718h1v3h-1zM69 724h1v3h-1zM69 730h1v3h-1zM69 736h1v3h-1zM69 742h1v3h-1zM69 748h1v3h-1zM69 754h1v3h-1zM69 760h1v3h-1zM69 766h1v3h-1zM69 772h1v3h-1zM69 778h1v3h-1zM133 5h1v2h-1zM133 10h1v3h-1zM133 16h1v3h-1zM133 22h1v3h-1zM133 28h1v3h-1zM133 34h1v3h-1zM133 40h1v3h-1zM133 46h1v3h-1zM133 52h1v3h-1zM133 58h1v3h-1zM133 64h1v3h-1zM133 70h1v3h-1zM133 76h1v3h-1zM133 82h1v3h-1zM133 88h1v3h-1zM133 94h1v3h-1zM133 100h1v3h-1zM133 106h1v3h-1zM133 112h1v3h-1zM133 118h1v3h-1zM133 124h1v3h-1zM133 130h1v3h-1zM133 136h1v3h-1zM133 142h1v3h-1zM133 148h1v3h-1zM133 154h1v3h-1zM133 160h1v3h-1zM133 166h1v3h-1zM133 172h1v3h-1zM133 178h1v3h-1zM133 184h1v3h-1zM133 190h1v3h-1zM133 196h1v3h-1zM133 202h1v3h-1zM133 208h1v3h-1zM133 214h1v3h-1zM133 220h1v3h-1zM133 226h1v3h-1zM133 232h1v3h-1zM133 238h1v3h-1zM133 244h1v3h-1zM133 250h1v3h-1zM133 256h1v3h-1zM133 262h1v3h-1zM133 268h1v3h-1zM133 274h1v3h-1zM133 280h1v3h-1zM133 286h1v3h-1zM133 292h1v3h-1zM133 298h1v3h-1zM133 304h1v3h-1zM133 310h1v3h-1zM133 316h1v3h-1zM133 322h1v3h-1zM133 328h1v3h-1zM133 334h1v3h-1zM133 340h1v3h-1zM133 346h1v3h-1zM133 352h1v3h-1zM133 358h1v3h-1zM133 364h1v3h-1zM133 370h1v3h-1zM133 376h1v3h-1zM133 382h1v3h-1zM133 388h1v3h-1zM133 394h1v3h-1zM133 400h1v3h-1zM133 406h1v3h-1zM133 412h1v3h-1zM133 418h1v3h-1zM133 424h1v3h-1zM133 430h1v3h-1zM133 436h1v3h-1zM133 442h1v3h-1zM133 448h1v3h-1zM133 454h1v3h-1zM133 460h1v3h-1zM133 466h1v3h-1zM133 472h1v3h-1zM133 478h1v3h-1zM133 484h1v3h-1zM133 490h1v3h-1zM133 496h1v3h-1zM133 502h1v3h-1zM133 508h1v3h-1zM133 514h1v3h-1zM133 520h1v3h-1zM133 526h1v3h-1zM133 532h1v3h-1zM133 538h1v3h-1zM133 544h1v3h-1zM133 550h1v3h-1zM133 556h1v3h-1zM133 562h1v3h-1zM133 568h1v3h-1zM133 574h1v3h-1zM133 580h1v3h-1zM133 586h1v3h-1zM133 592h1v3h-1zM133 598h1v3h-1zM133 604h1v3h-1zM133 610h1v3h-1zM133 616h1v3h-1zM133 622h1v3h-1zM133 628h1v3h-1zM133 634h1v3h-1zM133 640h1v3h-1zM133 646h1v3h-1zM133 652h1v3h-1zM133 658h1v3h-1zM133 664h1v3h-1zM133 670h1v3h-1zM133 676h1v3h-1zM133 682h1v3h-1zM133 688h1v3h-1zM133 694h1v3h-1zM133 700h1v3h-1zM133 706h1v3h-1zM133 712h1v3h-1zM133 718h1v3h-1zM133 724h1v3h-1zM133 730h1v3h-1zM133 736h1v3h-1zM133 742h1v3h-1zM133 748h1v3h-1zM133 754h1v3h-1zM133 760h1v3h-1zM133 766h1v3h-1zM133 772h1v3h-1zM133 778h1v3h-1zM197 5h1v2h-1zM197 10h1v3h-1zM197 16h1v3h-1zM197 22h1v3h-1zM197 28h1v3h-1zM197 34h1v3h-1zM197 40h1v3h-1zM197 46h1v3h-1zM197 52h1v3h-1zM197 58h1v3h-1zM197 64h1v3h-1zM197 70h1v3h-1zM197 76h1v3h-1zM197 82h1v3h-1zM197 88h1v3h-1zM197 94h1v3h-1zM197 100h1v3h-1zM197 106h1v3h-1zM197 112h1v3h-1zM197 118h1v3h-1zM197 124h1v3h-1zM197 130h1v3h-1zM197 136h1v3h-1zM197 142h1v3h-1zM197 148h1v3h-1zM197 154h1v3h-1zM197 160h1v3h-1zM197 166h1v3h-1zM197 172h1v3h-1zM197 178h1v3h-1zM197 184h1v3h-1zM197 190h1v3h-1zM197 196h1v3h-1zM197 202h1v3h-1zM197 208h1v3h-1zM197 214h1v3h-1zM197 220h1v3h-1zM197 226h1v3h-1zM197 232h1v3h-1zM197 238h1v3h-1zM197 244h1v3h-1zM197 250h1v3h-1zM197 256h1v3h-1zM197 262h1v3h-1zM197 268h1v3h-1zM197 274h1v3h-1zM197 280h1v3h-1zM197 286h1v3h-1zM197 292h1v3h-1zM197 298h1v3h-1zM197 304h1v3h-1zM197 310h1v3h-1zM197 316h1v3h-1zM197 322h1v3h-1zM197 328h1v3h-1zM197 334h1v3h-1zM197 340h1v3h-1zM197 346h1v3h-1zM197 352h1v3h-1zM197 358h1v3h-1zM197 364h1v3h-1zM197 370h1v3h-1zM197 376h1v3h-1zM197 382h1v3h-1zM197 388h1v3h-1zM197 394h1v3h-1zM197 400h1v3h-1zM197 406h1v3h-1zM197 412h1v3h-1zM197 418h1v3h-1zM197 424h1v3h-1zM197 430h1v3h-1zM197 436h1v3h-1zM197 442h1v3h-1zM197 448h1v3h-1zM197 454h1v3h-1zM197 460h1v3h-1zM197 466h1v3h-1zM197 472h1v3h-1zM197 478h1v3h-1zM197 484h1v3h-1zM197 490h1v3h-1zM197 496h1v3h-1zM197 502h1v3h-1zM197 508h1v3h-1zM197 514h1v3h-1zM197 520h1v3h-1zM197 526h1v3h-1zM197 532h1v3h-1zM197 538h1v3h-1zM197 544h1v3h-1zM197 550h1v3h-1zM197 556h1v3h-1zM197 562h1v3h-1zM197 568h1v3h-1zM197 574h1v3h-1zM197 580h1v3h-1zM197 586h1v3h-1zM197 592h1v3h-1zM197 598h1v3h-1zM197 604h1v3h-1zM197 610h1v3h-1zM197 616h1v3h-1zM197 622h1v3h-1zM197 628h1v3h-1zM197 634h1v3h-1zM197 640h1v3h-1zM197 646h1v3h-1zM197 652h1v3h-1zM197 658h1v3h-1zM197 664h1v3h-1zM197 670h1v3h-1zM197 676h1v3h-1zM197 682h1v3h-1zM197 688h1v3h-1zM197 694h1v3h-1zM197 700h1v3h-1zM197 706h1v3h-1zM197 712h1v3h-1zM197 718h1v3h-1zM197 724h1v3h-1zM197 730h1v3h-1zM197 736h1v3h-1zM197 742h1v3h-1zM197 748h1v3h-1zM197 754h1v3h-1zM197 760h1v3h-1zM197 766h1v3h-1zM197 772h1v3h-1zM197 778h1v3h-1zM261 5h1v2h-1zM261 10h1v3h-1zM261 16h1v3h-1zM261 22h1v3h-1zM261 28h1v3h-1zM261 34h1v3h-1zM261 40h1v3h-1zM261 46h1v3h-1zM261 52h1v3h-1zM261 58h1v3h-1zM261 64h1v3h-1zM261 70h1v3h-1zM261 76h1v3h-1zM261 82h1v3h-1zM261 88h1v3h-1zM261 94h1v3h-1zM261 100h1v3h-1zM261 106h1v3h-1zM261 112h1v3h-1zM261 118h1v3h-1zM261 124h1v3h-1zM261 130h1v3h-1zM261 136h1v3h-1zM261 142h1v3h-1zM261 148h1v3h-1zM261 154h1v3h-1zM261 160h1v3h-1zM261 166h1v3h-1zM261 172h1v3h-1zM261 178h1v3h-1zM261 184h1v3h-1zM261 190h1v3h-1zM261 196h1v3h-1zM261 202h1v3h-1zM261 208h1v3h-1zM261 214h1v3h-1zM261 220h1v3h-1zM261 226h1v3h-1zM261 232h1v3h-1zM261 238h1v3h-1zM261 244h1v3h-1zM261 250h1v3h-1zM261 256h1v3h-1zM261 262h1v3h-1zM261 268h1v3h-1zM261 274h1v3h-1zM261 280h1v3h-1zM261 286h1v3h-1zM261 292h1v3h-1zM261 298h1v3h-1zM261 304h1v3h-1zM261 310h1v3h-1zM261 316h1v3h-1zM261 322h1v3h-1zM261 328h1v3h-1zM261 334h1v3h-1zM261 340h1v3h-1zM261 346h1v3h-1zM261 352h1v3h-1zM261 358h1v3h-1zM261 364h1v3h-1zM261 370h1v3h-1zM261 376h1v3h-1zM261 382h1v3h-1zM261 388h1v3h-1zM261 394h1v3h-1zM261 400h1v3h-1zM261 406h1v3h-1zM261 412h1v3h-1zM261 418h1v3h-1zM261 424h1v3h-1zM261 430h1v3h-1zM261 436h1v3h-1zM261 442h1v3h-1zM261 448h1v3h-1zM261 454h1v3h-1zM261 460h1v3h-1zM261 466h1v3h-1zM261 472h1v3h-1zM261 478h1v3h-1zM261 484h1v3h-1zM261 490h1v3h-1zM261 496h1v3h-1zM261 502h1v3h-1zM261 508h1v3h-1zM261 514h1v3h-1zM261 520h1v3h-1zM261 526h1v3h-1zM261 532h1v3h-1zM261 538h1v3h-1zM261 544h1v3h-1zM261 550h1v3h-1zM261 556h1v3h-1zM261 562h1v3h-1zM261 568h1v3h-1zM261 574h1v3h-1zM261 580h1v3h-1zM261 586h1v3h-1zM261 592h1v3h-1zM261 598h1v3h-1zM261 604h1v3h-1zM261 610h1v3h-1zM261 616h1v3h-1zM261 622h1v3h-1zM261 628h1v3h-1zM261 634h1v3h-1zM261 640h1v3h-1zM261 646h1v3h-1zM261 652h1v3h-1zM261 658h1v3h-1zM261 664h1v3h-1zM261 670h1v3h-1zM261 676h1v3h-1zM261 682h1v3h-1zM261 688h1v3h-1zM261 694h1v3h-1zM261 700h1v3h-1zM261 706h1v3h-1zM261 712h1v3h-1zM261 718h1v3h-1zM261 724h1v3h-1zM261 730h1v3h-1zM261 736h1v3h-1zM261 742h1v3h-1zM261 748h1v3h-1zM261 754h1v3h-1zM261 760h1v3h-1zM261 766h1v3h-1zM261 772h1v3h-1zM261 778h1v3h-1zM325 5h1v2h-1zM325 10h1v3h-1zM325 16h1v3h-1zM325 22h1v3h-1zM325 28h1v3h-1zM325 34h1v3h-1zM325 40h1v3h-1zM325 46h1v3h-1zM325 52h1v3h-1zM325 58h1v3h-1zM325 64h1v3h-1zM325 70h1v3h-1zM325 76h1v3h-1zM325 82h1v3h-1zM325 88h1v3h-1zM325 94h1v3h-1zM325 100h1v3h-1zM325 106h1v3h-1zM325 112h1v3h-1zM325 118h1v3h-1zM325 124h1v3h-1zM325 130h1v3h-1zM325 136h1v3h-1zM325 142h1v3h-1zM325 148h1v3h-1zM325 154h1v3h-1zM325 160h1v3h-1zM325 166h1v3h-1zM325 172h1v3h-1zM325 178h1v3h-1zM325 184h1v3h-1zM325 190h1v3h-1zM325 196h1v3h-1zM325 202h1v3h-1zM325 208h1v3h-1zM325 214h1v3h-1zM325 220h1v3h-1zM325 226h1v3h-1zM325 232h1v3h-1zM325 238h1v3h-1zM325 244h1v3h-1zM325 250h1v3h-1zM325 256h1v3h-1zM325 262h1v3h-1zM325 268h1v3h-1zM325 274h1v3h-1zM325 280h1v3h-1zM325 286h1v3h-1zM325 292h1v3h-1zM325 298h1v3h-1zM325 304h1v3h-1zM325 310h1v3h-1zM325 316h1v3h-1zM325 322h1v3h-1zM325 328h1v3h-1zM325 334h1v3h-1zM325 340h1v3h-1zM325 346h1v3h-1zM325 352h1v3h-1zM325 358h1v3h-1zM325 364h1v3h-1zM325 370h1v3h-1zM325 376h1v3h-1zM325 382h1v3h-1zM325 388h1v3h-1zM325 394h1v3h-1zM325 400h1v3h-1zM325 406h1v3h-1zM325 412h1v3h-1zM325 418h1v3h-1zM325 424h1v3h-1zM325 430h1v3h-1zM325 436h1v3h-1zM325 442h1v3h-1zM325 448h1v3h-1zM325 454h1v3h-1zM325 460h1v3h-1zM325 466h1v3h-1zM325 472h1v3h-1zM325 478h1v3h-1zM325 484h1v3h-1zM325 490h1v3h-1zM325 496h1v3h-1zM325 502h1v3h-1zM325 508h1v3h-1zM325 514h1v3h-1zM325 520h1v3h-1zM325 526h1v3h-1zM325 532h1v3h-1zM325 538h1v3h-1zM325 544h1v3h-1zM325 550h1v3h-1zM325 556h1v3h-1zM325 562h1v3h-1zM325 568h1v3h-1zM325 574h1v3h-1zM325 580h1v3h-1zM325 586h1v3h-1zM325 592h1v3h-1zM325 598h1v3h-1zM325 604h1v3h-1zM325 610h1v3h-1zM325 616h1v3h-1zM325 622h1v3h-1zM325 628h1v3h-1zM325 634h1v3h-1zM325 640h1v3h-1zM325 646h1v3h-1zM325 652h1v3h-1zM325 658h1v3h-1zM325 664h1v3h-1zM325 670h1v3h-1zM325 676h1v3h-1zM325 682h1v3h-1zM325 688h1v3h-1zM325 694h1v3h-1zM325 700h1v3h-1zM325 706h1v3h-1zM325 712h1v3h-1zM325 718h1v3h-1zM325 724h1v3h-1zM325 730h1v3h-1zM325 736h1v3h-1zM325 742h1v3h-1zM325 748h1v3h-1zM325 754h1v3h-1zM325 760h1v3h-1zM325 766h1v3h-1zM325 772h1v3h-1zM325 778h1v3h-1zM389 5h1v2h-1zM389 10h1v3h-1zM389 16h1v3h-1zM389 22h1v3h-1zM389 28h1v3h-1zM389 34h1v3h-1zM389 40h1v3h-1zM389 46h1v3h-1zM389 52h1v3h-1zM389 58h1v3h-1zM389 64h1v3h-1zM389 70h1v3h-1zM389 76h1v3h-1zM389 82h1v3h-1zM389 88h1v3h-1zM389 94h1v3h-1zM389 100h1v3h-1zM389 106h1v3h-1zM389 112h1v3h-1zM389 118h1v3h-1zM389 124h1v3h-1zM389 130h1v3h-1zM389 136h1v3h-1zM389 142h1v3h-1zM389 148h1v3h-1zM389 154h1v3h-1zM389 160h1v3h-1zM389 166h1v3h-1zM389 172h1v3h-1zM389 178h1v3h-1zM389 184h1v3h-1zM389 190h1v3h-1zM389 196h1v3h-1zM389 202h1v3h-1zM389 208h1v3h-1zM389 214h1v3h-1zM389 220h1v3h-1zM389 226h1v3h-1zM389 232h1v3h-1zM389 238h1v3h-1zM389 244h1v3h-1zM389 250h1v3h-1zM389 256h1v3h-1zM389 262h1v3h-1zM389 268h1v3h-1zM389 274h1v3h-1zM389 280h1v3h-1zM389 286h1v3h-1zM389 292h1v3h-1zM389 298h1v3h-1zM389 304h1v3h-1zM389 310h1v3h-1zM389 316h1v3h-1zM389 322h1v3h-1zM389 328h1v3h-1zM389 334h1v3h-1zM389 340h1v3h-1zM389 346h1v3h-1zM389 352h1v3h-1zM389 358h1v3h-1zM389 364h1v3h-1zM389 370h1v3h-1zM389 376h1v3h-1zM389 382h1v3h-1zM389 388h1v3h-1zM389 394h1v3h-1zM389 400h1v3h-1zM389 406h1v3h-1zM389 412h1v3h-1zM389 418h1v3h-1zM389 424h1v3h-1zM389 430h1v3h-1zM389 436h1v3h-1zM389 442h1v3h-1zM389 448h1v3h-1zM389 454h1v3h-1zM389 460h1v3h-1zM389 466h1v3h-1zM389 472h1v3h-1zM389 478h1v3h-1zM389 484h1v3h-1zM389 490h1v3h-1zM389 496h1v3h-1zM389 502h1v3h-1zM389 508h1v3h-1zM389 514h1v3h-1zM389 520h1v3h-1zM389 526h1v3h-1zM389 532h1v3h-1zM389 538h1v3h-1zM389 544h1v3h-1zM389 550h1v3h-1zM389 556h1v3h-1zM389 562h1v3h-1zM389 568h1v3h-1zM389 574h1v3h-1zM389 580h1v3h-1zM389 586h1v3h-1zM389 592h1v3h-1zM389 598h1v3h-1zM389 604h1v3h-1zM389 610h1v3h-1zM389 616h1v3h-1zM389 622h1v3h-1zM389 628h1v3h-1zM389 634h1v3h-1zM389 640h1v3h-1zM389 646h1v3h-1zM389 652h1v3h-1zM389 658h1v3h-1zM389 664h1v3h-1zM389 670h1v3h-1zM389 676h1v3h-1zM389 682h1v3h-1zM389 688h1v3h-1zM389 694h1v3h-1zM389 700h1v3h-1zM389 706h1v3h-1zM389 712h1v3h-1zM389 718h1v3h-1zM389 724h1v3h-1zM389 730h1v3h-1zM389 736h1v3h-1zM389 742h1v3h-1zM389 748h1v3h-1zM389 754h1v3h-1zM389 760h1v3h-1zM389 766h1v3h-1zM389 772h1v3h-1zM389 778h1v3h-1zM453 5h1v2h-1zM453 10h1v3h-1zM453 16h1v3h-1zM453 22h1v3h-1zM453 28h1v3h-1zM453 34h1v3h-1zM453 40h1v3h-1zM453 46h1v3h-1zM453 52h1v3h-1zM453 58h1v3h-1zM453 64h1v3h-1zM453 70h1v3h-1zM453 76h1v3h-1zM453 82h1v3h-1zM453 88h1v3h-1zM453 94h1v3h-1zM453 100h1v3h-1zM453 106h1v3h-1zM453 112h1v3h-1zM453 118h1v3h-1zM453 124h1v3h-1zM453 130h1v3h-1zM453 136h1v3h-1zM453 142h1v3h-1zM453 148h1v3h-1zM453 154h1v3h-1zM453 160h1v3h-1zM453 166h1v3h-1zM453 172h1v3h-1zM453 178h1v3h-1zM453 184h1v3h-1zM453 190h1v3h-1zM453 196h1v3h-1zM453 202h1v3h-1zM453 208h1v3h-1zM453 214h1v3h-1zM453 220h1v3h-1zM453 226h1v3h-1zM453 232h1v3h-1zM453 238h1v3h-1zM453 244h1v3h-1zM453 250h1v3h-1zM453 256h1v3h-1zM453 262h1v3h-1zM453 268h1v3h-1zM453 274h1v3h-1zM453 280h1v3h-1zM453 286h1v3h-1zM453 292h1v3h-1zM453 298h1v3h-1zM453 304h1v3h-1zM453 310h1v3h-1zM453 316h1v3h-1zM453 322h1v3h-1zM453 328h1v3h-1zM453 334h1v3h-1zM453 340h1v3h-1zM453 346h1v3h-1zM453 352h1v3h-1zM453 358h1v3h-1zM453 364h1v3h-1zM453 370h1v3h-1zM453 376h1v3h-1zM453 382h1v3h-1zM453 388h1v3h-1zM453 394h1v3h-1zM453 400h1v3h-1zM453 406h1v3h-1zM453 412h1v3h-1zM453 418h1v3h-1zM453 424h1v3h-1zM453 430h1v3h-1zM453 436h1v3h-1zM453 442h1v3h-1zM453 448h1v3h-1zM453 454h1v3h-1zM453 460h1v3h-1zM453 466h1v3h-1zM453 472h1v3h-1zM453 478h1v3h-1zM453 484h1v3h-1zM453 490h1v3h-1zM453 496h1v3h-1zM453 502h1v3h-1zM453 508h1v3h-1zM453 514h1v3h-1zM453 520h1v3h-1zM453 526h1v3h-1zM453 532h1v3h-1zM453 538h1v3h-1zM453 544h1v3h-1zM453 550h1v3h-1zM453 556h1v3h-1zM453 562h1v3h-1zM453 568h1v3h-1zM453 574h1v3h-1zM453 580h1v3h-1zM453 586h1v3h-1zM453 592h1v3h-1zM453 598h1v3h-1zM453 604h1v3h-1zM453 610h1v3h-1zM453 616h1v3h-1zM453 622h1v3h-1zM453 628h1v3h-1zM453 634h1v3h-1zM453 640h1v3h-1zM453 646h1v3h-1zM453 652h1v3h-1zM453 658h1v3h-1zM453 664h1v3h-1zM453 670h1v3h-1zM453 676h1v3h-1zM453 682h1v3h-1zM453 688h1v3h-1zM453 694h1v3h-1zM453 700h1v3h-1zM453 706h1v3h-1zM453 712h1v3h-1zM453 718h1v3h-1zM453 724h1v3h-1zM453 730h1v3h-1zM453 736h1v3h-1zM453 742h1v3h-1zM453 748h1v3h-1zM453 754h1v3h-1zM453 760h1v3h-1zM453 766h1v3h-1zM453 772h1v3h-1zM453 778h1v3h-1zM517 5h1v2h-1zM517 10h1v3h-1zM517 16h1v3h-1zM517 22h1v3h-1zM517 28h1v3h-1zM517 34h1v3h-1zM517 40h1v3h-1zM517 46h1v3h-1zM517 52h1v3h-1zM517 58h1v3h-1zM517 64h1v3h-1zM517 70h1v3h-1zM517 76h1v3h-1zM517 82h1v3h-1zM517 88h1v3h-1zM517 94h1v3h-1zM517 100h1v3h-1zM517 106h1v3h-1zM517 112h1v3h-1zM517 118h1v3h-1zM517 124h1v3h-1zM517 130h1v3h-1zM517 136h1v3h-1zM517 142h1v3h-1zM517 148h1v3h-1zM517 154h1v3h-1zM517 160h1v3h-1zM517 166h1v3h-1zM517 172h1v3h-1zM517 178h1v3h-1zM517 184h1v3h-1zM517 190h1v3h-1zM517 196h1v3h-1zM517 202h1v3h-1zM517 208h1v3h-1zM517 214h1v3h-1zM517 220h1v3h-1zM517 226h1v3h-1zM517 232h1v3h-1zM517 238h1v3h-1zM517 244h1v3h-1zM517 250h1v3h-1zM517 256h1v3h-1zM517 262h1v3h-1zM517 268h1v3h-1zM517 274h1v3h-1zM517 280h1v3h-1zM517 286h1v3h-1zM517 292h1v3h-1zM517 298h1v3h-1zM517 304h1v3h-1zM517 310h1v3h-1zM517 316h1v3h-1zM517 322h1v3h-1zM517 328h1v3h-1zM517 334h1v3h-1zM517 340h1v3h-1zM517 346h1v3h-1zM517 352h1v3h-1zM517 358h1v3h-1zM517 364h1v3h-1zM517 370h1v3h-1zM517 376h1v3h-1zM517 382h1v3h-1zM517 388h1v3h-1zM517 394h1v3h-1zM517 400h1v3h-1zM517 406h1v3h-1zM517 412h1v3h-1zM517 418h1v3h-1zM517 424h1v3h-1zM517 430h1v3h-1zM517 436h1v3h-1zM517 442h1v3h-1zM517 448h1v3h-1zM517 454h1v3h-1zM517 460h1v3h-1zM517 466h1v3h-1zM517 472h1v3h-1zM517 478h1v3h-1zM517 484h1v3h-1zM517 490h1v3h-1zM517 496h1v3h-1zM517 502h1v3h-1zM517 508h1v3h-1zM517 514h1v3h-1zM517 520h1v3h-1zM517 526h1v3h-1zM517 532h1v3h-1zM517 538h1v3h-1zM517 544h1v3h-1zM517 550h1v3h-1zM517 556h1v3h-1zM517 562h1v3h-1zM517 568h1v3h-1zM517 574h1v3h-1zM517 580h1v3h-1zM517 586h1v3h-1zM517 592h1v3h-1zM517 598h1v3h-1zM517 604h1v3h-1zM517 610h1v3h-1zM517 616h1v3h-1zM517 622h1v3h-1zM517 628h1v3h-1zM517 634h1v3h-1zM517 640h1v3h-1zM517 646h1v3h-1zM517 652h1v3h-1zM517 658h1v3h-1zM517 664h1v3h-1zM517 670h1v3h-1zM517 676h1v3h-1zM517 682h1v3h-1zM517 688h1v3h-1zM517 694h1v3h-1zM517 700h1v3h-1zM517 706h1v3h-1zM517 712h1v3h-1zM517 718h1v3h-1zM517 724h1v3h-1zM517 730h1v3h-1zM517 736h1v3h-1zM517 742h1v3h-1zM517 748h1v3h-1zM517 754h1v3h-1zM517 760h1v3h-1zM517 766h1v3h-1zM517 772h1v3h-1zM517 778h1v3h-1zM581 5h1v2h-1zM581 10h1v3h-1zM581 16h1v3h-1zM581 22h1v3h-1zM581 28h1v3h-1zM581 34h1v3h-1zM581 40h1v3h-1zM581 46h1v3h-1zM581 52h1v3h-1zM581 58h1v3h-1zM581 64h1v3h-1zM581 70h1v3h-1zM581 76h1v3h-1zM581 82h1v3h-1zM581 88h1v3h-1zM581 94h1v3h-1zM581 100h1v3h-1zM581 106h1v3h-1zM581 112h1v3h-1zM581 118h1v3h-1zM581 124h1v3h-1zM581 130h1v3h-1zM581 136h1v3h-1zM581 142h1v3h-1zM581 148h1v3h-1zM581 154h1v3h-1zM581 160h1v3h-1zM581 166h1v3h-1zM581 172h1v3h-1zM581 178h1v3h-1zM581 184h1v3h-1zM581 190h1v3h-1zM581 196h1v3h-1zM581 202h1v3h-1zM581 208h1v3h-1zM581 214h1v3h-1zM581 220h1v3h-1zM581 226h1v3h-1zM581 232h1v3h-1zM581 238h1v3h-1zM581 244h1v3h-1zM581 250h1v3h-1zM581 256h1v3h-1zM581 262h1v3h-1zM581 268h1v3h-1zM581 274h1v3h-1zM581 280h1v3h-1zM581 286h1v3h-1zM581 292h1v3h-1zM581 298h1v3h-1zM581 304h1v3h-1zM581 310h1v3h-1zM581 316h1v3h-1zM581 322h1v3h-1zM581 328h1v3h-1zM581 334h1v3h-1zM581 340h1v3h-1zM581 346h1v3h-1zM581 352h1v3h-1zM581 358h1v3h-1zM581 364h1v3h-1zM581 370h1v3h-1zM581 376h1v3h-1zM581 382h1v3h-1zM581 388h1v3h-1zM581 394h1v3h-1zM581 400h1v3h-1zM581 406h1v3h-1zM581 412h1v3h-1zM581 418h1v3h-1zM581 424h1v3h-1zM581 430h1v3h-1zM581 436h1v3h-1zM581 442h1v3h-1zM581 448h1v3h-1zM581 454h1v3h-1zM581 460h1v3h-1zM581 466h1v3h-1zM581 472h1v3h-1zM581 478h1v3h-1zM581 484h1v3h-1zM581 490h1v3h-1zM581 496h1v3h-1zM581 502h1v3h-1zM581 508h1v3h-1zM581 514h1v3h-1zM581 520h1v3h-1zM581 526h1v3h-1zM581 532h1v3h-1zM581 538h1v3h-1zM581 544h1v3h-1zM581 550h1v3h-1zM581 556h1v3h-1zM581 562h1v3h-1zM581 568h1v3h-1zM581 574h1v3h-1zM581 580h1v3h-1zM581 586h1v3h-1zM581 592h1v3h-1zM581 598h1v3h-1zM581 604h1v3h-1zM581 610h1v3h-1zM581 616h1v3h-1zM581 622h1v3h-1zM581 628h1v3h-1zM581 634h1v3h-1zM581 640h1v3h-1zM581 646h1v3h-1zM581 652h1v3h-1zM581 658h1v3h-1zM581 664h1v3h-1zM581 670h1v3h-1zM581 676h1v3h-1zM581 682h1v3h-1zM581 688h1v3h-1zM581 694h1v3h-1zM581 700h1v3h-1zM581 706h1v3h-1zM581 712h1v3h-1zM581 718h1v3h-1zM581 724h1v3h-1zM581 730h1v3h-1zM581 736h1v3h-1zM581 742h1v3h-1zM581 748h1v3h-1zM581 754h1v3h-1zM581 760h1v3h-1zM581 766h1v3h-1zM581 772h1v3h-1zM581 778h1v3h-1zM645 5h1v2h-1zM645 10h1v3h-1zM645 16h1v3h-1zM645 22h1v3h-1zM645 28h1v3h-1zM645 34h1v3h-1zM645 40h1v3h-1zM645 46h1v3h-1zM645 52h1v3h-1zM645 58h1v3h-1zM645 64h1v3h-1zM645 70h1v3h-1zM645 76h1v3h-1zM645 82h1v3h-1zM645 88h1v3h-1zM645 94h1v3h-1zM645 100h1v3h-1zM645 106h1v3h-1zM645 112h1v3h-1zM645 118h1v3h-1zM645 124h1v3h-1zM645 130h1v3h-1zM645 136h1v3h-1zM645 142h1v3h-1zM645 148h1v3h-1zM645 154h1v3h-1zM645 160h1v3h-1zM645 166h1v3h-1zM645 172h1v3h-1zM645 178h1v3h-1zM645 184h1v3h-1zM645 190h1v3h-1zM645 196h1v3h-1zM645 202h1v3h-1zM645 208h1v3h-1zM645 214h1v3h-1zM645 220h1v3h-1zM645 226h1v3h-1zM645 232h1v3h-1zM645 238h1v3h-1zM645 244h1v3h-1zM645 250h1v3h-1zM645 256h1v3h-1zM645 262h1v3h-1zM645 268h1v3h-1zM645 274h1v3h-1zM645 280h1v3h-1zM645 286h1v3h-1zM645 292h1v3h-1zM645 298h1v3h-1zM645 304h1v3h-1zM645 310h1v3h-1zM645 316h1v3h-1zM645 322h1v3h-1zM645 328h1v3h-1zM645 334h1v3h-1zM645 340h1v3h-1zM645 346h1v3h-1zM645 352h1v3h-1zM645 358h1v3h-1zM645 364h1v3h-1zM645 370h1v3h-1zM645 376h1v3h-1zM645 382h1v3h-1zM645 388h1v3h-1zM645 394h1v3h-1zM645 400h1v3h-1zM645 406h1v3h-1zM645 412h1v3h-1zM645 418h1v3h-1zM645 424h1v3h-1zM645 430h1v3h-1zM645 436h1v3h-1zM645 442h1v3h-1zM645 448h1v3h-1zM645 454h1v3h-1zM645 460h1v3h-1zM645 466h1v3h-1zM645 472h1v3h-1zM645 478h1v3h-1zM645 484h1v3h-1zM645 490h1v3h-1zM645 496h1v3h-1zM645 502h1v3h-1zM645 508h1v3h-1zM645 514h1v3h-1zM645 520h1v3h-1zM645 526h1v3h-1zM645 532h1v3h-1zM645 538h1v3h-1zM645 544h1v3h-1zM645 550h1v3h-1zM645 556h1v3h-1zM645 562h1v3h-1zM645 568h1v3h-1zM645 574h1v3h-1zM645 580h1v3h-1zM645 586h1v3h-1zM645 592h1v3h-1zM645 598h1v3h-1zM645 604h1v3h-1zM645 610h1v3h-1zM645 616h1v3h-1zM645 622h1v3h-1zM645 628h1v3h-1zM645 634h1v3h-1zM645 640h1v3h-1zM645 646h1v3h-1zM645 652h1v3h-1zM645 658h1v3h-1zM645 664h1v3h-1zM645 670h1v3h-1zM645 676h1v3h-1zM645 682h1v3h-1zM645 688h1v3h-1zM645 694h1v3h-1zM645 700h1v3h-1zM645 706h1v3h-1zM645 712h1v3h-1zM645 718h1v3h-1zM645 724h1v3h-1zM645 730h1v3h-1zM645 736h1v3h-1zM645 742h1v3h-1zM645 748h1v3h-1zM645 754h1v3h-1zM645 760h1v3h-1zM645 766h1v3h-1zM645 772h1v3h-1zM645 778h1v3h-1zM709 5h1v2h-1zM709 10h1v3h-1zM709 16h1v3h-1zM709 22h1v3h-1zM709 28h1v3h-1zM709 34h1v3h-1zM709 40h1v3h-1zM709 46h1v3h-1zM709 52h1v3h-1zM709 58h1v3h-1zM709 64h1v3h-1zM709 70h1v3h-1zM709 76h1v3h-1zM709 82h1v3h-1zM709 88h1v3h-1zM709 94h1v3h-1zM709 100h1v3h-1zM709 106h1v3h-1zM709 112h1v3h-1zM709 118h1v3h-1zM709 124h1v3h-1zM709 130h1v3h-1zM709 136h1v3h-1zM709 142h1v3h-1zM709 148h1v3h-1zM709 154h1v3h-1zM709 160h1v3h-1zM709 166h1v3h-1zM709 172h1v3h-1zM709 178h1v3h-1zM709 184h1v3h-1zM709 190h1v3h-1zM709 196h1v3h-1zM709 202h1v3h-1zM709 208h1v3h-1zM709 214h1v3h-1zM709 220h1v3h-1zM709 226h1v3h-1zM709 232h1v3h-1zM709 238h1v3h-1zM709 244h1v3h-1zM709 250h1v3h-1zM709 256h1v3h-1zM709 262h1v3h-1zM709 268h1v3h-1zM709 274h1v3h-1zM709 280h1v3h-1zM709 286h1v3h-1zM709 292h1v3h-1zM709 298h1v3h-1zM709 304h1v3h-1zM709 310h1v3h-1zM709 316h1v3h-1zM709 322h1v3h-1zM709 328h1v3h-1zM709 334h1v3h-1zM709 340h1v3h-1zM709 346h1v3h-1zM709 352h1v3h-1zM709 358h1v3h-1zM709 364h1v3h-1zM709 370h1v3h-1zM709 376h1v3h-1zM709 382h1v3h-1zM709 388h1v3h-1zM709 394h1v3h-1zM709 400h1v3h-1zM709 406h1v3h-1zM709 412h1v3h-1zM709 418h1v3h-1zM709 424h1v3h-1zM709 430h1v3h-1zM709 436h1v3h-1zM709 442h1v3h-1zM709 448h1v3h-1zM709 454h1v3h-1zM709 460h1v3h-1zM709 466h1v3h-1zM709 472h1v3h-1zM709 478h1v3h-1zM709 484h1v3h-1zM709 490h1v3h-1zM709 496h1v3h-1zM709 502h1v3h-1zM709 508h1v3h-1zM709 514h1v3h-1zM709 520h1v3h-1zM709 526h1v3h-1zM709 532h1v3h-1zM709 538h1v3h-1zM709 544h1v3h-1zM709 550h1v3h-1zM709 556h1v3h-1zM709 562h1v3h-1zM709 568h1v3h-1zM709 574h1v3h-1zM709 580h1v3h-1zM709 586h1v3h-1zM709 592h1v3h-1zM709 598h1v3h-1zM709 604h1v3h-1zM709 610h1v3h-1zM709 616h1v3h-1zM709 622h1v3h-1zM709 628h1v3h-1zM709 634h1v3h-1zM709 640h1v3h-1zM709 646h1v3h-1zM709 652h1v3h-1zM709 658h1v3h-1zM709 664h1v3h-1zM709 670h1v3h-1zM709 676h1v3h-1zM709 682h1v3h-1zM709 688h1v3h-1zM709 694h1v3h-1zM709 700h1v3h-1zM709 706h1v3h-1zM709 712h1v3h-1zM709 718h1v3h-1zM709 724h1v3h-1zM709 730h1v3h-1zM709 736h1v3h-1zM709 742h1v3h-1zM709 748h1v3h-1zM709 754h1v3h-1zM709 760h1v3h-1zM709 766h1v3h-1zM709 772h1v3h-1zM709 778h1v3h-1zM773 5h1v2h-1zM773 10h1v3h-1zM773 16h1v3h-1zM773 22h1v3h-1zM773 28h1v3h-1zM773 34h1v3h-1zM773 40h1v3h-1zM773 46h1v3h-1zM773 52h1v3h-1zM773 58h1v3h-1zM773 64h1v3h-1zM773 70h1v3h-1zM773 76h1v3h-1zM773 82h1v3h-1zM773 88h1v3h-1zM773 94h1v3h-1zM773 100h1v3h-1zM773 106h1v3h-1zM773 112h1v3h-1zM773 118h1v3h-1zM773 124h1v3h-1zM773 130h1v3h-1zM773 136h1v3h-1zM773 142h1v3h-1zM773 148h1v3h-1zM773 154h1v3h-1zM773 160h1v3h-1zM773 166h1v3h-1zM773 172h1v3h-1zM773 178h1v3h-1zM773 184h1v3h-1zM773 190h1v3h-1zM773 196h1v3h-1zM773 202h1v3h-1zM773 208h1v3h-1zM773 214h1v3h-1zM773 220h1v3h-1zM773 226h1v3h-1zM773 232h1v3h-1zM773 238h1v3h-1zM773 244h1v3h-1zM773 250h1v3h-1zM773 256h1v3h-1zM773 262h1v3h-1zM773 268h1v3h-1zM773 274h1v3h-1zM773 280h1v3h-1zM773 286h1v3h-1zM773 292h1v3h-1zM773 298h1v3h-1zM773 304h1v3h-1zM773 310h1v3h-1zM773 316h1v3h-1zM773 322h1v3h-1zM773 328h1v3h-1zM773 334h1v3h-1zM773 340h1v3h-1zM773 346h1v3h-1zM773 352h1v3h-1zM773 358h1v3h-1zM773 364h1v3h-1zM773 370h1v3h-1zM773 376h1v3h-1zM773 382h1v3h-1zM773 388h1v3h-1zM773 394h1v3h-1zM773 400h1v3h-1zM773 406h1v3h-1zM773 412h1v3h-1zM773 418h1v3h-1zM773 424h1v3h-1zM773 430h1v3h-1zM773 436h1v3h-1zM773 442h1v3h-1zM773 448h1v3h-1zM773 454h1v3h-1zM773 460h1v3h-1zM773 466h1v3h-1zM773 472h1v3h-1zM773 478h1v3h-1zM773 484h1v3h-1zM773 490h1v3h-1zM773 496h1v3h-1zM773 502h1v3h-1zM773 508h1v3h-1zM773 514h1v3h-1zM773 520h1v3h-1zM773 526h1v3h-1zM773 532h1v3h-1zM773 538h1v3h-1zM773 544h1v3h-1zM773 550h1v3h-1zM773 556h1v3h-1zM773 562h1v3h-1zM773 568h1v3h-1zM773 574h1v3h-1zM773 580h1v3h-1zM773 586h1v3h-1zM773 592h1v3h-1zM773 598h1v3h-1zM773 604h1v3h-1zM773 610h1v3h-1zM773 616h1v3h-1zM773 622h1v3h-1zM773 628h1v3h-1zM773 634h1v3h-1zM773 640h1v3h-1zM773 646h1v3h-1zM773 652h1v3h-1zM773 658h1v3h-1zM773 664h1v3h-1zM773 670h1v3h-1zM773 676h1v3h-1zM773 682h1v3h-1zM773 688h1v3h-1zM773 694h1v3h-1zM773 700h1v3h-1zM773 706h1v3h-1zM773 712h1v3h-1zM773 718h1v3h-1zM773 724h1v3h-1zM773 730h1v3h-1zM773 736h1v3h-1zM773 742h1v3h-1zM773 748h1v3h-1zM773 754h1v3h-1zM773 760h1v3h-1zM773 766h1v3h-1zM773 772h1v3h-1zM773 778h1v3h-1zM837 5h1v2h-1zM837 10h1v3h-1zM837 16h1v3h-1zM837 22h1v3h-1zM837 28h1v3h-1zM837 34h1v3h-1zM837 40h1v3h-1zM837 46h1v3h-1zM837 52h1v3h-1zM837 58h1v3h-1zM837 64h1v3h-1zM837 70h1v3h-1zM837 76h1v3h-1zM837 82h1v3h-1zM837 88h1v3h-1zM837 94h1v3h-1zM837 100h1v3h-1zM837 106h1v3h-1zM837 112h1v3h-1zM837 118h1v3h-1zM837 124h1v3h-1zM837 130h1v3h-1zM837 136h1v3h-1zM837 142h1v3h-1zM837 148h1v3h-1zM837 154h1v3h-1zM837 160h1v3h-1zM837 166h1v3h-1zM837 172h1v3h-1zM837 178h1v3h-1zM837 184h1v3h-1zM837 190h1v3h-1zM837 196h1v3h-1zM837 202h1v3h-1zM837 208h1v3h-1zM837 214h1v3h-1zM837 220h1v3h-1zM837 226h1v3h-1zM837 232h1v3h-1zM837 238h1v3h-1zM837 244h1v3h-1zM837 250h1v3h-1zM837 256h1v3h-1zM837 262h1v3h-1zM837 268h1v3h-1zM837 274h1v3h-1zM837 280h1v3h-1zM837 286h1v3h-1zM837 292h1v3h-1zM837 298h1v3h-1zM837 304h1v3h-1zM837 310h1v3h-1zM837 316h1v3h-1zM837 322h1v3h-1zM837 328h1v3h-1zM837 334h1v3h-1zM837 340h1v3h-1zM837 346h1v3h-1zM837 352h1v3h-1zM837 358h1v3h-1zM837 364h1v3h-1zM837 370h1v3h-1zM837 376h1v3h-1zM837 382h1v3h-1zM837 388h1v3h-1zM837 394h1v3h-1zM837 400h1v3h-1zM837 406h1v3h-1zM837 412h1v3h-1zM837 418h1v3h-1zM837 424h1v3h-1zM837 430h1v3h-1zM837 436h1v3h-1zM837 442h1v3h-1zM837 448h1v3h-1zM837 454h1v3h-1zM837 460h1v3h-1zM837 466h1v3h-1zM837 472h1v3h-1zM837 478h1v3h-1zM837 484h1v3h-1zM837 490h1v3h-1zM837 496h1v3h-1zM837 502h1v3h-1zM837 508h1v3h-1zM837 514h1v3h-1zM837 520h1v3h-1zM837 526h1v3h-1zM837 532h1v3h-1zM837 538h1v3h-1zM837 544h1v3h-1zM837 550h1v3h-1zM837 556h1v3h-1zM837 562h1v3h-1zM837 568h1v3h-1zM837 574h1v3h-1zM837 580h1v3h-1zM837 586h1v3h-1zM837 592h1v3h-1zM837 598h1v3h-1zM837 604h1v3h-1zM837 610h1v3h-1zM837 616h1v3h-1zM837 622h1v3h-1zM837 628h1v3h-1zM837 634h1v3h-1zM837 640h1v3h-1zM837 646h1v3h-1zM837 652h1v3h-1zM837 658h1v3h-1zM837 664h1v3h-1zM837 670h1v3h-1zM837 676h1v3h-1zM837 682h1v3h-1zM837 688h1v3h-1zM837 694h1v3h-1zM837 700h1v3h-1zM837 706h1v3h-1zM837 712h1v3h-1zM837 718h1v3h-1zM837 724h1v3h-1zM837 730h1v3h-1zM837 736h1v3h-1zM837 742h1v3h-1zM837 748h1v3h-1zM837 754h1v3h-1zM837 760h1v3h-1zM837 766h1v3h-1zM837 772h1v3h-1zM837 778h1v3h-1zM901 5h1v2h-1zM901 10h1v3h-1zM901 16h1v3h-1zM901 22h1v3h-1zM901 28h1v3h-1zM901 34h1v3h-1zM901 40h1v3h-1zM901 46h1v3h-1zM901 52h1v3h-1zM901 58h1v3h-1zM901 64h1v3h-1zM901 70h1v3h-1zM901 76h1v3h-1zM901 82h1v3h-1zM901 88h1v3h-1zM901 94h1v3h-1zM901 100h1v3h-1zM901 106h1v3h-1zM901 112h1v3h-1zM901 118h1v3h-1zM901 124h1v3h-1zM901 130h1v3h-1zM901 136h1v3h-1zM901 142h1v3h-1zM901 148h1v3h-1zM901 154h1v3h-1zM901 160h1v3h-1zM901 166h1v3h-1zM901 172h1v3h-1zM901 178h1v3h-1zM901 184h1v3h-1zM901 190h1v3h-1zM901 196h1v3h-1zM901 202h1v3h-1zM901 208h1v3h-1zM901 214h1v3h-1zM901 220h1v3h-1zM901 226h1v3h-1zM901 232h1v3h-1zM901 238h1v3h-1zM901 244h1v3h-1zM901 250h1v3h-1zM901 256h1v3h-1zM901 262h1v3h-1zM901 268h1v3h-1zM901 274h1v3h-1zM901 280h1v3h-1zM901 286h1v3h-1zM901 292h1v3h-1zM901 298h1v3h-1zM901 304h1v3h-1zM901 310h1v3h-1zM901 316h1v3h-1zM901 322h1v3h-1zM901 328h1v3h-1zM901 334h1v3h-1zM901 340h1v3h-1zM901 346h1v3h-1zM901 352h1v3h-1zM901 358h1v3h-1zM901 364h1v3h-1zM901 370h1v3h-1zM901 376h1v3h-1zM901 382h1v3h-1zM901 388h1v3h-1zM901 394h1v3h-1zM901 400h1v3h-1zM901 406h1v3h-1zM901 412h1v3h-1zM901 418h1v3h-1zM901 424h1v3h-1zM901 430h1v3h-1zM901 436h1v3h-1zM901 442h1v3h-1zM901 448h1v3h-1zM901 454h1v3h-1zM901 460h1v3h-1zM901 466h1v3h-1zM901 472h1v3h-1zM901 478h1v3h-1zM901 484h1v3h-1zM901 490h1v3h-1zM901 496h1v3h-1zM901 502h1v3h-1zM901 508h1v3h-1zM901 514h1v3h-1zM901 520h1v3h-1zM901 526h1v3h-1zM901 532h1v3h-1zM901 538h1v3h-1zM901 544h1v3h-1zM901 550h1v3h-1zM901 556h1v3h-1zM901 562h1v3h-1zM901 568h1v3h-1zM901 574h1v3h-1zM901 580h1v3h-1zM901 586h1v3h-1zM901 592h1v3h-1zM901 598h1v3h-1zM901 604h1v3h-1zM901 610h1v3h-1zM901 616h1v3h-1zM901 622h1v3h-1zM901 628h1v3h-1zM901 634h1v3h-1zM901 640h1v3h-1zM901 646h1v3h-1zM901 652h1v3h-1zM901 658h1v3h-1zM901 664h1v3h-1zM901 670h1v3h-1zM901 676h1v3h-1zM901 682h1v3h-1zM901 688h1v3h-1zM901 694h1v3h-1zM901 700h1v3h-1zM901 706h1v3h-1zM901 712h1v3h-1zM901 718h1v3h-1zM901 724h1v3h-1zM901 730h1v3h-1zM901 736h1v3h-1zM901 742h1v3h-1zM901 748h1v3h-1zM901 754h1v3h-1zM901 760h1v3h-1zM901 766h1v3h-1zM901 772h1v3h-1zM901 778h1v3h-1zM965 5h1v2h-1zM965 10h1v3h-1zM965 16h1v3h-1zM965 22h1v3h-1zM965 28h1v3h-1zM965 34h1v3h-1zM965 40h1v3h-1zM965 46h1v3h-1zM965 52h1v3h-1zM965 58h1v3h-1zM965 64h1v3h-1zM965 70h1v3h-1zM965 76h1v3h-1zM965 82h1v3h-1zM965 88h1v3h-1zM965 94h1v3h-1zM965 100h1v3h-1zM965 106h1v3h-1zM965 112h1v3h-1zM965 118h1v3h-1zM965 124h1v3h-1zM965 130h1v3h-1zM965 136h1v3h-1zM965 142h1v3h-1zM965 148h1v3h-1zM965 154h1v3h-1zM965 160h1v3h-1zM965 166h1v3h-1zM965 172h1v3h-1zM965 178h1v3h-1zM965 184h1v3h-1zM965 190h1v3h-1zM965 196h1v3h-1zM965 202h1v3h-1zM965 208h1v3h-1zM965 214h1v3h-1zM965 220h1v3h-1zM965 226h1v3h-1zM965 232h1v3h-1zM965 238h1v3h-1zM965 244h1v3h-1zM965 250h1v3h-1zM965 256h1v3h-1zM965 262h1v3h-1zM965 268h1v3h-1zM965 274h1v3h-1zM965 280h1v3h-1zM965 286h1v3h-1zM965 292h1v3h-1zM965 298h1v3h-1zM965 304h1v3h-1zM965 310h1v3h-1zM965 316h1v3h-1zM965 322h1v3h-1zM965 328h1v3h-1zM965 334h1v3h-1zM965 340h1v3h-1zM965 346h1v3h-1zM965 352h1v3h-1zM965 358h1v3h-1zM965 364h1v3h-1zM965 370h1v3h-1zM965 376h1v3h-1zM965 382h1v3h-1zM965 388h1v3h-1zM965 394h1v3h-1zM965 400h1v3h-1zM965 406h1v3h-1zM965 412h1v3h-1zM965 418h1v3h-1zM965 424h1v3h-1zM965 430h1v3h-1zM965 436h1v3h-1zM965 442h1v3h-1zM965 448h1v3h-1zM965 454h1v3h-1zM965 460h1v3h-1zM965 466h1v3h-1zM965 472h1v3h-1zM965 478h1v3h-1zM965 484h1v3h-1zM965 490h1v3h-1zM965 496h1v3h-1zM965 502h1v3h-1zM965 508h1v3h-1zM965 514h1v3h-1zM965 520h1v3h-1zM965 526h1v3h-1zM965 532h1v3h-1zM965 538h1v3h-1zM965 544h1v3h-1zM965 550h1v3h-1zM965 556h1v3h-1zM965 562h1v3h-1zM965 568h1v3h-1zM965 574h1v3h-1zM965 580h1v3h-1zM965 586h1v3h-1zM965 592h1v3h-1zM965 598h1v3h-1zM965 604h1v3h-1zM965 610h1v3h-1zM965 616h1v3h-1zM965 622h1v3h-1zM965 628h1v3h-1zM965 634h1v3h-1zM965 640h1v3h-1zM965 646h1v3h-1zM965 652h1v3h-1zM965 658h1v3h-1zM965 664h1v3h-1zM965 670h1v3h-1zM965 676h1v3h-1zM965 682h1v3h-1zM965 688h1v3h-1zM965 694h1v3h-1zM965 700h1v3h-1zM965 706h1v3h-1zM965 712h1v3h-1zM965 718h1v3h-1zM965 724h1v3h-1zM965 730h1v3h-1zM965 736h1v3h-1zM965 742h1v3h-1zM965 748h1v3h-1zM965 754h1v3h-1zM965 760h1v3h-1zM965 766h1v3h-1zM965 772h1v3h-1zM965 778h1v3h-1zM1029 5h1v2h-1zM1029 10h1v3h-1zM1029 16h1v3h-1zM1029 22h1v3h-1zM1029 28h1v3h-1zM1029 34h1v3h-1zM1029 40h1v3h-1zM1029 46h1v3h-1zM1029 52h1v3h-1zM1029 58h1v3h-1zM1029 64h1v3h-1zM1029 70h1v3h-1zM1029 76h1v3h-1zM1029 82h1v3h-1zM1029 88h1v3h-1zM1029 94h1v3h-1zM1029 100h1v3h-1zM1029 106h1v3h-1zM1029 112h1v3h-1zM1029 118h1v3h-1zM1029 124h1v3h-1zM1029 130h1v3h-1zM1029 136h1v3h-1zM1029 142h1v3h-1zM1029 148h1v3h-1zM1029 154h1v3h-1zM1029 160h1v3h-1zM1029 166h1v3h-1zM1029 172h1v3h-1zM1029 178h1v3h-1zM1029 184h1v3h-1zM1029 190h1v3h-1zM1029 196h1v3h-1zM1029 202h1v3h-1zM1029 208h1v3h-1zM1029 214h1v3h-1zM1029 220h1v3h-1zM1029 226h1v3h-1zM1029 232h1v3h-1zM1029 238h1v3h-1zM1029 244h1v3h-1zM1029 250h1v3h-1zM1029 256h1v3h-1zM1029 262h1v3h-1zM1029 268h1v3h-1zM1029 274h1v3h-1zM1029 280h1v3h-1zM1029 286h1v3h-1zM1029 292h1v3h-1zM1029 298h1v3h-1zM1029 304h1v3h-1zM1029 310h1v3h-1zM1029 316h1v3h-1zM1029 322h1v3h-1zM1029 328h1v3h-1zM1029 334h1v3h-1zM1029 340h1v3h-1zM1029 346h1v3h-1zM1029 352h1v3h-1zM1029 358h1v3h-1zM1029 364h1v3h-1zM1029 370h1v3h-1zM1029 376h1v3h-1zM1029 382h1v3h-1zM1029 388h1v3h-1zM1029 394h1v3h-1zM1029 400h1v3h-1zM1029 406h1v3h-1zM1029 412h1v3h-1zM1029 418h1v3h-1zM1029 424h1v3h-1zM1029 430h1v3h-1zM1029 436h1v3h-1zM1029 442h1v3h-1zM1029 448h1v3h-1zM1029 454h1v3h-1zM1029 460h1v3h-1zM1029 466h1v3h-1zM1029 472h1v3h-1zM1029 478h1v3h-1zM1029 484h1v3h-1zM1029 490h1v3h-1zM1029 496h1v3h-1zM1029 502h1v3h-1zM1029 508h1v3h-1zM1029 514h1v3h-1zM1029 520h1v3h-1zM1029 526h1v3h-1zM1029 532h1v3h-1zM1029 538h1v3h-1zM1029 544h1v3h-1zM1029 550h1v3h-1zM1029 556h1v3h-1zM1029 562h1v3h-1zM1029 568h1v3h-1zM1029 574h1v3h-1zM1029 580h1v3h-1zM1029 586h1v3h-1zM1029 592h1v3h-1zM1029 598h1v3h-1zM1029 604h1v3h-1zM1029 610h1v3h-1zM1029 616h1v3h-1zM1029 622h1v3h-1zM1029 628h1v3h-1zM1029 634h1v3h-1zM1029 640h1v3h-1zM1029 646h1v3h-1zM1029 652h1v3h-1zM1029 658h1v3h-1zM1029 664h1v3h-1zM1029 670h1v3h-1zM1029 676h1v3h-1zM1029 682h1v3h-1zM1029 688h1v3h-1zM1029 694h1v3h-1zM1029 700h1v3h-1zM1029 706h1v3h-1zM1029 712h1v3h-1zM1029 718h1v3h-1zM1029 724h1v3h-1zM1029 730h1v3h-1zM1029 736h1v3h-1zM1029 742h1v3h-1zM1029 748h1v3h-1zM1029 754h1v3h-1zM1029 760h1v3h-1zM1029 766h1v3h-1zM1029 772h1v3h-1zM1029 778h1v3h-1zM1093 5h1v2h-1zM1093 10h1v3h-1zM1093 16h1v3h-1zM1093 22h1v3h-1zM1093 28h1v3h-1zM1093 34h1v3h-1zM1093 40h1v3h-1zM1093 46h1v3h-1zM1093 52h1v3h-1zM1093 58h1v3h-1zM1093 64h1v3h-1zM1093 70h1v3h-1zM1093 76h1v3h-1zM1093 82h1v3h-1zM1093 88h1v3h-1zM1093 94h1v3h-1zM1093 100h1v3h-1zM1093 106h1v3h-1zM1093 112h1v3h-1zM1093 118h1v3h-1zM1093 124h1v3h-1zM1093 130h1v3h-1zM1093 136h1v3h-1zM1093 142h1v3h-1zM1093 148h1v3h-1zM1093 154h1v3h-1zM1093 160h1v3h-1zM1093 166h1v3h-1zM1093 172h1v3h-1zM1093 178h1v3h-1zM1093 184h1v3h-1zM1093 190h1v3h-1zM1093 196h1v3h-1zM1093 202h1v3h-1zM1093 208h1v3h-1zM1093 214h1v3h-1zM1093 220h1v3h-1zM1093 226h1v3h-1zM1093 232h1v3h-1zM1093 238h1v3h-1zM1093 244h1v3h-1zM1093 250h1v3h-1zM1093 256h1v3h-1zM1093 262h1v3h-1zM1093 268h1v3h-1zM1093 274h1v3h-1zM1093 280h1v3h-1zM1093 286h1v3h-1zM1093 292h1v3h-1zM1093 298h1v3h-1zM1093 304h1v3h-1zM1093 310h1v3h-1zM1093 316h1v3h-1zM1093 322h1v3h-1zM1093 328h1v3h-1zM1093 334h1v3h-1zM1093 340h1v3h-1zM1093 346h1v3h-1zM1093 352h1v3h-1zM1093 358h1v3h-1zM1093 364h1v3h-1zM1093 370h1v3h-1zM1093 376h1v3h-1zM1093 382h1v3h-1zM1093 388h1v3h-1zM1093 394h1v3h-1zM1093 400h1v3h-1zM1093 406h1v3h-1zM1093 412h1v3h-1zM1093 418h1v3h-1zM1093 424h1v3h-1zM1093 430h1v3h-1zM1093 436h1v3h-1zM1093 442h1v3h-1zM1093 448h1v3h-1zM1093 454h1v3h-1zM1093 460h1v3h-1zM1093 466h1v3h-1zM1093 472h1v3h-1zM1093 478h1v3h-1zM1093 484h1v3h-1zM1093 490h1v3h-1zM1093 496h1v3h-1zM1093 502h1v3h-1zM1093 508h1v3h-1zM1093 514h1v3h-1zM1093 520h1v3h-1zM1093 526h1v3h-1zM1093 532h1v3h-1zM1093 538h1v3h-1zM1093 544h1v3h-1zM1093 550h1v3h-1zM1093 556h1v3h-1zM1093 562h1v3h-1zM1093 568h1v3h-1zM1093 574h1v3h-1zM1093 580h1v3h-1zM1093 586h1v3h-1zM1093 592h1v3h-1zM1093 598h1v3h-1zM1093 604h1v3h-1zM1093 610h1v3h-1zM1093 616h1v3h-1zM1093 622h1v3h-1zM1093 628h1v3h-1zM1093 634h1v3h-1zM1093 640h1v3h-1zM1093 646h1v3h-1zM1093 652h1v3h-1zM1093 658h1v3h-1zM1093 664h1v3h-1zM1093 670h1v3h-1zM1093 676h1v3h-1zM1093 682h1v3h-1zM1093 688h1v3h-1zM1093 694h1v3h-1zM1093 700h1v3h-1zM1093 706h1v3h-1zM1093 712h1v3h-1zM1093 718h1v3h-1zM1093 724h1v3h-1zM1093 730h1v3h-1zM1093 736h1v3h-1zM1093 742h1v3h-1zM1093 748h1v3h-1zM1093 754h1v3h-1zM1093 760h1v3h-1zM1093 766h1v3h-1zM1093 772h1v3h-1zM1093 778h1v3h-1zM1157 5h1v2h-1zM1157 10h1v3h-1zM1157 16h1v3h-1zM1157 22h1v3h-1zM1157 28h1v3h-1zM1157 34h1v3h-1zM1157 40h1v3h-1zM1157 46h1v3h-1zM1157 52h1v3h-1zM1157 58h1v3h-1zM1157 64h1v3h-1zM1157 70h1v3h-1zM1157 76h1v3h-1zM1157 82h1v3h-1zM1157 88h1v3h-1zM1157 94h1v3h-1zM1157 100h1v3h-1zM1157 106h1v3h-1zM1157 112h1v3h-1zM1157 118h1v3h-1zM1157 124h1v3h-1zM1157 130h1v3h-1zM1157 136h1v3h-1zM1157 142h1v3h-1zM1157 148h1v3h-1zM1157 154h1v3h-1zM1157 160h1v3h-1zM1157 166h1v3h-1zM1157 172h1v3h-1zM1157 178h1v3h-1zM1157 184h1v3h-1zM1157 190h1v3h-1zM1157 196h1v3h-1zM1157 202h1v3h-1zM1157 208h1v3h-1zM1157 214h1v3h-1zM1157 220h1v3h-1zM1157 226h1v3h-1zM1157 232h1v3h-1zM1157 238h1v3h-1zM1157 244h1v3h-1zM1157 250h1v3h-1zM1157 256h1v3h-1zM1157 262h1v3h-1zM1157 268h1v3h-1zM1157 274h1v3h-1zM1157 280h1v3h-1zM1157 286h1v3h-1zM1157 292h1v3h-1zM1157 298h1v3h-1zM1157 304h1v3h-1zM1157 310h1v3h-1zM1157 316h1v3h-1zM1157 322h1v3h-1zM1157 328h1v3h-1zM1157 334h1v3h-1zM1157 340h1v3h-1zM1157 346h1v3h-1zM1157 352h1v3h-1zM1157 358h1v3h-1zM1157 364h1v3h-1zM1157 370h1v3h-1zM1157 376h1v3h-1zM1157 382h1v3h-1zM1157 388h1v3h-1zM1157 394h1v3h-1zM1157 400h1v3h-1zM1157 406h1v3h-1zM1157 412h1v3h-1zM1157 418h1v3h-1zM1157 424h1v3h-1zM1157 430h1v3h-1zM1157 436h1v3h-1zM1157 442h1v3h-1zM1157 448h1v3h-1zM1157 454h1v3h-1zM1157 460h1v3h-1zM1157 466h1v3h-1zM1157 472h1v3h-1zM1157 478h1v3h-1zM1157 484h1v3h-1zM1157 490h1v3h-1zM1157 496h1v3h-1zM1157 502h1v3h-1zM1157 508h1v3h-1zM1157 514h1v3h-1zM1157 520h1v3h-1zM1157 526h1v3h-1zM1157 532h1v3h-1zM1157 538h1v3h-1zM1157 544h1v3h-1zM1157 550h1v3h-1zM1157 556h1v3h-1zM1157 562h1v3h-1zM1157 568h1v3h-1zM1157 574h1v3h-1zM1157 580h1v3h-1zM1157 586h1v3h-1zM1157 592h1v3h-1zM1157 598h1v3h-1zM1157 604h1v3h-1zM1157 610h1v3h-1zM1157 616h1v3h-1zM1157 622h1v3h-1zM1157 628h1v3h-1zM1157 634h1v3h-1zM1157 640h1v3h-1zM1157 646h1v3h-1zM1157 652h1v3h-1zM1157 658h1v3h-1zM1157 664h1v3h-1zM1157 670h1v3h-1zM1157 676h1v3h-1zM1157 682h1v3h-1zM1157 688h1v3h-1zM1157 694h1v3h-1zM1157 700h1v3h-1zM1157 706h1v3h-1zM1157 712h1v3h-1zM1157 718h1v3h-1zM1157 724h1v3h-1zM1157 730h1v3h-1zM1157 736h1v3h-1zM1157 742h1v3h-1zM1157 748h1v3h-1zM1157 754h1v3h-1zM1157 760h1v3h-1zM1157 766h1v3h-1zM1157 772h1v3h-1zM1157 778h1v3h-1zM1221 5h1v2h-1zM1221 10h1v3h-1zM1221 16h1v3h-1zM1221 22h1v3h-1zM1221 28h1v3h-1zM1221 34h1v3h-1zM1221 40h1v3h-1zM1221 46h1v3h-1zM1221 52h1v3h-1zM1221 58h1v3h-1zM1221 64h1v3h-1zM1221 70h1v3h-1zM1221 76h1v3h-1zM1221 82h1v3h-1zM1221 88h1v3h-1zM1221 94h1v3h-1zM1221 100h1v3h-1zM1221 106h1v3h-1zM1221 112h1v3h-1zM1221 118h1v3h-1zM1221 124h1v3h-1zM1221 130h1v3h-1zM1221 136h1v3h-1zM1221 142h1v3h-1zM1221 148h1v3h-1zM1221 154h1v3h-1zM1221 160h1v3h-1zM1221 166h1v3h-1zM1221 172h1v3h-1zM1221 178h1v3h-1zM1221 184h1v3h-1zM1221 190h1v3h-1zM1221 196h1v3h-1zM1221 202h1v3h-1zM1221 208h1v3h-1zM1221 214h1v3h-1zM1221 220h1v3h-1zM1221 226h1v3h-1zM1221 232h1v3h-1zM1221 238h1v3h-1zM1221 244h1v3h-1zM1221 250h1v3h-1zM1221 256h1v3h-1zM1221 262h1v3h-1zM1221 268h1v3h-1zM1221 274h1v3h-1zM1221 280h1v3h-1zM1221 286h1v3h-1zM1221 292h1v3h-1zM1221 298h1v3h-1zM1221 304h1v3h-1zM1221 310h1v3h-1zM1221 316h1v3h-1zM1221 322h1v3h-1zM1221 328h1v3h-1zM1221 334h1v3h-1zM1221 340h1v3h-1zM1221 346h1v3h-1zM1221 352h1v3h-1zM1221 358h1v3h-1zM1221 364h1v3h-1zM1221 370h1v3h-1zM1221 376h1v3h-1zM1221 382h1v3h-1zM1221 388h1v3h-1zM1221 394h1v3h-1zM1221 400h1v3h-1zM1221 406h1v3h-1zM1221 412h1v3h-1zM1221 418h1v3h-1zM1221 424h1v3h-1zM1221 430h1v3h-1zM1221 436h1v3h-1zM1221 442h1v3h-1zM1221 448h1v3h-1zM1221 454h1v3h-1zM1221 460h1v3h-1zM1221 466h1v3h-1zM1221 472h1v3h-1zM1221 478h1v3h-1zM1221 484h1v3h-1zM1221 490h1v3h-1zM1221 496h1v3h-1zM1221 502h1v3h-1zM1221 508h1v3h-1zM1221 514h1v3h-1zM1221 520h1v3h-1zM1221 526h1v3h-1zM1221 532h1v3h-1zM1221 538h1v3h-1zM1221 544h1v3h-1zM1221 550h1v3h-1zM1221 556h1v3h-1zM1221 562h1v3h-1zM1221 568h1v3h-1zM1221 574h1v3h-1zM1221 580h1v3h-1zM1221 586h1v3h-1zM1221 592h1v3h-1zM1221 598h1v3h-1zM1221 604h1v3h-1zM1221 610h1v3h-1zM1221 616h1v3h-1zM1221 622h1v3h-1zM1221 628h1v3h-1zM1221 634h1v3h-1zM1221 640h1v3h-1zM1221 646h1v3h-1zM1221 652h1v3h-1zM1221 658h1v3h-1zM1221 664h1v3h-1zM1221 670h1v3h-1zM1221 676h1v3h-1zM1221 682h1v3h-1zM1221 688h1v3h-1zM1221 694h1v3h-1zM1221 700h1v3h-1zM1221 706h1v3h-1zM1221 712h1v3h-1zM1221 718h1v3h-1zM1221 724h1v3h-1zM1221 730h1v3h-1zM1221 736h1v3h-1zM1221 742h1v3h-1zM1221 748h1v3h-1zM1221 754h1v3h-1zM1221 760h1v3h-1zM1221 766h1v3h-1zM1221 772h1v3h-1zM1221 778h1v3h-1zM1285 5h1v2h-1zM1285 10h1v3h-1zM1285 16h1v3h-1zM1285 22h1v3h-1zM1285 28h1v3h-1zM1285 34h1v3h-1zM1285 40h1v3h-1zM1285 46h1v3h-1zM1285 52h1v3h-1zM1285 58h1v3h-1zM1285 64h1v3h-1zM1285 70h1v3h-1zM1285 76h1v3h-1zM1285 82h1v3h-1zM1285 88h1v3h-1zM1285 94h1v3h-1zM1285 100h1v3h-1zM1285 106h1v3h-1zM1285 112h1v3h-1zM1285 118h1v3h-1zM1285 124h1v3h-1zM1285 130h1v3h-1zM1285 136h1v3h-1zM1285 142h1v3h-1zM1285 148h1v3h-1zM1285 154h1v3h-1zM1285 160h1v3h-1zM1285 166h1v3h-1zM1285 172h1v3h-1zM1285 178h1v3h-1zM1285 184h1v3h-1zM1285 190h1v3h-1zM1285 196h1v3h-1zM1285 202h1v3h-1zM1285 208h1v3h-1zM1285 214h1v3h-1zM1285 220h1v3h-1zM1285 226h1v3h-1zM1285 232h1v3h-1zM1285 238h1v3h-1zM1285 244h1v3h-1zM1285 250h1v3h-1zM1285 256h1v3h-1zM1285 262h1v3h-1zM1285 268h1v3h-1zM1285 274h1v3h-1zM1285 280h1v3h-1zM1285 286h1v3h-1zM1285 292h1v3h-1zM1285 298h1v3h-1zM1285 304h1v3h-1zM1285 310h1v3h-1zM1285 316h1v3h-1zM1285 322h1v3h-1zM1285 328h1v3h-1zM1285 334h1v3h-1zM1285 340h1v3h-1zM1285 346h1v3h-1zM1285 352h1v3h-1zM1285 358h1v3h-1zM1285 364h1v3h-1zM1285 370h1v3h-1zM1285 376h1v3h-1zM1285 382h1v3h-1zM1285 388h1v3h-1zM1285 394h1v3h-1zM1285 400h1v3h-1zM1285 406h1v3h-1zM1285 412h1v3h-1zM1285 418h1v3h-1zM1285 424h1v3h-1zM1285 430h1v3h-1zM1285 436h1v3h-1zM1285 442h1v3h-1zM1285 448h1v3h-1zM1285 454h1v3h-1zM1285 460h1v3h-1zM1285 466h1v3h-1zM1285 472h1v3h-1zM1285 478h1v3h-1zM1285 484h1v3h-1zM1285 490h1v3h-1zM1285 496h1v3h-1zM1285 502h1v3h-1zM1285 508h1v3h-1zM1285 514h1v3h-1zM1285 520h1v3h-1zM1285 526h1v3h-1zM1285 532h1v3h-1zM1285 538h1v3h-1zM1285 544h1v3h-1zM1285 550h1v3h-1zM1285 556h1v3h-1zM1285 562h1v3h-1zM1285 568h1v3h-1zM1285 574h1v3h-1zM1285 580h1v3h-1zM1285 586h1v3h-1zM1285 592h1v3h-1zM1285 598h1v3h-1zM1285 604h1v3h-1zM1285 610h1v3h-1zM1285 616h1v3h-1zM1285 622h1v3h-1zM1285 628h1v3h-1zM1285 634h1v3h-1zM1285 640h1v3h-1zM1285 646h1v3h-1zM1285 652h1v3h-1zM1285 658h1v3h-1zM1285 664h1v3h-1zM1285 670h1v3h-1zM1285 676h1v3h-1zM1285 682h1v3h-1zM1285 688h1v3h-1zM1285 694h1v3h-1zM1285 700h1v3h-1zM1285 706h1v3h-1zM1285 712h1v3h-1zM1285 718h1v3h-1zM1285 724h1v3h-1zM1285 730h1v3h-1zM1285 736h1v3h-1zM1285 742h1v3h-1zM1285 748h1v3h-1zM1285 754h1v3h-1zM1285 760h1v3h-1zM1285 766h1v3h-1zM1285 772h1v3h-1zM1285 778h1v3h-1zM1349 5h1v2h-1zM1349 10h1v3h-1zM1349 16h1v3h-1zM1349 22h1v3h-1zM1349 28h1v3h-1zM1349 34h1v3h-1zM1349 40h1v3h-1zM1349 46h1v3h-1zM1349 52h1v3h-1zM1349 58h1v3h-1zM1349 64h1v3h-1zM1349 70h1v3h-1zM1349 76h1v3h-1zM1349 82h1v3h-1zM1349 88h1v3h-1zM1349 94h1v3h-1zM1349 100h1v3h-1zM1349 106h1v3h-1zM1349 112h1v3h-1zM1349 118h1v3h-1zM1349 124h1v3h-1zM1349 130h1v3h-1zM1349 136h1v3h-1zM1349 142h1v3h-1zM1349 148h1v3h-1zM1349 154h1v3h-1zM1349 160h1v3h-1zM1349 166h1v3h-1zM1349 172h1v3h-1zM1349 178h1v3h-1zM1349 184h1v3h-1zM1349 190h1v3h-1zM1349 196h1v3h-1zM1349 202h1v3h-1zM1349 208h1v3h-1zM1349 214h1v3h-1zM1349 220h1v3h-1zM1349 226h1v3h-1zM1349 232h1v3h-1zM1349 238h1v3h-1zM1349 244h1v3h-1zM1349 250h1v3h-1zM1349 256h1v3h-1zM1349 262h1v3h-1zM1349 268h1v3h-1zM1349 274h1v3h-1zM1349 280h1v3h-1zM1349 286h1v3h-1zM1349 292h1v3h-1zM1349 298h1v3h-1zM1349 304h1v3h-1zM1349 310h1v3h-1zM1349 316h1v3h-1zM1349 322h1v3h-1zM1349 328h1v3h-1zM1349 334h1v3h-1zM1349 340h1v3h-1zM1349 346h1v3h-1zM1349 352h1v3h-1zM1349 358h1v3h-1zM1349 364h1v3h-1zM1349 370h1v3h-1zM1349 376h1v3h-1zM1349 382h1v3h-1zM1349 388h1v3h-1zM1349 394h1v3h-1zM1349 400h1v3h-1zM1349 406h1v3h-1zM1349 412h1v3h-1zM1349 418h1v3h-1zM1349 424h1v3h-1zM1349 430h1v3h-1zM1349 436h1v3h-1zM1349 442h1v3h-1zM1349 448h1v3h-1zM1349 454h1v3h-1zM1349 460h1v3h-1zM1349 466h1v3h-1zM1349 472h1v3h-1zM1349 478h1v3h-1zM1349 484h1v3h-1zM1349 490h1v3h-1zM1349 496h1v3h-1zM1349 502h1v3h-1zM1349 508h1v3h-1zM1349 514h1v3h-1zM1349 520h1v3h-1zM1349 526h1v3h-1zM1349 532h1v3h-1zM1349 538h1v3h-1zM1349 544h1v3h-1zM1349 550h1v3h-1zM1349 556h1v3h-1zM1349 562h1v3h-1zM1349 568h1v3h-1zM1349 574h1v3h-1zM1349 580h1v3h-1zM1349 586h1v3h-1zM1349 592h1v3h-1zM1349 598h1v3h-1zM1349 604h1v3h-1zM1349 610h1v3h-1zM1349 616h1v3h-1zM1349 622h1v3h-1zM1349 628h1v3h-1zM1349 634h1v3h-1zM1349 640h1v3h-1zM1349 646h1v3h-1zM1349 652h1v3h-1zM1349 658h1v3h-1zM1349 664h1v3h-1zM1349 670h1v3h-1zM1349 676h1v3h-1zM1349 682h1v3h-1zM1349 688h1v3h-1zM1349 694h1v3h-1zM1349 700h1v3h-1zM1349 706h1v3h-1zM1349 712h1v3h-1zM1349 718h1v3h-1zM1349 724h1v3h-1zM1349 730h1v3h-1zM1349 736h1v3h-1zM1349 742h1v3h-1zM1349 748h1v3h-1zM1349 754h1v3h-1zM1349 760h1v3h-1zM1349 766h1v3h-1zM1349 772h1v3h-1zM1349 778h1v3h-1zM1413 5h1v2h-1zM1413 10h1v3h-1zM1413 16h1v3h-1zM1413 22h1v3h-1zM1413 28h1v3h-1zM1413 34h1v3h-1zM1413 40h1v3h-1zM1413 46h1v3h-1zM1413 52h1v3h-1zM1413 58h1v3h-1zM1413 64h1v3h-1zM1413 70h1v3h-1zM1413 76h1v3h-1zM1413 82h1v3h-1zM1413 88h1v3h-1zM1413 94h1v3h-1zM1413 100h1v3h-1zM1413 106h1v3h-1zM1413 112h1v3h-1zM1413 118h1v3h-1zM1413 124h1v3h-1zM1413 130h1v3h-1zM1413 136h1v3h-1zM1413 142h1v3h-1zM1413 148h1v3h-1zM1413 154h1v3h-1zM1413 160h1v3h-1zM1413 166h1v3h-1zM1413 172h1v3h-1zM1413 178h1v3h-1zM1413 184h1v3h-1zM1413 190h1v3h-1zM1413 196h1v3h-1zM1413 202h1v3h-1zM1413 208h1v3h-1zM1413 214h1v3h-1zM1413 220h1v3h-1zM1413 226h1v3h-1zM1413 232h1v3h-1zM1413 238h1v3h-1zM1413 244h1v3h-1zM1413 250h1v3h-1zM1413 256h1v3h-1zM1413 262h1v3h-1zM1413 268h1v3h-1zM1413 274h1v3h-1zM1413 280h1v3h-1zM1413 286h1v3h-1zM1413 292h1v3h-1zM1413 298h1v3h-1zM1413 304h1v3h-1zM1413 310h1v3h-1zM1413 316h1v3h-1zM1413 322h1v3h-1zM1413 328h1v3h-1zM1413 334h1v3h-1zM1413 340h1v3h-1zM1413 346h1v3h-1zM1413 352h1v3h-1zM1413 358h1v3h-1zM1413 364h1v3h-1zM1413 370h1v3h-1zM1413 376h1v3h-1zM1413 382h1v3h-1zM1413 388h1v3h-1zM1413 394h1v3h-1zM1413 400h1v3h-1zM1413 406h1v3h-1zM1413 412h1v3h-1zM1413 418h1v3h-1zM1413 424h1v3h-1zM1413 430h1v3h-1zM1413 436h1v3h-1zM1413 442h1v3h-1zM1413 448h1v3h-1zM1413 454h1v3h-1zM1413 460h1v3h-1zM1413 466h1v3h-1zM1413 472h1v3h-1zM1413 478h1v3h-1zM1413 484h1v3h-1zM1413 490h1v3h-1zM1413 496h1v3h-1zM1413 502h1v3h-1zM1413 508h1v3h-1zM1413 514h1v3h-1zM1413 520h1v3h-1zM1413 526h1v3h-1zM1413 532h1v3h-1zM1413 538h1v3h-1zM1413 544h1v3h-1zM1413 550h1v3h-1zM1413 556h1v3h-1zM1413 562h1v3h-1zM1413 568h1v3h-1zM1413 574h1v3h-1zM1413 580h1v3h-1zM1413 586h1v3h-1zM1413 592h1v3h-1zM1413 598h1v3h-1zM1413 604h1v3h-1zM1413 610h1v3h-1zM1413 616h1v3h-1zM1413 622h1v3h-1zM1413 628h1v3h-1zM1413 634h1v3h-1zM1413 640h1v3h-1zM1413 646h1v3h-1zM1413 652h1v3h-1zM1413 658h1v3h-1zM1413 664h1v3h-1zM1413 670h1v3h-1zM1413 676h1v3h-1zM1413 682h1v3h-1zM1413 688h1v3h-1zM1413 694h1v3h-1zM1413 700h1v3h-1zM1413 706h1v3h-1zM1413 712h1v3h-1zM1413 718h1v3h-1zM1413 724h1v3h-1zM1413 730h1v3h-1zM1413 736h1v3h-1zM1413 742h1v3h-1zM1413 748h1v3h-1zM1413 754h1v3h-1zM1413 760h1v3h-1zM1413 766h1v3h-1zM1413 772h1v3h-1zM1413 778h1v3h-1zM1477 5h1v2h-1zM1477 10h1v3h-1zM1477 16h1v3h-1zM1477 22h1v3h-1zM1477 28h1v3h-1zM1477 34h1v3h-1zM1477 40h1v3h-1zM1477 46h1v3h-1zM1477 52h1v3h-1zM1477 58h1v3h-1zM1477 64h1v3h-1zM1477 70h1v3h-1zM1477 76h1v3h-1zM1477 82h1v3h-1zM1477 88h1v3h-1zM1477 94h1v3h-1zM1477 100h1v3h-1zM1477 106h1v3h-1zM1477 112h1v3h-1zM1477 118h1v3h-1zM1477 124h1v3h-1zM1477 130h1v3h-1zM1477 136h1v3h-1zM1477 142h1v3h-1zM1477 148h1v3h-1zM1477 154h1v3h-1zM1477 160h1v3h-1zM1477 166h1v3h-1zM1477 172h1v3h-1zM1477 178h1v3h-1zM1477 184h1v3h-1zM1477 190h1v3h-1zM1477 196h1v3h-1zM1477 202h1v3h-1zM1477 208h1v3h-1zM1477 214h1v3h-1zM1477 220h1v3h-1zM1477 226h1v3h-1zM1477 232h1v3h-1zM1477 238h1v3h-1zM1477 244h1v3h-1zM1477 250h1v3h-1zM1477 256h1v3h-1zM1477 262h1v3h-1zM1477 268h1v3h-1zM1477 274h1v3h-1zM1477 280h1v3h-1zM1477 286h1v3h-1zM1477 292h1v3h-1zM1477 298h1v3h-1zM1477 304h1v3h-1zM1477 310h1v3h-1zM1477 316h1v3h-1zM1477 322h1v3h-1zM1477 328h1v3h-1zM1477 334h1v3h-1zM1477 340h1v3h-1zM1477 346h1v3h-1zM1477 352h1v3h-1zM1477 358h1v3h-1zM1477 364h1v3h-1zM1477 370h1v3h-1zM1477 376h1v3h-1zM1477 382h1v3h-1zM1477 388h1v3h-1zM1477 394h1v3h-1zM1477 400h1v3h-1zM1477 406h1v3h-1zM1477 412h1v3h-1zM1477 418h1v3h-1zM1477 424h1v3h-1zM1477 430h1v3h-1zM1477 436h1v3h-1zM1477 442h1v3h-1zM1477 448h1v3h-1zM1477 454h1v3h-1zM1477 460h1v3h-1zM1477 466h1v3h-1zM1477 472h1v3h-1zM1477 478h1v3h-1zM1477 484h1v3h-1zM1477 490h1v3h-1zM1477 496h1v3h-1zM1477 502h1v3h-1zM1477 508h1v3h-1zM1477 514h1v3h-1zM1477 520h1v3h-1zM1477 526h1v3h-1zM1477 532h1v3h-1zM1477 538h1v3h-1zM1477 544h1v3h-1zM1477 550h1v3h-1zM1477 556h1v3h-1zM1477 562h1v3h-1zM1477 568h1v3h-1zM1477 574h1v3h-1zM1477 580h1v3h-1zM1477 586h1v3h-1zM1477 592h1v3h-1zM1477 598h1v3h-1zM1477 604h1v3h-1zM1477 610h1v3h-1zM1477 616h1v3h-1zM1477 622h1v3h-1zM1477 628h1v3h-1zM1477 634h1v3h-1zM1477 640h1v3h-1zM1477 646h1v3h-1zM1477 652h1v3h-1zM1477 658h1v3h-1zM1477 664h1v3h-1zM1477 670h1v3h-1zM1477 676h1v3h-1zM1477 682h1v3h-1zM1477 688h1v3h-1zM1477 694h1v3h-1zM1477 700h1v3h-1zM1477 706h1v3h-1zM1477 712h1v3h-1zM1477 718h1v3h-1zM1477 724h1v3h-1zM1477 730h1v3h-1zM1477 736h1v3h-1zM1477 742h1v3h-1zM1477 748h1v3h-1zM1477 754h1v3h-1zM1477 760h1v3h-1zM1477 766h1v3h-1zM1477 772h1v3h-1zM1477 778h1v3h-1z" fill="#778899"/><path d="M5 202h1v41h-1zM5 207h3v33h-3zM13 226h1v27h-1zM11 240h5v1h-5zM21 228h1v37h-1zM19 229h5v12h-5zM29 212h1v41h-1zM27 229h5v8h-5zM37 226h1v40h-1zM35 235h5v14h-5zM45 236h1v15h-1zM43 245h5v4h-5zM53 238h1v47h-1zM51 245h5v37h-5zM61 244h1v52h-1zM59 249h5v33h-5zM69 212h1v38h-1zM67 216h5v34h-5zM77 174h1v61h-1zM75 217h5v14h-5zM85 228h1v48h-1zM83 230h5v31h-5zM93 251h1v22h-1zM91 253h5v8h-5zM101 236h1v42h-1zM99 244h5v9h-5zM109 228h1v28h-1zM107 234h5v11h-5zM117 212h1v43h-1zM115 234h5v15h-5zM125 185h1v69h-1zM123 207h5v42h-5zM133 152h1v57h-1zM131 159h5v48h-5zM141 136h1v25h-1zM139 150h5v10h-5zM149 137h1v32h-1zM147 150h5v18h-5zM157 145h1v41h-1zM155 145h5v23h-5zM165 126h1v46h-1zM163 145h5v25h-5zM173 153h1v44h-1zM171 169h5v4h-5zM181 153h1v35h-1zM179 159h5v14h-5zM189 167h1v17h-1zM187 169h5v6h-5zM197 135h1v34h-1zM195 155h5v14h-5zM205 152h1v49h-1zM203 155h5v43h-5zM213 160h1v44h-1zM211 176h5v22h-5zM221 166h1v69h-1zM219 175h5v12h-5zM229 159h1v44h-1zM227 172h5v15h-5zM237 146h1v29h-1zM235 152h5v21h-5zM245 128h1v26h-1zM243 143h5v10h-5zM253 110h1v41h-1zM251 114h5v30h-5zM261 106h1v35h-1zM259 114h5v15h-5zM269 119h1v92h-1zM267 127h5v11h-5zM277 123h1v35h-1zM275 124h5v13h-5zM285 123h1v9h-1zM283 124h5v5h-5zM293 118h1v45h-1zM291 128h5v23h-5zM301 142h1v34h-1zM299 150h5v14h-5zM309 147h1v41h-1zM307 163h5v12h-5zM317 122h1v78h-1zM315 145h5v30h-5zM325 103h1v60h-1zM323 106h5v40h-5zM333 80h1v27h-1zM331 81h5v26h-5zM341 78h1v29h-1zM339 81h5v4h-5zM349 79h1v46h-1zM347 84h5v21h-5zM357 95h1v50h-1zM355 104h5v25h-5zM365 106h1v80h-1zM363 128h5v52h-5zM373 144h1v61h-1zM371 152h5v28h-5zM381 152h1v17h-1zM379 152h5v3h-5zM389 137h1v45h-1zM387 154h5v26h-5zM397 176h1v24h-1zM395 179h5v8h-5zM405 151h1v36h-1zM403 157h5v29h-5zM413 136h1v77h-1zM411 157h5v26h-5zM421 148h1v36h-1zM419 158h5v24h-5zM429 162h1v15h-1zM427 162h5v5h-5zM437 153h1v28h-1zM435 162h5v12h-5zM445 139h1v47h-1zM443 173h5v8h-5zM453 154h1v43h-1zM451 180h5v6h-5zM461 156h1v33h-1zM459 175h5v11h-5zM469 174h1v22h-1zM467 175h5v11h-5zM477 185h1v9h-1zM475 185h5v6h-5zM485 168h1v27h-1zM483 189h5v6h-5zM493 192h1v41h-1zM491 194h5v29h-5zM501 220h1v57h-1zM499 221h5v44h-5zM509 160h1v119h-1zM507 163h5v101h-5zM517 153h1v21h-1zM515 163h5v1h-5zM525 161h1v9h-1zM523 163h5v6h-5zM533 162h1v19h-1zM531 168h5v4h-5zM541 160h1v22h-1zM539 171h5v8h-5zM549 156h1v30h-1zM547 162h5v17h-5zM557 144h1v44h-1zM555 149h5v14h-5zM565 100h1v97h-1zM563 104h5v46h-5zM573 50h1v69h-1zM571 62h5v42h-5zM581 45h1v27h-1zM579 62h5v4h-5zM589 35h1v36h-1zM587 52h5v14h-5zM597 35h1v34h-1zM595 52h5v4h-5zM605 50h1v161h-1zM603 55h5v119h-5zM613 173h1v60h-1zM611 173h5v54h-5zM621 217h1v18h-1zM619 219h5v9h-5zM629 204h1v20h-1zM627 214h5v5h-5zM637 207h1v33h-1zM635 214h5v12h-5zM645 214h1v30h-1zM643 222h5v4h-5zM653 211h1v198h-1zM651 221h5v172h-5zM661 384h1v57h-1zM659 392h5v31h-5zM669 405h1v42h-1zM667 423h5v5h-5zM677 377h1v55h-1zM675 378h5v47h-5zM685 368h1v20h-1zM683 378h5v4h-5zM693 358h1v55h-1zM691 380h5v19h-5zM701 381h1v54h-1zM699 399h5v24h-5zM709 400h1v32h-1zM707 422h5v1h-5zM717 406h1v20h-1zM715 411h5v13h-5zM725 382h1v31h-1zM723 393h5v19h-5zM733 377h1v22h-1zM731 379h5v16h-5zM741 372h1v50h-1zM739 379h5v38h-5zM749 364h1v59h-1zM747 366h5v50h-5zM757 345h1v82h-1zM755 365h5v33h-5zM765 372h1v45h-1zM763 393h5v5h-5zM773 370h1v26h-1zM771 379h5v15h-5zM781 339h1v54h-1zM779 339h5v41h-5zM789 337h1v33h-1zM787 337h5v27h-5zM797 349h1v61h-1zM795 363h5v27h-5zM805 364h1v32h-1zM803 379h5v11h-5zM813 379h1v10h-1zM811 379h5v6h-5zM821 362h1v34h-1zM819 369h5v17h-5zM829 355h1v23h-1zM827 361h5v9h-5zM837 338h1v27h-1zM835 355h5v8h-5zM845 322h1v74h-1zM843 355h5v34h-5zM853 381h1v66h-1zM851 388h5v51h-5zM861 434h1v18h-1zM859 436h5v3h-5zM869 424h1v43h-1zM867 436h5v31h-5zM877 417h1v60h-1zM875 421h5v46h-5zM885 396h1v49h-1zM883 420h5v8h-5zM893 411h1v40h-1zM891 427h5v20h-5zM901 427h1v35h-1zM899 431h5v17h-5zM909 424h1v12h-1zM907 428h5v8h-5zM917 430h1v25h-1zM915 435h5v17h-5zM925 419h1v40h-1zM923 430h5v22h-5zM933 429h1v43h-1zM931 430h5v8h-5zM941 435h1v40h-1zM939 437h5v30h-5zM949 463h1v22h-1zM947 466h5v11h-5zM957 469h1v14h-1zM955 469h5v8h-5zM965 452h1v20h-1zM963 454h5v16h-5zM973 426h1v33h-1zM971 451h5v4h-5zM981 430h1v43h-1zM979 451h5v7h-5zM989 402h1v115h-1zM987 457h5v22h-5zM997 451h1v63h-1zM995 465h5v14h-5zM1005 462h1v12h-1zM1003 464h5v4h-5zM1013 446h1v53h-1zM1011 467h5v28h-5zM1021 493h1v57h-1zM1019 494h5v55h-5zM1029 538h1v25h-1zM1027 547h5v4h-5zM1037 533h1v35h-1zM1035 550h5v4h-5zM1045 537h1v29h-1zM1043 547h5v7h-5zM1053 534h1v17h-1zM1051 544h5v4h-5zM1061 518h1v34h-1zM1059 527h5v18h-5zM1069 523h1v30h-1zM1067 523h5v5h-5zM1077 509h1v42h-1zM1075 523h5v17h-5zM1085 527h1v54h-1zM1083 540h5v12h-5zM1093 507h1v54h-1zM1091 517h5v35h-5zM1101 516h1v42h-1zM1099 517h5v36h-5zM1109 552h1v35h-1zM1107 552h5v26h-5zM1117 576h1v29h-1zM1115 577h5v18h-5zM1125 577h1v40h-1zM1123 592h5v3h-5zM1133 525h1v76h-1zM1131 552h5v41h-5zM1141 514h1v38h-1zM1139 517h5v35h-5zM1149 521h1v15h-1zM1147 528h5v7h-5zM1157 517h1v24h-1zM1155 517h5v19h-5zM1165 503h1v22h-1zM1163 504h5v14h-5zM1173 498h1v27h-1zM1171 504h5v6h-5zM1181 500h1v20h-1zM1179 508h5v8h-5zM1189 512h1v14h-1zM1187 515h5v10h-5zM1197 517h1v6h-1zM1195 522h5v1h-5zM1205 513h1v17h-1zM1203 518h5v5h-5z" fill="#000"/><path d="M20 230h3v10h-3zM44 246h3v2h-3zM60 250h3v31h-3zM68 217h3v32h-3zM92 254h3v6h-3zM100 245h3v7h-3zM108 235h3v9h-3zM124 208h3v40h-3zM132 160h3v46h-3zM140 151h3v8h-3zM156 146h3v21h-3zM180 160h3v12h-3zM188 170h3v4h-3zM196 156h3v12h-3zM212 177h3v20h-3zM228 173h3v13h-3zM236 153h3v19h-3zM244 144h3v8h-3zM252 115h3v28h-3zM276 125h3v11h-3zM316 146h3v28h-3zM324 107h3v38h-3zM332 82h3v24h-3zM372 153h3v26h-3zM404 158h3v27h-3zM420 159h3v22h-3zM428 163h3v3h-3zM460 176h3v9h-3zM508 164h3v99h-3zM548 163h3v15h-3zM556 150h3v12h-3zM564 105h3v44h-3zM572 63h3v40h-3zM588 53h3v12h-3zM620 220h3v7h-3zM628 215h3v3h-3zM644 223h3v2h-3zM668 424h3v3h-3zM676 379h3v45h-3zM716 412h3v11h-3zM724 394h3v17h-3zM732 380h3v14h-3zM748 367h3v48h-3zM764 394h3v3h-3zM772 380h3v13h-3zM780 340h3v39h-3zM804 380h3v9h-3zM820 370h3v15h-3zM828 362h3v7h-3zM836 356h3v6h-3zM860 437h3v1h-3zM876 422h3v44h-3zM900 432h3v15h-3zM924 431h3v20h-3zM956 470h3v6h-3zM964 455h3v14h-3zM972 452h3v2h-3zM996 466h3v12h-3zM1044 548h3v5h-3zM1052 545h3v2h-3zM1060 528h3v16h-3zM1068 524h3v3h-3zM1092 518h3v33h-3zM1124 593h3v1h-3zM1132 553h3v39h-3zM1140 518h3v33h-3zM1156 518h3v17h-3zM1164 505h3v12h-3zM1204 519h3v3h-3z" fill="#ff0000"/><path d="M5 208h2v31h-2zM28 230h3v6h-3zM36 236h3v12h-3zM52 246h3v35h-3zM76 218h3v12h-3zM84 231h3v29h-3zM116 235h3v13h-3zM148 151h3v16h-3zM164 146h3v23h-3zM172 170h3v2h-3zM204 156h3v41h-3zM220 176h3v10h-3zM260 115h3v13h-3zM268 128h3v9h-3zM284 125h3v3h-3zM292 129h3v21h-3zM300 151h3v12h-3zM308 164h3v10h-3zM340 82h3v2h-3zM348 85h3v19h-3zM356 105h3v23h-3zM364 129h3v50h-3zM380 153h3v1h-3zM388 155h3v24h-3zM396 180h3v6h-3zM412 158h3v24h-3zM436 163h3v10h-3zM444 174h3v6h-3zM452 181h3v4h-3zM468 176h3v9h-3zM476 186h3v4h-3zM484 190h3v4h-3zM492 195h3v27h-3zM500 222h3v42h-3zM524 164h3v4h-3zM532 169h3v2h-3zM540 172h3v6h-3zM580 63h3v2h-3zM596 53h3v2h-3zM604 56h3v117h-3zM612 174h3v52h-3zM636 215h3v10h-3zM652 222h3v170h-3zM660 393h3v29h-3zM684 379h3v2h-3zM692 381h3v17h-3zM700 400h3v22h-3zM740 380h3v36h-3zM756 366h3v31h-3zM788 338h3v25h-3zM796 364h3v25h-3zM812 380h3v4h-3zM844 356h3v32h-3zM852 389h3v49h-3zM868 437h3v29h-3zM884 421h3v6h-3zM892 428h3v18h-3zM908 429h3v6h-3zM916 436h3v15h-3zM932 431h3v6h-3zM940 438h3v28h-3zM948 467h3v9h-3zM980 452h3v5h-3zM988 458h3v20h-3zM1004 465h3v2h-3zM1012 468h3v26h-3zM1020 495h3v53h-3zM1028 548h3v2h-3zM1036 551h3v2h-3zM1076 524h3v15h-3zM1084 541h3v10h-3zM1100 518h3v34h-3zM1108 553h3v24h-3zM1116 578h3v16h-3zM1148 529h3v5h-3zM1172 505h3v4h-3zM1180 509h3v6h-3zM1188 516h3v8h-3z" fill="#00ff00"/><path d="M5 648h3v51h-3zM11 653h5v46h-5zM19 655h5v44h-5zM27 659h5v40h-5zM35 663h5v36h-5zM43 666h5v33h-5zM51 672h5v27h-5zM59 675h5v24h-5zM67 674h5v25h-5zM75 675h5v24h-5zM83 678h5v21h-5zM91 681h5v18h-5zM99 682h5v17h-5zM107 682h5v17h-5zM115 684h5v15h-5zM123 682h5v17h-5zM131 676h5v23h-5zM139 672h5v27h-5zM147 670h5v29h-5zM155 666h5v33h-5zM163 666h5v33h-5zM171 667h5v32h-5zM179 667h5v32h-5zM187 668h5v31h-5zM195 667h5v32h-5zM203 671h5v28h-5zM211 673h5v26h-5zM219 675h5v24h-5zM227 676h5v23h-5zM235 676h5v23h-5zM243 673h5v26h-5zM251 673h5v26h-5zM259 670h5v29h-5zM267 671h5v28h-5zM275 670h5v29h-5zM283 671h5v28h-5zM291 674h5v25h-5zM299 676h5v23h-5zM307 680h5v19h-5zM315 681h5v18h-5zM323 678h5v21h-5zM331 675h5v24h-5zM339 672h5v27h-5zM347 672h5v27h-5zM355 674h5v25h-5zM363 681h5v18h-5zM371 684h5v15h-5zM379 686h5v13h-5zM387 691h5v8h-5zM395 695h5v4h-5zM403 696h5v3h-5zM411 699h5v1h-5zM419 699h5v1h-5zM427 699h5v1h-5zM435 699h5v2h-5zM443 699h5v4h-5zM451 699h5v6h-5zM459 699h5v6h-5zM467 699h5v7h-5zM475 699h5v8h-5zM483 699h5v10h-5zM491 699h5v13h-5zM499 699h5v19h-5zM507 699h5v15h-5zM515 699h5v10h-5zM523 699h5v9h-5zM531 699h5v7h-5zM539 699h5v6h-5zM547 699h5v4h-5zM555 699h5v2h-5zM563 693h5v6h-5zM571 685h5v14h-5zM579 679h5v20h-5zM587 673h5v26h-5zM595 669h5v30h-5zM603 677h5v22h-5zM611 688h5v11h-5zM619 695h5v4h-5zM627 699h5v3h-5zM635 699h5v9h-5zM643 699h5v13h-5zM651 699h5v30h-5zM659 699h5v46h-5zM667 699h5v59h-5zM675 699h5v64h-5zM683 699h5v67h-5zM691 699h5v71h-5zM699 699h5v74h-5zM707 699h5v77h-5zM715 699h5v77h-5zM723 699h5v74h-5zM731 699h5v70h-5zM739 699h5v70h-5zM747 699h5v64h-5zM755 699h5v61h-5zM763 699h5v59h-5zM771 699h5v54h-5zM779 699h5v47h-5zM787 699h5v43h-5zM795 699h5v41h-5zM803 699h5v39h-5zM811 699h5v37h-5zM819 699h5v33h-5zM827 699h5v30h-5zM835 699h5v26h-5zM843 699h5v26h-5zM851 699h5v30h-5zM859 699h5v31h-5zM867 699h5v36h-5zM875 699h5v35h-5zM883 699h5v34h-5zM891 699h5v35h-5zM899 699h5v34h-5zM907 699h5v32h-5zM915 699h5v33h-5zM923 699h5v32h-5zM931 699h5v30h-5zM939 699h5v32h-5zM947 699h5v31h-5zM955 699h5v31h-5zM963 699h5v31h-5zM971 699h5v30h-5zM979 699h5v30h-5zM987 699h5v29h-5zM995 699h5v29h-5zM1003 699h5v27h-5zM1011 699h5v29h-5zM1019 699h5v34h-5zM1027 699h5v38h-5zM1035 699h5v41h-5zM1043 699h5v42h-5zM1051 699h5v42h-5zM1059 699h5v41h-5zM1067 699h5v39h-5zM1075 699h5v37h-5zM1083 699h5v38h-5zM1091 699h5v35h-5zM1099 699h5v35h-5zM1107 699h5v37h-5zM1115 699h5v37h-5zM1123 699h5v40h-5zM1131 699h5v37h-5zM1139 699h5v32h-5zM1147 699h5v28h-5zM1155 699h5v24h-5zM1163 699h5v19h-5zM1171 699h5v16h-5zM1179 699h5v13h-5zM1187 699h5v12h-5zM1195 699h5v10h-5zM1203 699h5v9h-5z" fill="#00ff00"/><polyline points="5.5,642.2 13.5,642.8 21.5,645.2 29.5,647.0 37.5,649.9 45.5,653.5 53.5,657.3 61.5,661.0 69.5,663.3 77.5,666.3 85.5,669.1 93.5,671.9 101.5,674.5 109.5,676.6 117.5,678.6 125.5,679.7 133.5,679.8 141.5,679.6 149.5,679.1 157.5,677.7 165.5,676.1 173.5,674.4 181.5,672.7 189.5,670.9 197.5,669.3 205.5,668.7 213.5,668.8 221.5,669.4 229.5,670.5 237.5,671.6 245.5,672.3 253.5,673.0 261.5,673.2 269.5,673.7 277.5,673.6 285.5,673.4 293.5,673.3 301.5,673.3 309.5,673.7 317.5,674.6 325.5,675.2 333.5,675.7 341.5,675.8 349.5,676.1 357.5,676.4 365.5,677.2 373.5,678.1 381.5,678.7 389.5,679.8 397.5,681.7 405.5,684.1 413.5,687.2 421.5,690.2 429.5,693.1 437.5,695.3 445.5,697.4 453.5,699.4 461.5,701.0 469.5,702.1 477.5,703.3 485.5,704.3 493.5,705.5 501.5,707.5 509.5,709.0 517.5,709.7 525.5,710.0 533.5,710.1 541.5,710.0 549.5,709.5 557.5,708.6 565.5,706.6 573.5,702.9 581.5,699.1 589.5,695.1 597.5,690.8 605.5,687.6 613.5,685.8 621.5,685.0 629.5,685.1 637.5,686.7 645.5,689.6 653.5,695.1 661.5,703.1 669.5,713.0 677.5,722.5 685.5,731.1 693.5,739.4 701.5,747.3 709.5,754.8 717.5,762.0 725.5,766.9 733.5,769.5 741.5,770.8 749.5,770.8 757.5,770.1 765.5,768.8 773.5,766.6 781.5,763.2 789.5,759.4 797.5,755.7 805.5,752.3 813.5,748.6 821.5,745.2 829.5,741.7 837.5,738.1 845.5,735.0 853.5,733.1 861.5,731.8 869.5,731.3 877.5,730.8 885.5,730.5 893.5,730.7 901.5,731.1 909.5,731.8 917.5,732.5 925.5,732.8 933.5,732.6 941.5,732.2 949.5,731.8 957.5,731.6 965.5,731.1 973.5,730.7 981.5,730.5 989.5,730.1 997.5,729.7 1005.5,729.4 1013.5,729.1 1021.5,729.3 1029.5,730.1 1037.5,731.2 1045.5,732.5 1053.5,733.8 1061.5,735.1 1069.5,736.2 1077.5,737.3 1085.5,738.3 1093.5,738.4 1101.5,738.0 1109.5,737.6 1117.5,737.1 1125.5,736.9 1133.5,736.4 1141.5,735.7 1149.5,734.7 1157.5,733.2 1165.5,731.4 1173.5,729.3 1181.5,726.7 1189.5,723.8 1197.5,720.5 1205.5,717.4" fill="none" stroke="#ff0000" stroke-width="3" stroke-linejoin="round"/><rect x="4" y="4" width="1520" height="1" fill="#000"/><rect x="4" y="4" width="1" height="779" fill="#000"/><rect x="1523" y="4" width="1" height="628" fill="#000"/><rect x="4" y="631" width="1520" height="1" fill="#000"/><rect x="4" y="633" width="1520" height="1" fill="#000"/><rect x="1523" y="633" width="1" height="150" fill="#000"/><rect x="4" y="782" width="1520" height="1" fill="#000"/><rect x="1524" y="11" width="2" height="1" fill="#000"/><rect x="1524" y="76" width="2" height="1" fill="#000"/><rect x="1524" y="141" width="2" height="1" fill="#000"/><rect x="1524" y="206" width="2" height="1" fill="#000"/><rect x="1524" y="271" width="2" height="1" fill="#000"/><rect x="1524" y="336" width="2" height="1" fill="#000"/><rect x="1524" y="401" width="2" height="1" fill="#000"/><rect x="1524" y="466" width="2" height="1" fill="#000"/><rect x="1524" y="531" width="2" height="1" fill="#000"/><rect x="1524" y="596" width="2" height="1" fill="#000"/><rect x="1524" y="635" width="1" height="1" fill="#000"/><rect x="1524" y="699" width="2" height="1" fill="#000"/><rect x="5" y="783" width="1" height="3" fill="#000"/><rect x="133" y="783" width="1" height="3" fill="#000"/><rect x="261" y="783" width="1" height="3" fill="#000"/><rect x="389" y="783" width="1" height="3" fill="#000"/><rect x="517" y="783" width="1" height="3" fill="#000"/><rect x="645" y="783" width="1" height="3" fill="#000"/><rect x="773" y="783" width="1" height="3" fill="#000"/><rect x="901" y="783" width="1" height="3" fill="#000"/><rect x="1029" y="783" width="1" height="3" fill="#000"/><rect x="1157" y="783" width="1" height="3" fill="#000"/><rect x="5" y="486" width="1518" height="3" fill="#000"/><rect x="6" y="485" width="1517" height="1" fill="#000"/><rect x="5" y="518" width="1518" height="1" fill="#778899"/><polygon points="1210,5 1225.5,5 1217.7,13.5" fill="#778899" shape-rendering="geometricPrecision"/><g shape-rendering="geometricPrecision"><line x1="1217" y1="489" x2="1307.6" y2="690" stroke="#ff0000" stroke-width="6.3" stroke-linecap="round"/><polygon points="1293.3,686.3 1314.8,676.6 1318.7,714" fill="#ff0000"/></g><rect x="1525" y="481" width="62" height="17" fill="#000"/><rect x="1525" y="510" width="62" height="17" fill="#000"/><polygon points="6.2,11.4 19.4,11.4 13.3,18.3" fill="#000"/><g font-family='"Liberation Sans", sans-serif'><text x="1530" y="17" fill="#000" font-size="13.8" textLength="52" lengthAdjust="spacingAndGlyphs">1965.40</text><text x="1530" y="82" fill="#000" font-size="13.8" textLength="52" lengthAdjust="spacingAndGlyphs">1949.60</text><text x="1530" y="147" fill="#000" font-size="13.8" textLength="52" lengthAdjust="spacingAndGlyphs">1933.80</text><text x="1530" y="212" fill="#000" font-size="13.8" textLength="52" lengthAdjust="spacingAndGlyphs">1918.00</text><text x="1530" y="277" fill="#000" font-size="13.8" textLength="52" lengthAdjust="spacingAndGlyphs">1902.40</text><text x="1530" y="342" fill="#000" font-size="13.8" textLength="52" lengthAdjust="spacingAndGlyphs">1886.60</text><text x="1530" y="407" fill="#000" font-size="13.8" textLength="52" lengthAdjust="spacingAndGlyphs">1870.80</text><text x="1530" y="472" fill="#000" font-size="13.8" textLength="52" lengthAdjust="spacingAndGlyphs">1855.00</text><text x="1530" y="537" fill="#000" font-size="13.8" textLength="52" lengthAdjust="spacingAndGlyphs">1839.20</text><text x="1530" y="602" fill="#000" font-size="13.8" textLength="52" lengthAdjust="spacingAndGlyphs">1823.60</text><text x="1530" y="495" fill="#fff" font-size="13.8" textLength="52" lengthAdjust="spacingAndGlyphs">1850.00</text><text x="1530" y="524" fill="#fff" font-size="13.8" textLength="52" lengthAdjust="spacingAndGlyphs">1842.53</text><text x="1527" y="650" fill="#000" font-size="13.8" textLength="44" lengthAdjust="spacingAndGlyphs">14.316</text><text x="1527" y="705" fill="#000" font-size="13.8" textLength="28" lengthAdjust="spacingAndGlyphs">0.00</text><text x="1527" y="778" fill="#000" font-size="13.8" textLength="49" lengthAdjust="spacingAndGlyphs">-18.454</text><text x="4.5" y="800" fill="#000" font-size="13.8" textLength="76" lengthAdjust="spacingAndGlyphs">17 Jan 2023</text><text x="132.5" y="800" fill="#000" font-size="13.8" textLength="82" lengthAdjust="spacingAndGlyphs">19 Jan 16:00</text><text x="260.5" y="800" fill="#000" font-size="13.8" textLength="82" lengthAdjust="spacingAndGlyphs">24 Jan 08:00</text><text x="388.5" y="800" fill="#000" font-size="13.8" textLength="81.5" lengthAdjust="spacingAndGlyphs">27 Jan 00:00</text><text x="516.5" y="800" fill="#000" font-size="13.8" textLength="82" lengthAdjust="spacingAndGlyphs">31 Jan 16:00</text><text x="644.5" y="800" fill="#000" font-size="13.8" textLength="75" lengthAdjust="spacingAndGlyphs">3 Feb 08:00</text><text x="772.5" y="800" fill="#000" font-size="13.8" textLength="75.5" lengthAdjust="spacingAndGlyphs">8 Feb 00:00</text><text x="900.5" y="800" fill="#000" font-size="13.8" textLength="82" lengthAdjust="spacingAndGlyphs">10 Feb 16:00</text><text x="1028.5" y="800" fill="#000" font-size="13.8" textLength="83" lengthAdjust="spacingAndGlyphs">15 Feb 08:00</text><text x="1156.5" y="800" fill="#000" font-size="13.8" textLength="83" lengthAdjust="spacingAndGlyphs">20 Feb 00:00</text><text x="25" y="21" fill="#000" font-size="13.8" textLength="79" lengthAdjust="spacingAndGlyphs">XAUUSD-,H4</text><text x="112.3" y="21" fill="#000" font-size="13.8" textLength="52" lengthAdjust="spacingAndGlyphs">1841.62</text><text x="168.6" y="21" fill="#000" font-size="13.8" textLength="51" lengthAdjust="spacingAndGlyphs">1843.65</text><text x="224.6" y="21" fill="#000" font-size="13.8" textLength="50.5" lengthAdjust="spacingAndGlyphs">1839.91</text><text x="280.3" y="21" fill="#000" font-size="13.8" textLength="51" lengthAdjust="spacingAndGlyphs">1842.53</text><text x="9" y="651" fill="#000" font-size="13.8" textLength="185" lengthAdjust="spacingAndGlyphs">MACD(12,26,9) -1.845 -3.886</text></g></svg></body></html>
